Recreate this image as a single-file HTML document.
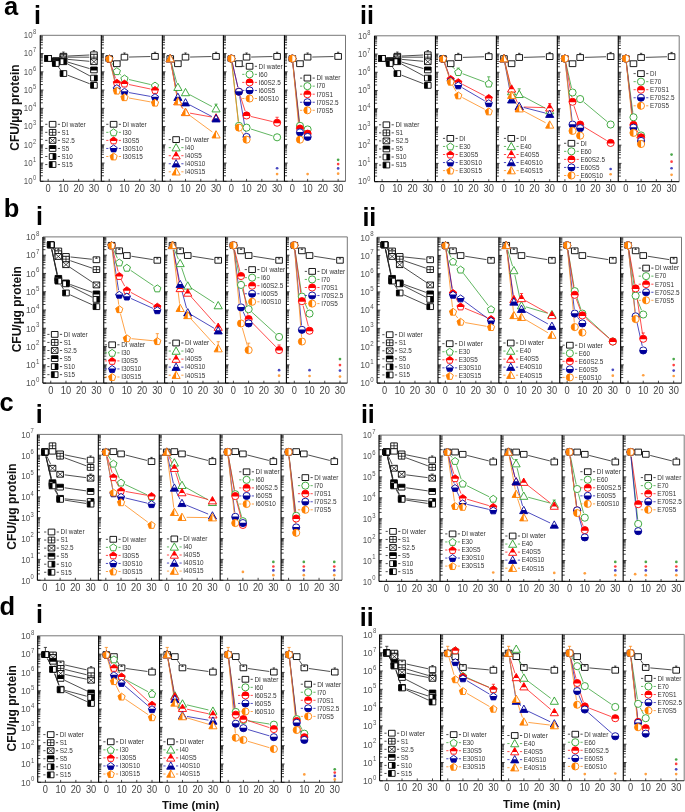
<!DOCTYPE html>
<html><head><meta charset="utf-8"><style>
html,body{margin:0;padding:0;background:#fff;}
svg{display:block;will-change:transform;filter:blur(0.35px);}
text{font-family:"Liberation Sans",sans-serif;}
.xt{font-size:10.1px;fill:#444;text-anchor:middle;}
.yt{fill:#555;text-anchor:end;}
.ytitle{font-size:12px;font-weight:bold;fill:#111;text-anchor:middle;}
.lt{font-size:25.5px;font-weight:bold;fill:#000;}
.rn{font-size:25px;font-weight:bold;fill:#000;}
.lg{font-size:6.9px;fill:#333;}
.tt{font-size:11.4px;font-weight:bold;fill:#111;text-anchor:middle;}
</style></head><body>
<svg width="685" height="812" viewBox="0 0 685 812">
<defs>
<clipPath id="htop"><rect x="-5.1" y="-5.1" width="10.2" height="5.6"/></clipPath>
<clipPath id="hbottom"><rect x="-5.1" y="-0.4" width="10.2" height="5.5"/></clipPath>
<clipPath id="hleft"><rect x="-5.1" y="-5.1" width="5.1" height="10.2"/></clipPath>
<clipPath id="hright"><rect x="0" y="-5.1" width="5.1" height="10.2"/></clipPath>
<g id="mcircbottomb"><path d="M-3.57 0a3.57 3.57 0 1 0 7.14 0a3.57 3.57 0 1 0 -7.14 0z" fill="#fff" stroke="#000099" stroke-width="0.9"/><path d="M-3.57 0a3.57 3.57 0 1 0 7.14 0a3.57 3.57 0 1 0 -7.14 0z" fill="#000099" clip-path="url(#hbottom)"/></g>
<g id="mcirclefto"><path d="M-3.57 0a3.57 3.57 0 1 0 7.14 0a3.57 3.57 0 1 0 -7.14 0z" fill="#fff" stroke="#ff8000" stroke-width="0.9"/><path d="M-3.57 0a3.57 3.57 0 1 0 7.14 0a3.57 3.57 0 1 0 -7.14 0z" fill="#ff8000" clip-path="url(#hleft)"/></g>
<g id="mcircopeng"><path d="M-3.57 0a3.57 3.57 0 1 0 7.14 0a3.57 3.57 0 1 0 -7.14 0z" fill="#fff" stroke="#2ca02c" stroke-width="0.9"/></g>
<g id="mcirctopr"><path d="M-3.57 0a3.57 3.57 0 1 0 7.14 0a3.57 3.57 0 1 0 -7.14 0z" fill="#fff" stroke="#ff0000" stroke-width="0.9"/><path d="M-3.57 0a3.57 3.57 0 1 0 7.14 0a3.57 3.57 0 1 0 -7.14 0z" fill="#ff0000" clip-path="url(#htop)"/></g>
<g id="mpentbottomb"><path d="M0 -3.46L3.62 -0.83L2.24 3.43L-2.24 3.43L-3.62 -0.83z" fill="#fff" stroke="#000099" stroke-width="0.9"/><path d="M0 -3.46L3.62 -0.83L2.24 3.43L-2.24 3.43L-3.62 -0.83z" fill="#000099" clip-path="url(#hbottom)"/></g>
<g id="mpentlefto"><path d="M0 -3.46L3.62 -0.83L2.24 3.43L-2.24 3.43L-3.62 -0.83z" fill="#fff" stroke="#ff8000" stroke-width="0.9"/><path d="M0 -3.46L3.62 -0.83L2.24 3.43L-2.24 3.43L-3.62 -0.83z" fill="#ff8000" clip-path="url(#hleft)"/></g>
<g id="mpentopeng"><path d="M0 -3.46L3.62 -0.83L2.24 3.43L-2.24 3.43L-3.62 -0.83z" fill="#fff" stroke="#2ca02c" stroke-width="0.9"/></g>
<g id="mpenttopr"><path d="M0 -3.46L3.62 -0.83L2.24 3.43L-2.24 3.43L-3.62 -0.83z" fill="#fff" stroke="#ff0000" stroke-width="0.9"/><path d="M0 -3.46L3.62 -0.83L2.24 3.43L-2.24 3.43L-3.62 -0.83z" fill="#ff0000" clip-path="url(#htop)"/></g>
<g id="msqleftk"><path d="M-3.3 -2.9h6.6v5.8h-6.6z" fill="#fff" stroke="#000" stroke-width="0.9"/><path d="M-3.3 -2.9h6.6v5.8h-6.6z" fill="#000" clip-path="url(#hleft)"/></g>
<g id="msqopenk"><path d="M-3.3 -2.9h6.6v5.8h-6.6z" fill="#fff" stroke="#000" stroke-width="0.9"/></g>
<g id="msqplusk"><path d="M-3.3 -2.9h6.6v5.8h-6.6z" fill="#fff" stroke="#000" stroke-width="0.9"/><path d="M-3.3 0h6.6M0 -2.9v5.8" stroke="#000" stroke-width="0.7"/></g>
<g id="msqrightk"><path d="M-3.3 -2.9h6.6v5.8h-6.6z" fill="#fff" stroke="#000" stroke-width="0.9"/><path d="M-3.3 -2.9h6.6v5.8h-6.6z" fill="#000" clip-path="url(#hright)"/></g>
<g id="msqtopk"><path d="M-3.3 -2.9h6.6v5.8h-6.6z" fill="#fff" stroke="#000" stroke-width="0.9"/><path d="M-3.3 -2.9h6.6v5.8h-6.6z" fill="#000" clip-path="url(#htop)"/></g>
<g id="msqxk"><path d="M-3.3 -2.9h6.6v5.8h-6.6z" fill="#fff" stroke="#000" stroke-width="0.9"/><path d="M-3.3 -2.9L3.3 2.9M3.3 -2.9L-3.3 2.9" stroke="#000" stroke-width="0.7"/></g>
<g id="mtribottomb"><path d="M0 -4.08L4.08 3.23L-4.08 3.23z" fill="#fff" stroke="#000099" stroke-width="0.9"/><path d="M0 -4.08L4.08 3.23L-4.08 3.23z" fill="#000099" clip-path="url(#hbottom)"/></g>
<g id="mtrilefto"><path d="M0 -4.08L4.08 3.23L-4.08 3.23z" fill="#fff" stroke="#ff8000" stroke-width="0.9"/><path d="M0 -4.08L4.08 3.23L-4.08 3.23z" fill="#ff8000" clip-path="url(#hleft)"/></g>
<g id="mtriopeng"><path d="M0 -4.08L4.08 3.23L-4.08 3.23z" fill="#fff" stroke="#2ca02c" stroke-width="0.9"/></g>
<g id="mtritopr"><path d="M0 -4.08L4.08 3.23L-4.08 3.23z" fill="#fff" stroke="#ff0000" stroke-width="0.9"/><path d="M0 -4.08L4.08 3.23L-4.08 3.23z" fill="#ff0000" clip-path="url(#htop)"/></g>
</defs>
<path d="M40.25 35.3H345.5V181.3" fill="none" stroke="#777" stroke-width="1"/>
<path d="M40.25 181.3H345.5" stroke="#222" stroke-width="1.1"/>
<path d="M40.25 35.3V181.3" stroke="#000" stroke-width="1.1"/>
<path d="M40.25 181.3h3.2M40.25 175.81h2.6M40.25 172.59h2.6M40.25 170.31h2.6M40.25 168.54h2.6M40.25 167.1h2.6M40.25 165.88h2.6M40.25 164.82h2.6M40.25 163.89h2.6M40.25 163.05h3.2M40.25 157.56h2.6M40.25 154.34h2.6M40.25 152.06h2.6M40.25 150.29h2.6M40.25 148.85h2.6M40.25 147.63h2.6M40.25 146.57h2.6M40.25 145.64h2.6M40.25 144.8h3.2M40.25 139.31h2.6M40.25 136.09h2.6M40.25 133.81h2.6M40.25 132.04h2.6M40.25 130.6h2.6M40.25 129.38h2.6M40.25 128.32h2.6M40.25 127.39h2.6M40.25 126.55h3.2M40.25 121.06h2.6M40.25 117.84h2.6M40.25 115.56h2.6M40.25 113.79h2.6M40.25 112.35h2.6M40.25 111.13h2.6M40.25 110.07h2.6M40.25 109.14h2.6M40.25 108.3h3.2M40.25 102.81h2.6M40.25 99.59h2.6M40.25 97.31h2.6M40.25 95.54h2.6M40.25 94.1h2.6M40.25 92.88h2.6M40.25 91.82h2.6M40.25 90.89h2.6M40.25 90.05h3.2M40.25 84.56h2.6M40.25 81.34h2.6M40.25 79.06h2.6M40.25 77.29h2.6M40.25 75.85h2.6M40.25 74.63h2.6M40.25 73.57h2.6M40.25 72.64h2.6M40.25 71.8h3.2M40.25 66.31h2.6M40.25 63.09h2.6M40.25 60.81h2.6M40.25 59.04h2.6M40.25 57.6h2.6M40.25 56.38h2.6M40.25 55.32h2.6M40.25 54.39h2.6M40.25 53.55h3.2M40.25 48.06h2.6M40.25 44.84h2.6M40.25 42.56h2.6M40.25 40.79h2.6M40.25 39.35h2.6M40.25 38.13h2.6M40.25 37.07h2.6M40.25 36.14h2.6" stroke="#000" stroke-width="0.75"/>
<path d="M48.15 181.3v-2.4M63.41 181.3v-2.4M78.67 181.3v-2.4M93.94 181.3v-2.4" stroke="#000" stroke-width="0.7"/>
<text transform="translate(48.15 191.8) scale(0.92 1)" class="xt">0</text>
<text transform="translate(63.41 191.8) scale(0.92 1)" class="xt">10</text>
<text transform="translate(78.67 191.8) scale(0.92 1)" class="xt">20</text>
<text transform="translate(93.94 191.8) scale(0.92 1)" class="xt">30</text>
<path d="M101.3 35.3V181.3" stroke="#000" stroke-width="1.1"/>
<path d="M101.3 181.3h3.2M101.3 175.81h2.6M101.3 172.59h2.6M101.3 170.31h2.6M101.3 168.54h2.6M101.3 167.1h2.6M101.3 165.88h2.6M101.3 164.82h2.6M101.3 163.89h2.6M101.3 163.05h3.2M101.3 157.56h2.6M101.3 154.34h2.6M101.3 152.06h2.6M101.3 150.29h2.6M101.3 148.85h2.6M101.3 147.63h2.6M101.3 146.57h2.6M101.3 145.64h2.6M101.3 144.8h3.2M101.3 139.31h2.6M101.3 136.09h2.6M101.3 133.81h2.6M101.3 132.04h2.6M101.3 130.6h2.6M101.3 129.38h2.6M101.3 128.32h2.6M101.3 127.39h2.6M101.3 126.55h3.2M101.3 121.06h2.6M101.3 117.84h2.6M101.3 115.56h2.6M101.3 113.79h2.6M101.3 112.35h2.6M101.3 111.13h2.6M101.3 110.07h2.6M101.3 109.14h2.6M101.3 108.3h3.2M101.3 102.81h2.6M101.3 99.59h2.6M101.3 97.31h2.6M101.3 95.54h2.6M101.3 94.1h2.6M101.3 92.88h2.6M101.3 91.82h2.6M101.3 90.89h2.6M101.3 90.05h3.2M101.3 84.56h2.6M101.3 81.34h2.6M101.3 79.06h2.6M101.3 77.29h2.6M101.3 75.85h2.6M101.3 74.63h2.6M101.3 73.57h2.6M101.3 72.64h2.6M101.3 71.8h3.2M101.3 66.31h2.6M101.3 63.09h2.6M101.3 60.81h2.6M101.3 59.04h2.6M101.3 57.6h2.6M101.3 56.38h2.6M101.3 55.32h2.6M101.3 54.39h2.6M101.3 53.55h3.2M101.3 48.06h2.6M101.3 44.84h2.6M101.3 42.56h2.6M101.3 40.79h2.6M101.3 39.35h2.6M101.3 38.13h2.6M101.3 37.07h2.6M101.3 36.14h2.6" stroke="#000" stroke-width="0.75"/>
<path d="M109.2 181.3v-2.4M124.46 181.3v-2.4M139.72 181.3v-2.4M154.99 181.3v-2.4" stroke="#000" stroke-width="0.7"/>
<text transform="translate(109.2 191.8) scale(0.92 1)" class="xt">0</text>
<text transform="translate(124.46 191.8) scale(0.92 1)" class="xt">10</text>
<text transform="translate(139.72 191.8) scale(0.92 1)" class="xt">20</text>
<text transform="translate(154.99 191.8) scale(0.92 1)" class="xt">30</text>
<path d="M162.35 35.3V181.3" stroke="#000" stroke-width="1.1"/>
<path d="M162.35 181.3h3.2M162.35 175.81h2.6M162.35 172.59h2.6M162.35 170.31h2.6M162.35 168.54h2.6M162.35 167.1h2.6M162.35 165.88h2.6M162.35 164.82h2.6M162.35 163.89h2.6M162.35 163.05h3.2M162.35 157.56h2.6M162.35 154.34h2.6M162.35 152.06h2.6M162.35 150.29h2.6M162.35 148.85h2.6M162.35 147.63h2.6M162.35 146.57h2.6M162.35 145.64h2.6M162.35 144.8h3.2M162.35 139.31h2.6M162.35 136.09h2.6M162.35 133.81h2.6M162.35 132.04h2.6M162.35 130.6h2.6M162.35 129.38h2.6M162.35 128.32h2.6M162.35 127.39h2.6M162.35 126.55h3.2M162.35 121.06h2.6M162.35 117.84h2.6M162.35 115.56h2.6M162.35 113.79h2.6M162.35 112.35h2.6M162.35 111.13h2.6M162.35 110.07h2.6M162.35 109.14h2.6M162.35 108.3h3.2M162.35 102.81h2.6M162.35 99.59h2.6M162.35 97.31h2.6M162.35 95.54h2.6M162.35 94.1h2.6M162.35 92.88h2.6M162.35 91.82h2.6M162.35 90.89h2.6M162.35 90.05h3.2M162.35 84.56h2.6M162.35 81.34h2.6M162.35 79.06h2.6M162.35 77.29h2.6M162.35 75.85h2.6M162.35 74.63h2.6M162.35 73.57h2.6M162.35 72.64h2.6M162.35 71.8h3.2M162.35 66.31h2.6M162.35 63.09h2.6M162.35 60.81h2.6M162.35 59.04h2.6M162.35 57.6h2.6M162.35 56.38h2.6M162.35 55.32h2.6M162.35 54.39h2.6M162.35 53.55h3.2M162.35 48.06h2.6M162.35 44.84h2.6M162.35 42.56h2.6M162.35 40.79h2.6M162.35 39.35h2.6M162.35 38.13h2.6M162.35 37.07h2.6M162.35 36.14h2.6" stroke="#000" stroke-width="0.75"/>
<path d="M170.25 181.3v-2.4M185.51 181.3v-2.4M200.78 181.3v-2.4M216.04 181.3v-2.4" stroke="#000" stroke-width="0.7"/>
<text transform="translate(170.25 191.8) scale(0.92 1)" class="xt">0</text>
<text transform="translate(185.51 191.8) scale(0.92 1)" class="xt">10</text>
<text transform="translate(200.78 191.8) scale(0.92 1)" class="xt">20</text>
<text transform="translate(216.04 191.8) scale(0.92 1)" class="xt">30</text>
<path d="M223.4 35.3V181.3" stroke="#000" stroke-width="1.1"/>
<path d="M223.4 181.3h3.2M223.4 175.81h2.6M223.4 172.59h2.6M223.4 170.31h2.6M223.4 168.54h2.6M223.4 167.1h2.6M223.4 165.88h2.6M223.4 164.82h2.6M223.4 163.89h2.6M223.4 163.05h3.2M223.4 157.56h2.6M223.4 154.34h2.6M223.4 152.06h2.6M223.4 150.29h2.6M223.4 148.85h2.6M223.4 147.63h2.6M223.4 146.57h2.6M223.4 145.64h2.6M223.4 144.8h3.2M223.4 139.31h2.6M223.4 136.09h2.6M223.4 133.81h2.6M223.4 132.04h2.6M223.4 130.6h2.6M223.4 129.38h2.6M223.4 128.32h2.6M223.4 127.39h2.6M223.4 126.55h3.2M223.4 121.06h2.6M223.4 117.84h2.6M223.4 115.56h2.6M223.4 113.79h2.6M223.4 112.35h2.6M223.4 111.13h2.6M223.4 110.07h2.6M223.4 109.14h2.6M223.4 108.3h3.2M223.4 102.81h2.6M223.4 99.59h2.6M223.4 97.31h2.6M223.4 95.54h2.6M223.4 94.1h2.6M223.4 92.88h2.6M223.4 91.82h2.6M223.4 90.89h2.6M223.4 90.05h3.2M223.4 84.56h2.6M223.4 81.34h2.6M223.4 79.06h2.6M223.4 77.29h2.6M223.4 75.85h2.6M223.4 74.63h2.6M223.4 73.57h2.6M223.4 72.64h2.6M223.4 71.8h3.2M223.4 66.31h2.6M223.4 63.09h2.6M223.4 60.81h2.6M223.4 59.04h2.6M223.4 57.6h2.6M223.4 56.38h2.6M223.4 55.32h2.6M223.4 54.39h2.6M223.4 53.55h3.2M223.4 48.06h2.6M223.4 44.84h2.6M223.4 42.56h2.6M223.4 40.79h2.6M223.4 39.35h2.6M223.4 38.13h2.6M223.4 37.07h2.6M223.4 36.14h2.6" stroke="#000" stroke-width="0.75"/>
<path d="M231.3 181.3v-2.4M246.56 181.3v-2.4M261.82 181.3v-2.4M277.09 181.3v-2.4" stroke="#000" stroke-width="0.7"/>
<text transform="translate(231.3 191.8) scale(0.92 1)" class="xt">0</text>
<text transform="translate(246.56 191.8) scale(0.92 1)" class="xt">10</text>
<text transform="translate(261.82 191.8) scale(0.92 1)" class="xt">20</text>
<text transform="translate(277.09 191.8) scale(0.92 1)" class="xt">30</text>
<path d="M284.45 35.3V181.3" stroke="#000" stroke-width="1.1"/>
<path d="M284.45 181.3h3.2M284.45 175.81h2.6M284.45 172.59h2.6M284.45 170.31h2.6M284.45 168.54h2.6M284.45 167.1h2.6M284.45 165.88h2.6M284.45 164.82h2.6M284.45 163.89h2.6M284.45 163.05h3.2M284.45 157.56h2.6M284.45 154.34h2.6M284.45 152.06h2.6M284.45 150.29h2.6M284.45 148.85h2.6M284.45 147.63h2.6M284.45 146.57h2.6M284.45 145.64h2.6M284.45 144.8h3.2M284.45 139.31h2.6M284.45 136.09h2.6M284.45 133.81h2.6M284.45 132.04h2.6M284.45 130.6h2.6M284.45 129.38h2.6M284.45 128.32h2.6M284.45 127.39h2.6M284.45 126.55h3.2M284.45 121.06h2.6M284.45 117.84h2.6M284.45 115.56h2.6M284.45 113.79h2.6M284.45 112.35h2.6M284.45 111.13h2.6M284.45 110.07h2.6M284.45 109.14h2.6M284.45 108.3h3.2M284.45 102.81h2.6M284.45 99.59h2.6M284.45 97.31h2.6M284.45 95.54h2.6M284.45 94.1h2.6M284.45 92.88h2.6M284.45 91.82h2.6M284.45 90.89h2.6M284.45 90.05h3.2M284.45 84.56h2.6M284.45 81.34h2.6M284.45 79.06h2.6M284.45 77.29h2.6M284.45 75.85h2.6M284.45 74.63h2.6M284.45 73.57h2.6M284.45 72.64h2.6M284.45 71.8h3.2M284.45 66.31h2.6M284.45 63.09h2.6M284.45 60.81h2.6M284.45 59.04h2.6M284.45 57.6h2.6M284.45 56.38h2.6M284.45 55.32h2.6M284.45 54.39h2.6M284.45 53.55h3.2M284.45 48.06h2.6M284.45 44.84h2.6M284.45 42.56h2.6M284.45 40.79h2.6M284.45 39.35h2.6M284.45 38.13h2.6M284.45 37.07h2.6M284.45 36.14h2.6" stroke="#000" stroke-width="0.75"/>
<path d="M292.35 181.3v-2.4M307.61 181.3v-2.4M322.87 181.3v-2.4M338.14 181.3v-2.4" stroke="#000" stroke-width="0.7"/>
<text transform="translate(292.35 191.8) scale(0.92 1)" class="xt">0</text>
<text transform="translate(307.61 191.8) scale(0.92 1)" class="xt">10</text>
<text transform="translate(322.87 191.8) scale(0.92 1)" class="xt">20</text>
<text transform="translate(338.14 191.8) scale(0.92 1)" class="xt">30</text>
<text transform="translate(36.25 184) scale(0.84 1)" class="yt" font-size="9.4">10<tspan dx="0.5" dy="-3.8" font-size="6.8">0</tspan></text>
<text transform="translate(36.25 165.75) scale(0.84 1)" class="yt" font-size="9.4">10<tspan dx="0.5" dy="-3.8" font-size="6.8">1</tspan></text>
<text transform="translate(36.25 147.5) scale(0.84 1)" class="yt" font-size="9.4">10<tspan dx="0.5" dy="-3.8" font-size="6.8">2</tspan></text>
<text transform="translate(36.25 129.25) scale(0.84 1)" class="yt" font-size="9.4">10<tspan dx="0.5" dy="-3.8" font-size="6.8">3</tspan></text>
<text transform="translate(36.25 111) scale(0.84 1)" class="yt" font-size="9.4">10<tspan dx="0.5" dy="-3.8" font-size="6.8">4</tspan></text>
<text transform="translate(36.25 92.75) scale(0.84 1)" class="yt" font-size="9.4">10<tspan dx="0.5" dy="-3.8" font-size="6.8">5</tspan></text>
<text transform="translate(36.25 74.5) scale(0.84 1)" class="yt" font-size="9.4">10<tspan dx="0.5" dy="-3.8" font-size="6.8">6</tspan></text>
<text transform="translate(36.25 56.25) scale(0.84 1)" class="yt" font-size="9.4">10<tspan dx="0.5" dy="-3.8" font-size="6.8">7</tspan></text>
<text transform="translate(36.25 38) scale(0.84 1)" class="yt" font-size="9.4">10<tspan dx="0.5" dy="-3.8" font-size="6.8">8</tspan></text>
<path d="M374.5 35.8H679.2V181.6" fill="none" stroke="#777" stroke-width="1"/>
<path d="M374.5 181.6H679.2" stroke="#222" stroke-width="1.1"/>
<path d="M374.5 35.8V181.6" stroke="#000" stroke-width="1.1"/>
<path d="M374.5 181.6h3.2M374.5 176.11h2.6M374.5 172.9h2.6M374.5 170.63h2.6M374.5 168.86h2.6M374.5 167.42h2.6M374.5 166.2h2.6M374.5 165.14h2.6M374.5 164.21h2.6M374.5 163.38h3.2M374.5 157.89h2.6M374.5 154.68h2.6M374.5 152.4h2.6M374.5 150.64h2.6M374.5 149.19h2.6M374.5 147.97h2.6M374.5 146.92h2.6M374.5 145.98h2.6M374.5 145.15h3.2M374.5 139.66h2.6M374.5 136.45h2.6M374.5 134.18h2.6M374.5 132.41h2.6M374.5 130.97h2.6M374.5 129.75h2.6M374.5 128.69h2.6M374.5 127.76h2.6M374.5 126.92h3.2M374.5 121.44h2.6M374.5 118.23h2.6M374.5 115.95h2.6M374.5 114.19h2.6M374.5 112.74h2.6M374.5 111.52h2.6M374.5 110.47h2.6M374.5 109.53h2.6M374.5 108.7h3.2M374.5 103.21h2.6M374.5 100h2.6M374.5 97.73h2.6M374.5 95.96h2.6M374.5 94.52h2.6M374.5 93.3h2.6M374.5 92.24h2.6M374.5 91.31h2.6M374.5 90.47h3.2M374.5 84.99h2.6M374.5 81.78h2.6M374.5 79.5h2.6M374.5 77.74h2.6M374.5 76.29h2.6M374.5 75.07h2.6M374.5 74.02h2.6M374.5 73.08h2.6M374.5 72.25h3.2M374.5 66.76h2.6M374.5 63.55h2.6M374.5 61.28h2.6M374.5 59.51h2.6M374.5 58.07h2.6M374.5 56.85h2.6M374.5 55.79h2.6M374.5 54.86h2.6M374.5 54.02h3.2M374.5 48.54h2.6M374.5 45.33h2.6M374.5 43.05h2.6M374.5 41.29h2.6M374.5 39.84h2.6M374.5 38.62h2.6M374.5 37.57h2.6M374.5 36.63h2.6" stroke="#000" stroke-width="0.75"/>
<path d="M382.1 181.6v-2.4M397.34 181.6v-2.4M412.57 181.6v-2.4M427.81 181.6v-2.4" stroke="#000" stroke-width="0.7"/>
<text transform="translate(382.1 192.1) scale(0.92 1)" class="xt">0</text>
<text transform="translate(397.34 192.1) scale(0.92 1)" class="xt">10</text>
<text transform="translate(412.57 192.1) scale(0.92 1)" class="xt">20</text>
<text transform="translate(427.81 192.1) scale(0.92 1)" class="xt">30</text>
<path d="M435.44 35.8V181.6" stroke="#000" stroke-width="1.1"/>
<path d="M435.44 181.6h3.2M435.44 176.11h2.6M435.44 172.9h2.6M435.44 170.63h2.6M435.44 168.86h2.6M435.44 167.42h2.6M435.44 166.2h2.6M435.44 165.14h2.6M435.44 164.21h2.6M435.44 163.38h3.2M435.44 157.89h2.6M435.44 154.68h2.6M435.44 152.4h2.6M435.44 150.64h2.6M435.44 149.19h2.6M435.44 147.97h2.6M435.44 146.92h2.6M435.44 145.98h2.6M435.44 145.15h3.2M435.44 139.66h2.6M435.44 136.45h2.6M435.44 134.18h2.6M435.44 132.41h2.6M435.44 130.97h2.6M435.44 129.75h2.6M435.44 128.69h2.6M435.44 127.76h2.6M435.44 126.92h3.2M435.44 121.44h2.6M435.44 118.23h2.6M435.44 115.95h2.6M435.44 114.19h2.6M435.44 112.74h2.6M435.44 111.52h2.6M435.44 110.47h2.6M435.44 109.53h2.6M435.44 108.7h3.2M435.44 103.21h2.6M435.44 100h2.6M435.44 97.73h2.6M435.44 95.96h2.6M435.44 94.52h2.6M435.44 93.3h2.6M435.44 92.24h2.6M435.44 91.31h2.6M435.44 90.47h3.2M435.44 84.99h2.6M435.44 81.78h2.6M435.44 79.5h2.6M435.44 77.74h2.6M435.44 76.29h2.6M435.44 75.07h2.6M435.44 74.02h2.6M435.44 73.08h2.6M435.44 72.25h3.2M435.44 66.76h2.6M435.44 63.55h2.6M435.44 61.28h2.6M435.44 59.51h2.6M435.44 58.07h2.6M435.44 56.85h2.6M435.44 55.79h2.6M435.44 54.86h2.6M435.44 54.02h3.2M435.44 48.54h2.6M435.44 45.33h2.6M435.44 43.05h2.6M435.44 41.29h2.6M435.44 39.84h2.6M435.44 38.62h2.6M435.44 37.57h2.6M435.44 36.63h2.6" stroke="#000" stroke-width="0.75"/>
<path d="M443.04 181.6v-2.4M458.28 181.6v-2.4M473.51 181.6v-2.4M488.75 181.6v-2.4" stroke="#000" stroke-width="0.7"/>
<text transform="translate(443.04 192.1) scale(0.92 1)" class="xt">0</text>
<text transform="translate(458.28 192.1) scale(0.92 1)" class="xt">10</text>
<text transform="translate(473.51 192.1) scale(0.92 1)" class="xt">20</text>
<text transform="translate(488.75 192.1) scale(0.92 1)" class="xt">30</text>
<path d="M496.38 35.8V181.6" stroke="#000" stroke-width="1.1"/>
<path d="M496.38 181.6h3.2M496.38 176.11h2.6M496.38 172.9h2.6M496.38 170.63h2.6M496.38 168.86h2.6M496.38 167.42h2.6M496.38 166.2h2.6M496.38 165.14h2.6M496.38 164.21h2.6M496.38 163.38h3.2M496.38 157.89h2.6M496.38 154.68h2.6M496.38 152.4h2.6M496.38 150.64h2.6M496.38 149.19h2.6M496.38 147.97h2.6M496.38 146.92h2.6M496.38 145.98h2.6M496.38 145.15h3.2M496.38 139.66h2.6M496.38 136.45h2.6M496.38 134.18h2.6M496.38 132.41h2.6M496.38 130.97h2.6M496.38 129.75h2.6M496.38 128.69h2.6M496.38 127.76h2.6M496.38 126.92h3.2M496.38 121.44h2.6M496.38 118.23h2.6M496.38 115.95h2.6M496.38 114.19h2.6M496.38 112.74h2.6M496.38 111.52h2.6M496.38 110.47h2.6M496.38 109.53h2.6M496.38 108.7h3.2M496.38 103.21h2.6M496.38 100h2.6M496.38 97.73h2.6M496.38 95.96h2.6M496.38 94.52h2.6M496.38 93.3h2.6M496.38 92.24h2.6M496.38 91.31h2.6M496.38 90.47h3.2M496.38 84.99h2.6M496.38 81.78h2.6M496.38 79.5h2.6M496.38 77.74h2.6M496.38 76.29h2.6M496.38 75.07h2.6M496.38 74.02h2.6M496.38 73.08h2.6M496.38 72.25h3.2M496.38 66.76h2.6M496.38 63.55h2.6M496.38 61.28h2.6M496.38 59.51h2.6M496.38 58.07h2.6M496.38 56.85h2.6M496.38 55.79h2.6M496.38 54.86h2.6M496.38 54.02h3.2M496.38 48.54h2.6M496.38 45.33h2.6M496.38 43.05h2.6M496.38 41.29h2.6M496.38 39.84h2.6M496.38 38.62h2.6M496.38 37.57h2.6M496.38 36.63h2.6" stroke="#000" stroke-width="0.75"/>
<path d="M503.98 181.6v-2.4M519.22 181.6v-2.4M534.45 181.6v-2.4M549.69 181.6v-2.4" stroke="#000" stroke-width="0.7"/>
<text transform="translate(503.98 192.1) scale(0.92 1)" class="xt">0</text>
<text transform="translate(519.22 192.1) scale(0.92 1)" class="xt">10</text>
<text transform="translate(534.45 192.1) scale(0.92 1)" class="xt">20</text>
<text transform="translate(549.69 192.1) scale(0.92 1)" class="xt">30</text>
<path d="M557.32 35.8V181.6" stroke="#000" stroke-width="1.1"/>
<path d="M557.32 181.6h3.2M557.32 176.11h2.6M557.32 172.9h2.6M557.32 170.63h2.6M557.32 168.86h2.6M557.32 167.42h2.6M557.32 166.2h2.6M557.32 165.14h2.6M557.32 164.21h2.6M557.32 163.38h3.2M557.32 157.89h2.6M557.32 154.68h2.6M557.32 152.4h2.6M557.32 150.64h2.6M557.32 149.19h2.6M557.32 147.97h2.6M557.32 146.92h2.6M557.32 145.98h2.6M557.32 145.15h3.2M557.32 139.66h2.6M557.32 136.45h2.6M557.32 134.18h2.6M557.32 132.41h2.6M557.32 130.97h2.6M557.32 129.75h2.6M557.32 128.69h2.6M557.32 127.76h2.6M557.32 126.92h3.2M557.32 121.44h2.6M557.32 118.23h2.6M557.32 115.95h2.6M557.32 114.19h2.6M557.32 112.74h2.6M557.32 111.52h2.6M557.32 110.47h2.6M557.32 109.53h2.6M557.32 108.7h3.2M557.32 103.21h2.6M557.32 100h2.6M557.32 97.73h2.6M557.32 95.96h2.6M557.32 94.52h2.6M557.32 93.3h2.6M557.32 92.24h2.6M557.32 91.31h2.6M557.32 90.47h3.2M557.32 84.99h2.6M557.32 81.78h2.6M557.32 79.5h2.6M557.32 77.74h2.6M557.32 76.29h2.6M557.32 75.07h2.6M557.32 74.02h2.6M557.32 73.08h2.6M557.32 72.25h3.2M557.32 66.76h2.6M557.32 63.55h2.6M557.32 61.28h2.6M557.32 59.51h2.6M557.32 58.07h2.6M557.32 56.85h2.6M557.32 55.79h2.6M557.32 54.86h2.6M557.32 54.02h3.2M557.32 48.54h2.6M557.32 45.33h2.6M557.32 43.05h2.6M557.32 41.29h2.6M557.32 39.84h2.6M557.32 38.62h2.6M557.32 37.57h2.6M557.32 36.63h2.6" stroke="#000" stroke-width="0.75"/>
<path d="M564.92 181.6v-2.4M580.16 181.6v-2.4M595.39 181.6v-2.4M610.63 181.6v-2.4" stroke="#000" stroke-width="0.7"/>
<text transform="translate(564.92 192.1) scale(0.92 1)" class="xt">0</text>
<text transform="translate(580.16 192.1) scale(0.92 1)" class="xt">10</text>
<text transform="translate(595.39 192.1) scale(0.92 1)" class="xt">20</text>
<text transform="translate(610.63 192.1) scale(0.92 1)" class="xt">30</text>
<path d="M618.26 35.8V181.6" stroke="#000" stroke-width="1.1"/>
<path d="M618.26 181.6h3.2M618.26 176.11h2.6M618.26 172.9h2.6M618.26 170.63h2.6M618.26 168.86h2.6M618.26 167.42h2.6M618.26 166.2h2.6M618.26 165.14h2.6M618.26 164.21h2.6M618.26 163.38h3.2M618.26 157.89h2.6M618.26 154.68h2.6M618.26 152.4h2.6M618.26 150.64h2.6M618.26 149.19h2.6M618.26 147.97h2.6M618.26 146.92h2.6M618.26 145.98h2.6M618.26 145.15h3.2M618.26 139.66h2.6M618.26 136.45h2.6M618.26 134.18h2.6M618.26 132.41h2.6M618.26 130.97h2.6M618.26 129.75h2.6M618.26 128.69h2.6M618.26 127.76h2.6M618.26 126.92h3.2M618.26 121.44h2.6M618.26 118.23h2.6M618.26 115.95h2.6M618.26 114.19h2.6M618.26 112.74h2.6M618.26 111.52h2.6M618.26 110.47h2.6M618.26 109.53h2.6M618.26 108.7h3.2M618.26 103.21h2.6M618.26 100h2.6M618.26 97.73h2.6M618.26 95.96h2.6M618.26 94.52h2.6M618.26 93.3h2.6M618.26 92.24h2.6M618.26 91.31h2.6M618.26 90.47h3.2M618.26 84.99h2.6M618.26 81.78h2.6M618.26 79.5h2.6M618.26 77.74h2.6M618.26 76.29h2.6M618.26 75.07h2.6M618.26 74.02h2.6M618.26 73.08h2.6M618.26 72.25h3.2M618.26 66.76h2.6M618.26 63.55h2.6M618.26 61.28h2.6M618.26 59.51h2.6M618.26 58.07h2.6M618.26 56.85h2.6M618.26 55.79h2.6M618.26 54.86h2.6M618.26 54.02h3.2M618.26 48.54h2.6M618.26 45.33h2.6M618.26 43.05h2.6M618.26 41.29h2.6M618.26 39.84h2.6M618.26 38.62h2.6M618.26 37.57h2.6M618.26 36.63h2.6" stroke="#000" stroke-width="0.75"/>
<path d="M625.86 181.6v-2.4M641.1 181.6v-2.4M656.33 181.6v-2.4M671.57 181.6v-2.4" stroke="#000" stroke-width="0.7"/>
<text transform="translate(625.86 192.1) scale(0.92 1)" class="xt">0</text>
<text transform="translate(641.1 192.1) scale(0.92 1)" class="xt">10</text>
<text transform="translate(656.33 192.1) scale(0.92 1)" class="xt">20</text>
<text transform="translate(671.57 192.1) scale(0.92 1)" class="xt">30</text>
<text transform="translate(370.5 184.3) scale(0.84 1)" class="yt" font-size="9.4">10<tspan dx="0.5" dy="-3.8" font-size="6.8">0</tspan></text>
<text transform="translate(370.5 166.07) scale(0.84 1)" class="yt" font-size="9.4">10<tspan dx="0.5" dy="-3.8" font-size="6.8">1</tspan></text>
<text transform="translate(370.5 147.85) scale(0.84 1)" class="yt" font-size="9.4">10<tspan dx="0.5" dy="-3.8" font-size="6.8">2</tspan></text>
<text transform="translate(370.5 129.62) scale(0.84 1)" class="yt" font-size="9.4">10<tspan dx="0.5" dy="-3.8" font-size="6.8">3</tspan></text>
<text transform="translate(370.5 111.4) scale(0.84 1)" class="yt" font-size="9.4">10<tspan dx="0.5" dy="-3.8" font-size="6.8">4</tspan></text>
<text transform="translate(370.5 93.17) scale(0.84 1)" class="yt" font-size="9.4">10<tspan dx="0.5" dy="-3.8" font-size="6.8">5</tspan></text>
<text transform="translate(370.5 74.95) scale(0.84 1)" class="yt" font-size="9.4">10<tspan dx="0.5" dy="-3.8" font-size="6.8">6</tspan></text>
<text transform="translate(370.5 56.72) scale(0.84 1)" class="yt" font-size="9.4">10<tspan dx="0.5" dy="-3.8" font-size="6.8">7</tspan></text>
<text transform="translate(370.5 38.5) scale(0.84 1)" class="yt" font-size="9.4">10<tspan dx="0.5" dy="-3.8" font-size="6.8">8</tspan></text>
<text transform="translate(18.55 107.5) rotate(-90)" class="ytitle">CFU/µg protein</text>
<text x="4.1" y="15.0" class="lt">a</text>
<text x="33.9" y="23.6" class="rn">i</text>
<text x="360.0" y="24.4" class="rn">ii</text>
<path d="M68.01 56.03L89.34 55.01" fill="none" stroke="#222" stroke-width="0.8"/>
<path d="M68.01 57.16L89.34 57.16" fill="none" stroke="#222" stroke-width="0.8"/>
<path d="M67.99 59.39L89.36 61.3" fill="none" stroke="#222" stroke-width="0.8"/>
<path d="M67.82 62.11L89.53 68.59" fill="none" stroke="#222" stroke-width="0.8"/>
<path d="M67.47 63.88L89.88 75.92" fill="none" stroke="#222" stroke-width="0.8"/>
<path d="M58.57 67.19L60.62 69.89M67.7 75.21L89.65 83.72" fill="none" stroke="#222" stroke-width="0.8"/>
<use href="#msqopenk" x="48.15" y="58.43"/>
<use href="#msqopenk" x="55.78" y="60.8"/>
<use href="#msqopenk" x="63.41" y="56.24"/>
<use href="#msqopenk" x="93.94" y="54.79"/>
<use href="#msqplusk" x="48.15" y="58.43"/>
<use href="#msqplusk" x="55.78" y="60.8"/>
<use href="#msqplusk" x="63.41" y="57.16"/>
<use href="#msqplusk" x="93.94" y="57.16"/>
<use href="#msqxk" x="48.15" y="58.43"/>
<use href="#msqxk" x="55.78" y="61.71"/>
<use href="#msqxk" x="63.41" y="58.98"/>
<use href="#msqxk" x="93.94" y="61.71"/>
<use href="#msqtopk" x="48.15" y="58.43"/>
<use href="#msqtopk" x="55.78" y="61.71"/>
<use href="#msqtopk" x="63.41" y="60.8"/>
<use href="#msqtopk" x="93.94" y="69.9"/>
<use href="#msqrightk" x="48.15" y="58.43"/>
<use href="#msqrightk" x="55.78" y="62.62"/>
<use href="#msqrightk" x="63.41" y="61.71"/>
<use href="#msqrightk" x="93.94" y="78.1"/>
<use href="#msqleftk" x="48.15" y="58.43"/>
<use href="#msqleftk" x="55.78" y="63.53"/>
<use href="#msqleftk" x="63.41" y="73.55"/>
<use href="#msqleftk" x="93.94" y="85.38"/>
<path d="M45.2 124.3h2.2M57.8 124.3h2.2" stroke="#222" stroke-width="0.8"/>
<use href="#msqopenk" x="52.6" y="124.3"/>
<text x="61.6" y="126.6" class="lg" textLength="24.09" lengthAdjust="spacingAndGlyphs">DI water</text>
<path d="M45.2 132.35h2.2M57.8 132.35h2.2" stroke="#222" stroke-width="0.8"/>
<use href="#msqplusk" x="52.6" y="132.35"/>
<text x="61.6" y="134.65" class="lg" textLength="7.6" lengthAdjust="spacingAndGlyphs">S1</text>
<path d="M45.2 140.4h2.2M57.8 140.4h2.2" stroke="#222" stroke-width="0.8"/>
<use href="#msqxk" x="52.6" y="140.4"/>
<text x="61.6" y="142.7" class="lg" textLength="13.1" lengthAdjust="spacingAndGlyphs">S2.5</text>
<path d="M45.2 148.45h2.2M57.8 148.45h2.2" stroke="#222" stroke-width="0.8"/>
<use href="#msqtopk" x="52.6" y="148.45"/>
<text x="61.6" y="150.75" class="lg" textLength="7.6" lengthAdjust="spacingAndGlyphs">S5</text>
<path d="M45.2 156.5h2.2M57.8 156.5h2.2" stroke="#222" stroke-width="0.8"/>
<use href="#msqrightk" x="52.6" y="156.5"/>
<text x="61.6" y="158.8" class="lg" textLength="11.19" lengthAdjust="spacingAndGlyphs">S10</text>
<path d="M45.2 164.55h2.2M57.8 164.55h2.2" stroke="#222" stroke-width="0.8"/>
<use href="#msqleftk" x="52.6" y="164.55"/>
<text x="61.6" y="166.85" class="lg" textLength="11.19" lengthAdjust="spacingAndGlyphs">S15</text>
<path d="M120.32 60.71L120.97 60.15M129.06 57.05L150.39 56.54" fill="none" stroke="#222" stroke-width="0.8"/>
<path d="M111.59 62.54L114.44 67.25M120.16 74.35L121.14 75.29M128.94 79.51L150.51 84.52" fill="none" stroke="#3aa33a" stroke-width="0.8"/>
<path d="M110.59 63L115.44 78.27M128.97 84.5L150.48 89" fill="none" stroke="#ff2020" stroke-width="0.8"/>
<path d="M110.35 63.07L115.68 83.66M128.99 92.57L150.46 96.41" fill="none" stroke="#2020b0" stroke-width="0.8"/>
<path d="M110.27 63.09L115.77 86.19M120.32 93.66L120.97 94.22M128.99 98.03L150.46 101.88" fill="none" stroke="#ff8c1a" stroke-width="0.8"/>
<use href="#msqopenk" x="109.2" y="58.61"/>
<use href="#msqopenk" x="116.83" y="63.71"/>
<use href="#msqopenk" x="124.46" y="57.16"/>
<use href="#msqopenk" x="154.99" y="56.43"/>
<use href="#mpentopeng" x="109.2" y="58.61"/>
<use href="#mpentopeng" x="116.83" y="71.18"/>
<use href="#mpentopeng" x="124.46" y="78.46"/>
<use href="#mpentopeng" x="154.99" y="85.57"/>
<use href="#mpenttopr" x="109.2" y="58.61"/>
<use href="#mpenttopr" x="116.83" y="82.65"/>
<use href="#mpenttopr" x="124.46" y="83.56"/>
<use href="#mpenttopr" x="154.99" y="89.94"/>
<use href="#mpentbottomb" x="109.2" y="58.61"/>
<use href="#mpentbottomb" x="116.83" y="88.12"/>
<use href="#mpentbottomb" x="124.46" y="91.76"/>
<use href="#mpentbottomb" x="154.99" y="97.22"/>
<use href="#mpentlefto" x="109.2" y="58.61"/>
<use href="#mpentlefto" x="116.83" y="90.67"/>
<use href="#mpentlefto" x="124.46" y="97.22"/>
<use href="#mpentlefto" x="154.99" y="102.69"/>
<path d="M106.2 124.3h2.2M118.8 124.3h2.2" stroke="#222" stroke-width="0.8"/>
<use href="#msqopenk" x="113.6" y="124.3"/>
<text x="122.6" y="126.6" class="lg" textLength="24.09" lengthAdjust="spacingAndGlyphs">DI water</text>
<path d="M106.2 132.35h2.2M118.8 132.35h2.2" stroke="#3aa33a" stroke-width="0.8"/>
<use href="#mpentopeng" x="113.6" y="132.35"/>
<text x="122.6" y="134.65" class="lg" textLength="8.84" lengthAdjust="spacingAndGlyphs">I30</text>
<path d="M106.2 140.4h2.2M118.8 140.4h2.2" stroke="#ff2020" stroke-width="0.8"/>
<use href="#mpenttopr" x="113.6" y="140.4"/>
<text x="122.6" y="142.7" class="lg" textLength="16.69" lengthAdjust="spacingAndGlyphs">I30S5</text>
<path d="M106.2 148.45h2.2M118.8 148.45h2.2" stroke="#2020b0" stroke-width="0.8"/>
<use href="#mpentbottomb" x="113.6" y="148.45"/>
<text x="122.6" y="150.75" class="lg" textLength="20.27" lengthAdjust="spacingAndGlyphs">I30S10</text>
<path d="M106.2 156.5h2.2M118.8 156.5h2.2" stroke="#ff8c1a" stroke-width="0.8"/>
<use href="#mpentlefto" x="113.6" y="156.5"/>
<text x="122.6" y="158.8" class="lg" textLength="20.27" lengthAdjust="spacingAndGlyphs">I30S15</text>
<path d="M181.37 60.71L182.02 60.15M190.11 57.05L211.44 56.54" fill="none" stroke="#222" stroke-width="0.8"/>
<path d="M171.44 63.06L176.7 82.76M189.58 94.64L211.97 106.54" fill="none" stroke="#3aa33a" stroke-width="0.8"/>
<path d="M171.06 63.14L177.07 96.88M180.52 105.18L182.88 108.57M190.04 113.15L211.51 116.99" fill="none" stroke="#ff2020" stroke-width="0.8"/>
<path d="M171.14 63.12L176.99 92.71M189.59 104.82L211.96 116.57" fill="none" stroke="#2020b0" stroke-width="0.8"/>
<path d="M171.05 63.14L177.08 97.06M180.54 105.34L182.85 108.59M189.22 115.06L212.33 132.02" fill="none" stroke="#ff8c1a" stroke-width="0.8"/>
<path d="M216.04 108.7V104.14M214.44 104.14h3.2" stroke="#3aa33a" stroke-width="0.8"/>
<use href="#msqopenk" x="170.25" y="58.61"/>
<use href="#msqopenk" x="177.88" y="63.71"/>
<use href="#msqopenk" x="185.51" y="57.16"/>
<use href="#msqopenk" x="216.04" y="56.43"/>
<use href="#mtriopeng" x="170.25" y="58.61"/>
<use href="#mtriopeng" x="177.88" y="87.21"/>
<use href="#mtriopeng" x="185.51" y="92.49"/>
<use href="#mtriopeng" x="216.04" y="108.7"/>
<use href="#mtritopr" x="170.25" y="58.61"/>
<use href="#mtritopr" x="177.88" y="101.41"/>
<use href="#mtritopr" x="185.51" y="112.34"/>
<use href="#mtritopr" x="216.04" y="117.8"/>
<use href="#mtribottomb" x="170.25" y="58.61"/>
<use href="#mtribottomb" x="177.88" y="97.22"/>
<use href="#mtribottomb" x="185.51" y="102.69"/>
<use href="#mtribottomb" x="216.04" y="118.71"/>
<use href="#mtrilefto" x="170.25" y="58.61"/>
<use href="#mtrilefto" x="177.88" y="101.59"/>
<use href="#mtrilefto" x="185.51" y="112.34"/>
<use href="#mtrilefto" x="216.04" y="134.74"/>
<path d="M168.7 139.6h2.2M181.3 139.6h2.2" stroke="#222" stroke-width="0.8"/>
<use href="#msqopenk" x="176.1" y="139.6"/>
<text x="185.1" y="141.9" class="lg" textLength="24.09" lengthAdjust="spacingAndGlyphs">DI water</text>
<path d="M168.7 147.65h2.2M181.3 147.65h2.2" stroke="#3aa33a" stroke-width="0.8"/>
<use href="#mtriopeng" x="176.1" y="147.65"/>
<text x="185.1" y="149.95" class="lg" textLength="8.84" lengthAdjust="spacingAndGlyphs">I40</text>
<path d="M168.7 155.7h2.2M181.3 155.7h2.2" stroke="#ff2020" stroke-width="0.8"/>
<use href="#mtritopr" x="176.1" y="155.7"/>
<text x="185.1" y="158" class="lg" textLength="16.69" lengthAdjust="spacingAndGlyphs">I40S5</text>
<path d="M168.7 163.75h2.2M181.3 163.75h2.2" stroke="#2020b0" stroke-width="0.8"/>
<use href="#mtribottomb" x="176.1" y="163.75"/>
<text x="185.1" y="166.05" class="lg" textLength="20.27" lengthAdjust="spacingAndGlyphs">I40S10</text>
<path d="M168.7 171.8h2.2M181.3 171.8h2.2" stroke="#ff8c1a" stroke-width="0.8"/>
<use href="#mtrilefto" x="176.1" y="171.8"/>
<text x="185.1" y="174.1" class="lg" textLength="20.27" lengthAdjust="spacingAndGlyphs">I40S15</text>
<path d="M242.42 60.71L243.07 60.15M251.16 57.05L272.49 56.54" fill="none" stroke="#222" stroke-width="0.8"/>
<path d="M231.82 63.18L238.41 121.25M250.95 129.02L272.7 135.9" fill="none" stroke="#3aa33a" stroke-width="0.8"/>
<path d="M232.33 63.09L237.9 87.28M240.34 96.14L245.15 111.06M251.04 116.5L272.61 121.65" fill="none" stroke="#ff2020" stroke-width="0.8"/>
<path d="M232.33 63.09L237.9 87.28M239.7 96.29L245.8 132.39" fill="none" stroke="#2020b0" stroke-width="0.8"/>
<path d="M231.81 63.18L238.43 123.07M241.4 131.52L244.1 135.77" fill="none" stroke="#ff8c1a" stroke-width="0.8"/>
<path d="M277.09 122.72V117.26M275.49 117.26h3.2" stroke="#ff2020" stroke-width="0.8"/>
<use href="#msqopenk" x="231.3" y="58.61"/>
<use href="#msqopenk" x="238.93" y="63.71"/>
<use href="#msqopenk" x="246.56" y="57.16"/>
<use href="#msqopenk" x="277.09" y="56.43"/>
<use href="#mcircopeng" x="231.3" y="58.61"/>
<use href="#mcircopeng" x="238.93" y="125.82"/>
<use href="#mcircopeng" x="246.56" y="127.64"/>
<use href="#mcircopeng" x="277.09" y="137.29"/>
<use href="#mcirctopr" x="231.3" y="58.61"/>
<use href="#mcirctopr" x="238.93" y="91.76"/>
<use href="#mcirctopr" x="246.56" y="115.44"/>
<use href="#mcirctopr" x="277.09" y="122.72"/>
<use href="#mcircbottomb" x="231.3" y="58.61"/>
<use href="#mcircbottomb" x="238.93" y="91.76"/>
<use href="#mcircbottomb" x="246.56" y="136.93"/>
<use href="#mcirclefto" x="231.3" y="58.61"/>
<use href="#mcirclefto" x="238.93" y="127.64"/>
<use href="#mcirclefto" x="246.56" y="139.66"/>
<circle cx="277.09" cy="168.25" r="1.35" fill="#4848c0"/>
<circle cx="277.09" cy="174.08" r="1.35" fill="#ffa040"/>
<path d="M242.2 66.3h2.2M254.8 66.3h2.2" stroke="#222" stroke-width="0.8"/>
<use href="#msqopenk" x="249.6" y="66.3"/>
<text x="258.6" y="68.6" class="lg" textLength="24.09" lengthAdjust="spacingAndGlyphs">DI water</text>
<path d="M242.2 74.35h2.2M254.8 74.35h2.2" stroke="#3aa33a" stroke-width="0.8"/>
<use href="#mcircopeng" x="249.6" y="74.35"/>
<text x="258.6" y="76.65" class="lg" textLength="8.84" lengthAdjust="spacingAndGlyphs">I60</text>
<path d="M242.2 82.4h2.2M254.8 82.4h2.2" stroke="#ff2020" stroke-width="0.8"/>
<use href="#mcirctopr" x="249.6" y="82.4"/>
<text x="258.6" y="84.7" class="lg" textLength="22.19" lengthAdjust="spacingAndGlyphs">I60S2.5</text>
<path d="M242.2 90.45h2.2M254.8 90.45h2.2" stroke="#2020b0" stroke-width="0.8"/>
<use href="#mcircbottomb" x="249.6" y="90.45"/>
<text x="258.6" y="92.75" class="lg" textLength="16.69" lengthAdjust="spacingAndGlyphs">I60S5</text>
<path d="M242.2 98.5h2.2M254.8 98.5h2.2" stroke="#ff8c1a" stroke-width="0.8"/>
<use href="#mcirclefto" x="249.6" y="98.5"/>
<text x="258.6" y="100.8" class="lg" textLength="20.27" lengthAdjust="spacingAndGlyphs">I60S10</text>
<path d="M303.47 60.71L304.12 60.15M312.21 57.05L333.54 56.54" fill="none" stroke="#222" stroke-width="0.8"/>
<path d="M292.87 63.18L299.46 121.25" fill="none" stroke="#3aa33a" stroke-width="0.8"/>
<path d="M292.85 63.18L299.48 123.98" fill="none" stroke="#ff2020" stroke-width="0.8"/>
<path d="M292.82 63.19L299.51 127.8" fill="none" stroke="#2020b0" stroke-width="0.8"/>
<path d="M292.78 63.19L299.55 135.08" fill="none" stroke="#ff8c1a" stroke-width="0.8"/>
<use href="#msqopenk" x="292.35" y="58.61"/>
<use href="#msqopenk" x="299.98" y="63.71"/>
<use href="#msqopenk" x="307.61" y="57.16"/>
<use href="#msqopenk" x="338.14" y="56.43"/>
<use href="#mcircopeng" x="292.35" y="58.61"/>
<use href="#mcircopeng" x="299.98" y="125.82"/>
<use href="#mcircopeng" x="307.61" y="129.46"/>
<use href="#mcirctopr" x="292.35" y="58.61"/>
<use href="#mcirctopr" x="299.98" y="128.55"/>
<use href="#mcirctopr" x="307.61" y="133.65"/>
<use href="#mcircbottomb" x="292.35" y="58.61"/>
<use href="#mcircbottomb" x="299.98" y="132.37"/>
<use href="#mcircbottomb" x="307.61" y="136.93"/>
<use href="#mcirclefto" x="292.35" y="58.61"/>
<use href="#mcirclefto" x="299.98" y="139.66"/>
<circle cx="307.61" cy="174.08" r="1.35" fill="#ffa040"/>
<circle cx="338.14" cy="159.87" r="1.35" fill="#4aa84a"/>
<circle cx="338.14" cy="164.06" r="1.35" fill="#ff4040"/>
<circle cx="338.14" cy="168.43" r="1.35" fill="#4848c0"/>
<circle cx="338.14" cy="173.72" r="1.35" fill="#ffa040"/>
<path d="M300 78.1h2.2M312.6 78.1h2.2" stroke="#222" stroke-width="0.8"/>
<use href="#msqopenk" x="307.4" y="78.1"/>
<text x="316.4" y="80.4" class="lg" textLength="24.09" lengthAdjust="spacingAndGlyphs">DI water</text>
<path d="M300 86.15h2.2M312.6 86.15h2.2" stroke="#3aa33a" stroke-width="0.8"/>
<use href="#mcircopeng" x="307.4" y="86.15"/>
<text x="316.4" y="88.45" class="lg" textLength="8.84" lengthAdjust="spacingAndGlyphs">I70</text>
<path d="M300 94.2h2.2M312.6 94.2h2.2" stroke="#ff2020" stroke-width="0.8"/>
<use href="#mcirctopr" x="307.4" y="94.2"/>
<text x="316.4" y="96.5" class="lg" textLength="16.69" lengthAdjust="spacingAndGlyphs">I70S1</text>
<path d="M300 102.25h2.2M312.6 102.25h2.2" stroke="#2020b0" stroke-width="0.8"/>
<use href="#mcircbottomb" x="307.4" y="102.25"/>
<text x="316.4" y="104.55" class="lg" textLength="22.19" lengthAdjust="spacingAndGlyphs">I70S2.5</text>
<path d="M300 110.3h2.2M312.6 110.3h2.2" stroke="#ff8c1a" stroke-width="0.8"/>
<use href="#mcirclefto" x="307.4" y="110.3"/>
<text x="316.4" y="112.6" class="lg" textLength="16.69" lengthAdjust="spacingAndGlyphs">I70S5</text>
<path d="M401.93 56.02L423.21 55.01" fill="none" stroke="#222" stroke-width="0.8"/>
<path d="M401.94 57.16L423.2 57.16" fill="none" stroke="#222" stroke-width="0.8"/>
<path d="M401.92 59.39L423.22 61.3" fill="none" stroke="#222" stroke-width="0.8"/>
<path d="M401.74 62.11L423.4 68.59" fill="none" stroke="#222" stroke-width="0.8"/>
<path d="M401.39 63.89L423.75 75.92" fill="none" stroke="#222" stroke-width="0.8"/>
<path d="M392.5 67.19L394.55 69.88M401.62 75.21L423.52 83.72" fill="none" stroke="#222" stroke-width="0.8"/>
<use href="#msqopenk" x="382.1" y="58.43"/>
<use href="#msqopenk" x="389.72" y="60.8"/>
<use href="#msqopenk" x="397.34" y="56.24"/>
<use href="#msqopenk" x="427.81" y="54.79"/>
<use href="#msqplusk" x="382.1" y="58.43"/>
<use href="#msqplusk" x="389.72" y="60.8"/>
<use href="#msqplusk" x="397.34" y="57.16"/>
<use href="#msqplusk" x="427.81" y="57.16"/>
<use href="#msqxk" x="382.1" y="58.43"/>
<use href="#msqxk" x="389.72" y="61.71"/>
<use href="#msqxk" x="397.34" y="58.98"/>
<use href="#msqxk" x="427.81" y="61.71"/>
<use href="#msqtopk" x="382.1" y="58.43"/>
<use href="#msqtopk" x="389.72" y="61.71"/>
<use href="#msqtopk" x="397.34" y="60.8"/>
<use href="#msqtopk" x="427.81" y="69.9"/>
<use href="#msqrightk" x="382.1" y="58.43"/>
<use href="#msqrightk" x="389.72" y="62.62"/>
<use href="#msqrightk" x="397.34" y="61.71"/>
<use href="#msqrightk" x="427.81" y="78.1"/>
<use href="#msqleftk" x="382.1" y="58.43"/>
<use href="#msqleftk" x="389.72" y="63.53"/>
<use href="#msqleftk" x="397.34" y="73.55"/>
<use href="#msqleftk" x="427.81" y="85.38"/>
<path d="M379 124.8h2.2M391.6 124.8h2.2" stroke="#222" stroke-width="0.8"/>
<use href="#msqopenk" x="386.4" y="124.8"/>
<text x="395.4" y="127.1" class="lg" textLength="24.09" lengthAdjust="spacingAndGlyphs">DI water</text>
<path d="M379 132.85h2.2M391.6 132.85h2.2" stroke="#222" stroke-width="0.8"/>
<use href="#msqplusk" x="386.4" y="132.85"/>
<text x="395.4" y="135.15" class="lg" textLength="7.6" lengthAdjust="spacingAndGlyphs">S1</text>
<path d="M379 140.9h2.2M391.6 140.9h2.2" stroke="#222" stroke-width="0.8"/>
<use href="#msqxk" x="386.4" y="140.9"/>
<text x="395.4" y="143.2" class="lg" textLength="13.1" lengthAdjust="spacingAndGlyphs">S2.5</text>
<path d="M379 148.95h2.2M391.6 148.95h2.2" stroke="#222" stroke-width="0.8"/>
<use href="#msqtopk" x="386.4" y="148.95"/>
<text x="395.4" y="151.25" class="lg" textLength="7.6" lengthAdjust="spacingAndGlyphs">S5</text>
<path d="M379 157h2.2M391.6 157h2.2" stroke="#222" stroke-width="0.8"/>
<use href="#msqrightk" x="386.4" y="157"/>
<text x="395.4" y="159.3" class="lg" textLength="11.19" lengthAdjust="spacingAndGlyphs">S10</text>
<path d="M379 165.05h2.2M391.6 165.05h2.2" stroke="#222" stroke-width="0.8"/>
<use href="#msqleftk" x="386.4" y="165.05"/>
<text x="395.4" y="167.35" class="lg" textLength="11.19" lengthAdjust="spacingAndGlyphs">S15</text>
<path d="M462.87 57.38L484.15 56.75" fill="none" stroke="#222" stroke-width="0.8"/>
<path d="M446.49 61.66L454.83 69.04M462.58 73.71L484.44 81.94" fill="none" stroke="#3aa33a" stroke-width="0.8"/>
<path d="M444.65 62.92L449.05 74.7M462.36 84.23L484.66 95.83" fill="none" stroke="#ff2020" stroke-width="0.8"/>
<path d="M444.53 62.96L449.17 76.48M462.24 87.71L484.78 100.91" fill="none" stroke="#2020b0" stroke-width="0.8"/>
<path d="M444.48 62.98L449.22 77.37M452.9 85.76L456.03 91.38M462.35 97.54L484.67 109.29" fill="none" stroke="#ff8c1a" stroke-width="0.8"/>
<path d="M458.28 72.09V68.08M456.68 68.08h3.2" stroke="#3aa33a" stroke-width="0.8"/>
<path d="M488.75 83.56V76.82M487.14 76.82h3.2" stroke="#3aa33a" stroke-width="0.8"/>
<use href="#msqopenk" x="443.04" y="58.61"/>
<use href="#msqopenk" x="450.66" y="63.71"/>
<use href="#msqopenk" x="458.28" y="57.52"/>
<use href="#msqopenk" x="488.75" y="56.61"/>
<use href="#mpentopeng" x="443.04" y="58.61"/>
<use href="#mpentopeng" x="458.28" y="72.09"/>
<use href="#mpentopeng" x="488.75" y="83.56"/>
<use href="#mpenttopr" x="443.04" y="58.61"/>
<use href="#mpenttopr" x="450.66" y="79.01"/>
<use href="#mpenttopr" x="458.28" y="82.11"/>
<use href="#mpenttopr" x="488.75" y="97.95"/>
<use href="#mpentbottomb" x="443.04" y="58.61"/>
<use href="#mpentbottomb" x="450.66" y="80.83"/>
<use href="#mpentbottomb" x="458.28" y="85.38"/>
<use href="#mpentbottomb" x="488.75" y="103.23"/>
<use href="#mpentlefto" x="443.04" y="58.61"/>
<use href="#mpentlefto" x="450.66" y="81.74"/>
<use href="#mpentlefto" x="458.28" y="95.4"/>
<use href="#mpentlefto" x="488.75" y="111.43"/>
<path d="M442.94 138.4h2.2M455.54 138.4h2.2" stroke="#222" stroke-width="0.8"/>
<use href="#msqopenk" x="450.34" y="138.4"/>
<text x="459.34" y="140.7" class="lg" textLength="6.26" lengthAdjust="spacingAndGlyphs">DI</text>
<path d="M442.94 146.45h2.2M455.54 146.45h2.2" stroke="#3aa33a" stroke-width="0.8"/>
<use href="#mpentopeng" x="450.34" y="146.45"/>
<text x="459.34" y="148.75" class="lg" textLength="11.19" lengthAdjust="spacingAndGlyphs">E30</text>
<path d="M442.94 154.5h2.2M455.54 154.5h2.2" stroke="#ff2020" stroke-width="0.8"/>
<use href="#mpenttopr" x="450.34" y="154.5"/>
<text x="459.34" y="156.8" class="lg" textLength="19.03" lengthAdjust="spacingAndGlyphs">E30S5</text>
<path d="M442.94 162.55h2.2M455.54 162.55h2.2" stroke="#2020b0" stroke-width="0.8"/>
<use href="#mpentbottomb" x="450.34" y="162.55"/>
<text x="459.34" y="164.85" class="lg" textLength="22.61" lengthAdjust="spacingAndGlyphs">E30S10</text>
<path d="M442.94 170.6h2.2M455.54 170.6h2.2" stroke="#ff8c1a" stroke-width="0.8"/>
<use href="#mpentlefto" x="450.34" y="170.6"/>
<text x="459.34" y="172.9" class="lg" textLength="22.61" lengthAdjust="spacingAndGlyphs">E30S15</text>
<path d="M523.81 57.38L545.09 56.75" fill="none" stroke="#222" stroke-width="0.8"/>
<path d="M505.02 63.09L510.56 87.09M523.28 96.47L545.62 108.36" fill="none" stroke="#3aa33a" stroke-width="0.8"/>
<path d="M505.1 63.07L510.47 84.38M513.39 93.08L517.42 102.64M523.81 107.01L545.09 107.65" fill="none" stroke="#ff2020" stroke-width="0.8"/>
<path d="M504.82 63.14L510.76 95.25M515.08 102.77L515.73 103.33M523.67 107.47L545.23 113.02" fill="none" stroke="#2020b0" stroke-width="0.8"/>
<path d="M504.92 63.12L510.66 90.72M513.86 99.22L516.95 104.69M523.28 110.86L545.62 122.75" fill="none" stroke="#ff8c1a" stroke-width="0.8"/>
<path d="M519.22 94.31V88.84M517.62 88.84h3.2" stroke="#3aa33a" stroke-width="0.8"/>
<path d="M549.69 107.79V103.6M548.09 103.6h3.2" stroke="#ff2020" stroke-width="0.8"/>
<use href="#msqopenk" x="503.98" y="58.61"/>
<use href="#msqopenk" x="511.6" y="63.71"/>
<use href="#msqopenk" x="519.22" y="57.52"/>
<use href="#msqopenk" x="549.69" y="56.61"/>
<use href="#mtriopeng" x="503.98" y="58.61"/>
<use href="#mtriopeng" x="511.6" y="91.58"/>
<use href="#mtriopeng" x="519.22" y="94.31"/>
<use href="#mtriopeng" x="549.69" y="110.52"/>
<use href="#mtritopr" x="503.98" y="58.61"/>
<use href="#mtritopr" x="511.6" y="88.84"/>
<use href="#mtritopr" x="519.22" y="106.88"/>
<use href="#mtritopr" x="549.69" y="107.79"/>
<use href="#mtribottomb" x="503.98" y="58.61"/>
<use href="#mtribottomb" x="511.6" y="99.77"/>
<use href="#mtribottomb" x="519.22" y="106.33"/>
<use href="#mtribottomb" x="549.69" y="114.16"/>
<use href="#mtrilefto" x="503.98" y="58.61"/>
<use href="#mtrilefto" x="511.6" y="95.22"/>
<use href="#mtrilefto" x="519.22" y="108.7"/>
<use href="#mtrilefto" x="549.69" y="124.91"/>
<path d="M503.88 138.4h2.2M516.48 138.4h2.2" stroke="#222" stroke-width="0.8"/>
<use href="#msqopenk" x="511.28" y="138.4"/>
<text x="520.28" y="140.7" class="lg" textLength="6.26" lengthAdjust="spacingAndGlyphs">DI</text>
<path d="M503.88 146.45h2.2M516.48 146.45h2.2" stroke="#3aa33a" stroke-width="0.8"/>
<use href="#mtriopeng" x="511.28" y="146.45"/>
<text x="520.28" y="148.75" class="lg" textLength="11.19" lengthAdjust="spacingAndGlyphs">E40</text>
<path d="M503.88 154.5h2.2M516.48 154.5h2.2" stroke="#ff2020" stroke-width="0.8"/>
<use href="#mtritopr" x="511.28" y="154.5"/>
<text x="520.28" y="156.8" class="lg" textLength="19.03" lengthAdjust="spacingAndGlyphs">E40S5</text>
<path d="M503.88 162.55h2.2M516.48 162.55h2.2" stroke="#2020b0" stroke-width="0.8"/>
<use href="#mtribottomb" x="511.28" y="162.55"/>
<text x="520.28" y="164.85" class="lg" textLength="22.61" lengthAdjust="spacingAndGlyphs">E40S10</text>
<path d="M503.88 170.6h2.2M516.48 170.6h2.2" stroke="#ff8c1a" stroke-width="0.8"/>
<use href="#mtrilefto" x="511.28" y="170.6"/>
<text x="520.28" y="172.9" class="lg" textLength="22.61" lengthAdjust="spacingAndGlyphs">E40S15</text>
<path d="M584.75 57.38L606.03 56.75" fill="none" stroke="#222" stroke-width="0.8"/>
<path d="M565.93 63.1L571.53 88M576.02 95.49L576.67 96.04M583.68 102L607.1 121.59" fill="none" stroke="#3aa33a" stroke-width="0.8"/>
<path d="M565.72 63.14L571.74 97.25M574 106.14L578.7 120.18M584.09 126.92L606.69 140.56" fill="none" stroke="#ff2020" stroke-width="0.8"/>
<path d="M565.45 63.18L572.01 119.97" fill="none" stroke="#2020b0" stroke-width="0.8"/>
<path d="M565.4 63.19L572.06 126.34" fill="none" stroke="#ff8c1a" stroke-width="0.8"/>
<use href="#msqopenk" x="564.92" y="58.61"/>
<use href="#msqopenk" x="572.54" y="63.71"/>
<use href="#msqopenk" x="580.16" y="57.52"/>
<use href="#msqopenk" x="610.63" y="56.61"/>
<use href="#mcircopeng" x="564.92" y="58.61"/>
<use href="#mcircopeng" x="572.54" y="92.49"/>
<use href="#mcircopeng" x="580.16" y="99.04"/>
<use href="#mcircopeng" x="610.63" y="124.54"/>
<use href="#mcirctopr" x="564.92" y="58.61"/>
<use href="#mcirctopr" x="572.54" y="101.78"/>
<use href="#mcirctopr" x="580.16" y="124.54"/>
<use href="#mcirctopr" x="610.63" y="142.94"/>
<use href="#mcircbottomb" x="564.92" y="58.61"/>
<use href="#mcircbottomb" x="572.54" y="124.54"/>
<use href="#mcircbottomb" x="580.16" y="128.18"/>
<use href="#mcirclefto" x="564.92" y="58.61"/>
<use href="#mcirclefto" x="572.54" y="130.92"/>
<use href="#mcirclefto" x="580.16" y="135.65"/>
<circle cx="610.63" cy="168.98" r="1.35" fill="#4848c0"/>
<circle cx="610.63" cy="174.26" r="1.35" fill="#ffa040"/>
<path d="M564.02 143.3h2.2M576.62 143.3h2.2" stroke="#222" stroke-width="0.8"/>
<use href="#msqopenk" x="571.42" y="143.3"/>
<text x="580.42" y="145.6" class="lg" textLength="6.26" lengthAdjust="spacingAndGlyphs">DI</text>
<path d="M564.02 151.35h2.2M576.62 151.35h2.2" stroke="#3aa33a" stroke-width="0.8"/>
<use href="#mcircopeng" x="571.42" y="151.35"/>
<text x="580.42" y="153.65" class="lg" textLength="11.19" lengthAdjust="spacingAndGlyphs">E60</text>
<path d="M564.02 159.4h2.2M576.62 159.4h2.2" stroke="#ff2020" stroke-width="0.8"/>
<use href="#mcirctopr" x="571.42" y="159.4"/>
<text x="580.42" y="161.7" class="lg" textLength="24.53" lengthAdjust="spacingAndGlyphs">E60S2.5</text>
<path d="M564.02 167.45h2.2M576.62 167.45h2.2" stroke="#2020b0" stroke-width="0.8"/>
<use href="#mcircbottomb" x="571.42" y="167.45"/>
<text x="580.42" y="169.75" class="lg" textLength="19.03" lengthAdjust="spacingAndGlyphs">E60S5</text>
<path d="M564.02 175.5h2.2M576.62 175.5h2.2" stroke="#ff8c1a" stroke-width="0.8"/>
<use href="#mcirclefto" x="571.42" y="175.5"/>
<text x="580.42" y="177.8" class="lg" textLength="22.61" lengthAdjust="spacingAndGlyphs">E60S10</text>
<path d="M645.69 57.38L666.97 56.75" fill="none" stroke="#222" stroke-width="0.8"/>
<path d="M626.45 63.17L632.88 112.69M635.25 121.5L639.32 131.22" fill="none" stroke="#3aa33a" stroke-width="0.8"/>
<path d="M626.39 63.18L632.95 120.34M635.89 128.82L638.69 133.37" fill="none" stroke="#ff2020" stroke-width="0.8"/>
<path d="M626.36 63.18L632.97 123.07M635.76 131.63L638.81 136.94" fill="none" stroke="#2020b0" stroke-width="0.8"/>
<path d="M626.33 63.19L633.01 128.34M636.08 136.71L638.49 140.23" fill="none" stroke="#ff8c1a" stroke-width="0.8"/>
<use href="#msqopenk" x="625.86" y="58.61"/>
<use href="#msqopenk" x="633.48" y="63.71"/>
<use href="#msqopenk" x="641.1" y="57.52"/>
<use href="#msqopenk" x="671.57" y="56.61"/>
<use href="#mcircopeng" x="625.86" y="58.61"/>
<use href="#mcircopeng" x="633.48" y="117.26"/>
<use href="#mcircopeng" x="641.1" y="135.47"/>
<use href="#mcirctopr" x="625.86" y="58.61"/>
<use href="#mcirctopr" x="633.48" y="124.91"/>
<use href="#mcirctopr" x="641.1" y="137.29"/>
<use href="#mcircbottomb" x="625.86" y="58.61"/>
<use href="#mcircbottomb" x="633.48" y="127.64"/>
<use href="#mcircbottomb" x="641.1" y="140.93"/>
<use href="#mcirclefto" x="625.86" y="58.61"/>
<use href="#mcirclefto" x="633.48" y="132.92"/>
<use href="#mcirclefto" x="641.1" y="144.03"/>
<circle cx="671.57" cy="154.59" r="1.35" fill="#4aa84a"/>
<circle cx="671.57" cy="161.69" r="1.35" fill="#ff4040"/>
<circle cx="671.57" cy="168.25" r="1.35" fill="#4848c0"/>
<circle cx="671.57" cy="174.81" r="1.35" fill="#ffa040"/>
<path d="M633.56 73.6h2.2M646.16 73.6h2.2" stroke="#222" stroke-width="0.8"/>
<use href="#msqopenk" x="640.96" y="73.6"/>
<text x="649.96" y="75.9" class="lg" textLength="6.26" lengthAdjust="spacingAndGlyphs">DI</text>
<path d="M633.56 81.65h2.2M646.16 81.65h2.2" stroke="#3aa33a" stroke-width="0.8"/>
<use href="#mcircopeng" x="640.96" y="81.65"/>
<text x="649.96" y="83.95" class="lg" textLength="11.19" lengthAdjust="spacingAndGlyphs">E70</text>
<path d="M633.56 89.7h2.2M646.16 89.7h2.2" stroke="#ff2020" stroke-width="0.8"/>
<use href="#mcirctopr" x="640.96" y="89.7"/>
<text x="649.96" y="92" class="lg" textLength="19.03" lengthAdjust="spacingAndGlyphs">E70S1</text>
<path d="M633.56 97.75h2.2M646.16 97.75h2.2" stroke="#2020b0" stroke-width="0.8"/>
<use href="#mcircbottomb" x="640.96" y="97.75"/>
<text x="649.96" y="100.05" class="lg" textLength="24.53" lengthAdjust="spacingAndGlyphs">E70S2.5</text>
<path d="M633.56 105.8h2.2M646.16 105.8h2.2" stroke="#ff8c1a" stroke-width="0.8"/>
<use href="#mcirclefto" x="640.96" y="105.8"/>
<text x="649.96" y="108.1" class="lg" textLength="19.03" lengthAdjust="spacingAndGlyphs">E70S5</text>
<path d="M42.85 236.9H347.3V383.1" fill="none" stroke="#777" stroke-width="1"/>
<path d="M42.85 383.1H347.3" stroke="#222" stroke-width="1.1"/>
<path d="M42.85 236.9V383.1" stroke="#000" stroke-width="1.1"/>
<path d="M42.85 383.1h3.2M42.85 377.6h2.6M42.85 374.38h2.6M42.85 372.1h2.6M42.85 370.33h2.6M42.85 368.88h2.6M42.85 367.66h2.6M42.85 366.6h2.6M42.85 365.66h2.6M42.85 364.83h3.2M42.85 359.32h2.6M42.85 356.11h2.6M42.85 353.82h2.6M42.85 352.05h2.6M42.85 350.6h2.6M42.85 349.38h2.6M42.85 348.32h2.6M42.85 347.39h2.6M42.85 346.55h3.2M42.85 341.05h2.6M42.85 337.83h2.6M42.85 335.55h2.6M42.85 333.78h2.6M42.85 332.33h2.6M42.85 331.11h2.6M42.85 330.05h2.6M42.85 329.11h2.6M42.85 328.28h3.2M42.85 322.77h2.6M42.85 319.56h2.6M42.85 317.27h2.6M42.85 315.5h2.6M42.85 314.05h2.6M42.85 312.83h2.6M42.85 311.77h2.6M42.85 310.84h2.6M42.85 310h3.2M42.85 304.5h2.6M42.85 301.28h2.6M42.85 299h2.6M42.85 297.23h2.6M42.85 295.78h2.6M42.85 294.56h2.6M42.85 293.5h2.6M42.85 292.56h2.6M42.85 291.73h3.2M42.85 286.22h2.6M42.85 283.01h2.6M42.85 280.72h2.6M42.85 278.95h2.6M42.85 277.5h2.6M42.85 276.28h2.6M42.85 275.22h2.6M42.85 274.29h2.6M42.85 273.45h3.2M42.85 267.95h2.6M42.85 264.73h2.6M42.85 262.45h2.6M42.85 260.68h2.6M42.85 259.23h2.6M42.85 258.01h2.6M42.85 256.95h2.6M42.85 256.01h2.6M42.85 255.18h3.2M42.85 249.67h2.6M42.85 246.46h2.6M42.85 244.17h2.6M42.85 242.4h2.6M42.85 240.95h2.6M42.85 239.73h2.6M42.85 238.67h2.6M42.85 237.74h2.6" stroke="#000" stroke-width="0.75"/>
<path d="M50.75 383.1v-2.4M65.97 383.1v-2.4M81.19 383.1v-2.4M96.42 383.1v-2.4" stroke="#000" stroke-width="0.7"/>
<text transform="translate(50.75 393.6) scale(0.92 1)" class="xt">0</text>
<text transform="translate(65.97 393.6) scale(0.92 1)" class="xt">10</text>
<text transform="translate(81.19 393.6) scale(0.92 1)" class="xt">20</text>
<text transform="translate(96.42 393.6) scale(0.92 1)" class="xt">30</text>
<path d="M103.74 236.9V383.1" stroke="#000" stroke-width="1.1"/>
<path d="M103.74 383.1h3.2M103.74 377.6h2.6M103.74 374.38h2.6M103.74 372.1h2.6M103.74 370.33h2.6M103.74 368.88h2.6M103.74 367.66h2.6M103.74 366.6h2.6M103.74 365.66h2.6M103.74 364.83h3.2M103.74 359.32h2.6M103.74 356.11h2.6M103.74 353.82h2.6M103.74 352.05h2.6M103.74 350.6h2.6M103.74 349.38h2.6M103.74 348.32h2.6M103.74 347.39h2.6M103.74 346.55h3.2M103.74 341.05h2.6M103.74 337.83h2.6M103.74 335.55h2.6M103.74 333.78h2.6M103.74 332.33h2.6M103.74 331.11h2.6M103.74 330.05h2.6M103.74 329.11h2.6M103.74 328.28h3.2M103.74 322.77h2.6M103.74 319.56h2.6M103.74 317.27h2.6M103.74 315.5h2.6M103.74 314.05h2.6M103.74 312.83h2.6M103.74 311.77h2.6M103.74 310.84h2.6M103.74 310h3.2M103.74 304.5h2.6M103.74 301.28h2.6M103.74 299h2.6M103.74 297.23h2.6M103.74 295.78h2.6M103.74 294.56h2.6M103.74 293.5h2.6M103.74 292.56h2.6M103.74 291.73h3.2M103.74 286.22h2.6M103.74 283.01h2.6M103.74 280.72h2.6M103.74 278.95h2.6M103.74 277.5h2.6M103.74 276.28h2.6M103.74 275.22h2.6M103.74 274.29h2.6M103.74 273.45h3.2M103.74 267.95h2.6M103.74 264.73h2.6M103.74 262.45h2.6M103.74 260.68h2.6M103.74 259.23h2.6M103.74 258.01h2.6M103.74 256.95h2.6M103.74 256.01h2.6M103.74 255.18h3.2M103.74 249.67h2.6M103.74 246.46h2.6M103.74 244.17h2.6M103.74 242.4h2.6M103.74 240.95h2.6M103.74 239.73h2.6M103.74 238.67h2.6M103.74 237.74h2.6" stroke="#000" stroke-width="0.75"/>
<path d="M111.64 383.1v-2.4M126.86 383.1v-2.4M142.09 383.1v-2.4M157.31 383.1v-2.4" stroke="#000" stroke-width="0.7"/>
<text transform="translate(111.64 393.6) scale(0.92 1)" class="xt">0</text>
<text transform="translate(126.86 393.6) scale(0.92 1)" class="xt">10</text>
<text transform="translate(142.09 393.6) scale(0.92 1)" class="xt">20</text>
<text transform="translate(157.31 393.6) scale(0.92 1)" class="xt">30</text>
<path d="M164.63 236.9V383.1" stroke="#000" stroke-width="1.1"/>
<path d="M164.63 383.1h3.2M164.63 377.6h2.6M164.63 374.38h2.6M164.63 372.1h2.6M164.63 370.33h2.6M164.63 368.88h2.6M164.63 367.66h2.6M164.63 366.6h2.6M164.63 365.66h2.6M164.63 364.83h3.2M164.63 359.32h2.6M164.63 356.11h2.6M164.63 353.82h2.6M164.63 352.05h2.6M164.63 350.6h2.6M164.63 349.38h2.6M164.63 348.32h2.6M164.63 347.39h2.6M164.63 346.55h3.2M164.63 341.05h2.6M164.63 337.83h2.6M164.63 335.55h2.6M164.63 333.78h2.6M164.63 332.33h2.6M164.63 331.11h2.6M164.63 330.05h2.6M164.63 329.11h2.6M164.63 328.28h3.2M164.63 322.77h2.6M164.63 319.56h2.6M164.63 317.27h2.6M164.63 315.5h2.6M164.63 314.05h2.6M164.63 312.83h2.6M164.63 311.77h2.6M164.63 310.84h2.6M164.63 310h3.2M164.63 304.5h2.6M164.63 301.28h2.6M164.63 299h2.6M164.63 297.23h2.6M164.63 295.78h2.6M164.63 294.56h2.6M164.63 293.5h2.6M164.63 292.56h2.6M164.63 291.73h3.2M164.63 286.22h2.6M164.63 283.01h2.6M164.63 280.72h2.6M164.63 278.95h2.6M164.63 277.5h2.6M164.63 276.28h2.6M164.63 275.22h2.6M164.63 274.29h2.6M164.63 273.45h3.2M164.63 267.95h2.6M164.63 264.73h2.6M164.63 262.45h2.6M164.63 260.68h2.6M164.63 259.23h2.6M164.63 258.01h2.6M164.63 256.95h2.6M164.63 256.01h2.6M164.63 255.18h3.2M164.63 249.67h2.6M164.63 246.46h2.6M164.63 244.17h2.6M164.63 242.4h2.6M164.63 240.95h2.6M164.63 239.73h2.6M164.63 238.67h2.6M164.63 237.74h2.6" stroke="#000" stroke-width="0.75"/>
<path d="M172.53 383.1v-2.4M187.75 383.1v-2.4M202.97 383.1v-2.4M218.2 383.1v-2.4" stroke="#000" stroke-width="0.7"/>
<text transform="translate(172.53 393.6) scale(0.92 1)" class="xt">0</text>
<text transform="translate(187.75 393.6) scale(0.92 1)" class="xt">10</text>
<text transform="translate(202.97 393.6) scale(0.92 1)" class="xt">20</text>
<text transform="translate(218.2 393.6) scale(0.92 1)" class="xt">30</text>
<path d="M225.52 236.9V383.1" stroke="#000" stroke-width="1.1"/>
<path d="M225.52 383.1h3.2M225.52 377.6h2.6M225.52 374.38h2.6M225.52 372.1h2.6M225.52 370.33h2.6M225.52 368.88h2.6M225.52 367.66h2.6M225.52 366.6h2.6M225.52 365.66h2.6M225.52 364.83h3.2M225.52 359.32h2.6M225.52 356.11h2.6M225.52 353.82h2.6M225.52 352.05h2.6M225.52 350.6h2.6M225.52 349.38h2.6M225.52 348.32h2.6M225.52 347.39h2.6M225.52 346.55h3.2M225.52 341.05h2.6M225.52 337.83h2.6M225.52 335.55h2.6M225.52 333.78h2.6M225.52 332.33h2.6M225.52 331.11h2.6M225.52 330.05h2.6M225.52 329.11h2.6M225.52 328.28h3.2M225.52 322.77h2.6M225.52 319.56h2.6M225.52 317.27h2.6M225.52 315.5h2.6M225.52 314.05h2.6M225.52 312.83h2.6M225.52 311.77h2.6M225.52 310.84h2.6M225.52 310h3.2M225.52 304.5h2.6M225.52 301.28h2.6M225.52 299h2.6M225.52 297.23h2.6M225.52 295.78h2.6M225.52 294.56h2.6M225.52 293.5h2.6M225.52 292.56h2.6M225.52 291.73h3.2M225.52 286.22h2.6M225.52 283.01h2.6M225.52 280.72h2.6M225.52 278.95h2.6M225.52 277.5h2.6M225.52 276.28h2.6M225.52 275.22h2.6M225.52 274.29h2.6M225.52 273.45h3.2M225.52 267.95h2.6M225.52 264.73h2.6M225.52 262.45h2.6M225.52 260.68h2.6M225.52 259.23h2.6M225.52 258.01h2.6M225.52 256.95h2.6M225.52 256.01h2.6M225.52 255.18h3.2M225.52 249.67h2.6M225.52 246.46h2.6M225.52 244.17h2.6M225.52 242.4h2.6M225.52 240.95h2.6M225.52 239.73h2.6M225.52 238.67h2.6M225.52 237.74h2.6" stroke="#000" stroke-width="0.75"/>
<path d="M233.42 383.1v-2.4M248.64 383.1v-2.4M263.87 383.1v-2.4M279.09 383.1v-2.4" stroke="#000" stroke-width="0.7"/>
<text transform="translate(233.42 393.6) scale(0.92 1)" class="xt">0</text>
<text transform="translate(248.64 393.6) scale(0.92 1)" class="xt">10</text>
<text transform="translate(263.87 393.6) scale(0.92 1)" class="xt">20</text>
<text transform="translate(279.09 393.6) scale(0.92 1)" class="xt">30</text>
<path d="M286.41 236.9V383.1" stroke="#000" stroke-width="1.1"/>
<path d="M286.41 383.1h3.2M286.41 377.6h2.6M286.41 374.38h2.6M286.41 372.1h2.6M286.41 370.33h2.6M286.41 368.88h2.6M286.41 367.66h2.6M286.41 366.6h2.6M286.41 365.66h2.6M286.41 364.83h3.2M286.41 359.32h2.6M286.41 356.11h2.6M286.41 353.82h2.6M286.41 352.05h2.6M286.41 350.6h2.6M286.41 349.38h2.6M286.41 348.32h2.6M286.41 347.39h2.6M286.41 346.55h3.2M286.41 341.05h2.6M286.41 337.83h2.6M286.41 335.55h2.6M286.41 333.78h2.6M286.41 332.33h2.6M286.41 331.11h2.6M286.41 330.05h2.6M286.41 329.11h2.6M286.41 328.28h3.2M286.41 322.77h2.6M286.41 319.56h2.6M286.41 317.27h2.6M286.41 315.5h2.6M286.41 314.05h2.6M286.41 312.83h2.6M286.41 311.77h2.6M286.41 310.84h2.6M286.41 310h3.2M286.41 304.5h2.6M286.41 301.28h2.6M286.41 299h2.6M286.41 297.23h2.6M286.41 295.78h2.6M286.41 294.56h2.6M286.41 293.5h2.6M286.41 292.56h2.6M286.41 291.73h3.2M286.41 286.22h2.6M286.41 283.01h2.6M286.41 280.72h2.6M286.41 278.95h2.6M286.41 277.5h2.6M286.41 276.28h2.6M286.41 275.22h2.6M286.41 274.29h2.6M286.41 273.45h3.2M286.41 267.95h2.6M286.41 264.73h2.6M286.41 262.45h2.6M286.41 260.68h2.6M286.41 259.23h2.6M286.41 258.01h2.6M286.41 256.95h2.6M286.41 256.01h2.6M286.41 255.18h3.2M286.41 249.67h2.6M286.41 246.46h2.6M286.41 244.17h2.6M286.41 242.4h2.6M286.41 240.95h2.6M286.41 239.73h2.6M286.41 238.67h2.6M286.41 237.74h2.6" stroke="#000" stroke-width="0.75"/>
<path d="M294.31 383.1v-2.4M309.53 383.1v-2.4M324.75 383.1v-2.4M339.98 383.1v-2.4" stroke="#000" stroke-width="0.7"/>
<text transform="translate(294.31 393.6) scale(0.92 1)" class="xt">0</text>
<text transform="translate(309.53 393.6) scale(0.92 1)" class="xt">10</text>
<text transform="translate(324.75 393.6) scale(0.92 1)" class="xt">20</text>
<text transform="translate(339.98 393.6) scale(0.92 1)" class="xt">30</text>
<text transform="translate(39.45 386.4) scale(0.9 1)" class="yt" font-size="9.6">10<tspan dx="0.5" dy="-4.4" font-size="6.8">0</tspan></text>
<text transform="translate(39.45 368.13) scale(0.9 1)" class="yt" font-size="9.6">10<tspan dx="0.5" dy="-4.4" font-size="6.8">1</tspan></text>
<text transform="translate(39.45 349.85) scale(0.9 1)" class="yt" font-size="9.6">10<tspan dx="0.5" dy="-4.4" font-size="6.8">2</tspan></text>
<text transform="translate(39.45 331.58) scale(0.9 1)" class="yt" font-size="9.6">10<tspan dx="0.5" dy="-4.4" font-size="6.8">3</tspan></text>
<text transform="translate(39.45 313.3) scale(0.9 1)" class="yt" font-size="9.6">10<tspan dx="0.5" dy="-4.4" font-size="6.8">4</tspan></text>
<text transform="translate(39.45 295.03) scale(0.9 1)" class="yt" font-size="9.6">10<tspan dx="0.5" dy="-4.4" font-size="6.8">5</tspan></text>
<text transform="translate(39.45 276.75) scale(0.9 1)" class="yt" font-size="9.6">10<tspan dx="0.5" dy="-4.4" font-size="6.8">6</tspan></text>
<text transform="translate(39.45 258.48) scale(0.9 1)" class="yt" font-size="9.6">10<tspan dx="0.5" dy="-4.4" font-size="6.8">7</tspan></text>
<text transform="translate(39.45 240.2) scale(0.9 1)" class="yt" font-size="9.6">10<tspan dx="0.5" dy="-4.4" font-size="6.8">8</tspan></text>
<path d="M377.1 237.2H681.5V383.1" fill="none" stroke="#777" stroke-width="1"/>
<path d="M377.1 383.1H681.5" stroke="#222" stroke-width="1.1"/>
<path d="M377.1 237.2V383.1" stroke="#000" stroke-width="1.1"/>
<path d="M377.1 383.1h3.2M377.1 377.61h2.6M377.1 374.4h2.6M377.1 372.12h2.6M377.1 370.35h2.6M377.1 368.91h2.6M377.1 367.69h2.6M377.1 366.63h2.6M377.1 365.7h2.6M377.1 364.86h3.2M377.1 359.37h2.6M377.1 356.16h2.6M377.1 353.88h2.6M377.1 352.12h2.6M377.1 350.67h2.6M377.1 349.45h2.6M377.1 348.39h2.6M377.1 347.46h2.6M377.1 346.62h3.2M377.1 341.13h2.6M377.1 337.92h2.6M377.1 335.64h2.6M377.1 333.88h2.6M377.1 332.43h2.6M377.1 331.21h2.6M377.1 330.15h2.6M377.1 329.22h2.6M377.1 328.39h3.2M377.1 322.9h2.6M377.1 319.69h2.6M377.1 317.41h2.6M377.1 315.64h2.6M377.1 314.2h2.6M377.1 312.98h2.6M377.1 311.92h2.6M377.1 310.98h2.6M377.1 310.15h3.2M377.1 304.66h2.6M377.1 301.45h2.6M377.1 299.17h2.6M377.1 297.4h2.6M377.1 295.96h2.6M377.1 294.74h2.6M377.1 293.68h2.6M377.1 292.75h2.6M377.1 291.91h3.2M377.1 286.42h2.6M377.1 283.21h2.6M377.1 280.93h2.6M377.1 279.17h2.6M377.1 277.72h2.6M377.1 276.5h2.6M377.1 275.44h2.6M377.1 274.51h2.6M377.1 273.68h3.2M377.1 268.18h2.6M377.1 264.97h2.6M377.1 262.69h2.6M377.1 260.93h2.6M377.1 259.48h2.6M377.1 258.26h2.6M377.1 257.2h2.6M377.1 256.27h2.6M377.1 255.44h3.2M377.1 249.95h2.6M377.1 246.74h2.6M377.1 244.46h2.6M377.1 242.69h2.6M377.1 241.25h2.6M377.1 240.03h2.6M377.1 238.97h2.6M377.1 238.03h2.6" stroke="#000" stroke-width="0.75"/>
<path d="M384.5 383.1v-2.4M399.72 383.1v-2.4M414.94 383.1v-2.4M430.16 383.1v-2.4" stroke="#000" stroke-width="0.7"/>
<text transform="translate(384.5 393.6) scale(0.92 1)" class="xt">0</text>
<text transform="translate(399.72 393.6) scale(0.92 1)" class="xt">10</text>
<text transform="translate(414.94 393.6) scale(0.92 1)" class="xt">20</text>
<text transform="translate(430.16 393.6) scale(0.92 1)" class="xt">30</text>
<path d="M437.98 237.2V383.1" stroke="#000" stroke-width="1.1"/>
<path d="M437.98 383.1h3.2M437.98 377.61h2.6M437.98 374.4h2.6M437.98 372.12h2.6M437.98 370.35h2.6M437.98 368.91h2.6M437.98 367.69h2.6M437.98 366.63h2.6M437.98 365.7h2.6M437.98 364.86h3.2M437.98 359.37h2.6M437.98 356.16h2.6M437.98 353.88h2.6M437.98 352.12h2.6M437.98 350.67h2.6M437.98 349.45h2.6M437.98 348.39h2.6M437.98 347.46h2.6M437.98 346.62h3.2M437.98 341.13h2.6M437.98 337.92h2.6M437.98 335.64h2.6M437.98 333.88h2.6M437.98 332.43h2.6M437.98 331.21h2.6M437.98 330.15h2.6M437.98 329.22h2.6M437.98 328.39h3.2M437.98 322.9h2.6M437.98 319.69h2.6M437.98 317.41h2.6M437.98 315.64h2.6M437.98 314.2h2.6M437.98 312.98h2.6M437.98 311.92h2.6M437.98 310.98h2.6M437.98 310.15h3.2M437.98 304.66h2.6M437.98 301.45h2.6M437.98 299.17h2.6M437.98 297.4h2.6M437.98 295.96h2.6M437.98 294.74h2.6M437.98 293.68h2.6M437.98 292.75h2.6M437.98 291.91h3.2M437.98 286.42h2.6M437.98 283.21h2.6M437.98 280.93h2.6M437.98 279.17h2.6M437.98 277.72h2.6M437.98 276.5h2.6M437.98 275.44h2.6M437.98 274.51h2.6M437.98 273.68h3.2M437.98 268.18h2.6M437.98 264.97h2.6M437.98 262.69h2.6M437.98 260.93h2.6M437.98 259.48h2.6M437.98 258.26h2.6M437.98 257.2h2.6M437.98 256.27h2.6M437.98 255.44h3.2M437.98 249.95h2.6M437.98 246.74h2.6M437.98 244.46h2.6M437.98 242.69h2.6M437.98 241.25h2.6M437.98 240.03h2.6M437.98 238.97h2.6M437.98 238.03h2.6" stroke="#000" stroke-width="0.75"/>
<path d="M445.38 383.1v-2.4M460.6 383.1v-2.4M475.82 383.1v-2.4M491.04 383.1v-2.4" stroke="#000" stroke-width="0.7"/>
<text transform="translate(445.38 393.6) scale(0.92 1)" class="xt">0</text>
<text transform="translate(460.6 393.6) scale(0.92 1)" class="xt">10</text>
<text transform="translate(475.82 393.6) scale(0.92 1)" class="xt">20</text>
<text transform="translate(491.04 393.6) scale(0.92 1)" class="xt">30</text>
<path d="M498.86 237.2V383.1" stroke="#000" stroke-width="1.1"/>
<path d="M498.86 383.1h3.2M498.86 377.61h2.6M498.86 374.4h2.6M498.86 372.12h2.6M498.86 370.35h2.6M498.86 368.91h2.6M498.86 367.69h2.6M498.86 366.63h2.6M498.86 365.7h2.6M498.86 364.86h3.2M498.86 359.37h2.6M498.86 356.16h2.6M498.86 353.88h2.6M498.86 352.12h2.6M498.86 350.67h2.6M498.86 349.45h2.6M498.86 348.39h2.6M498.86 347.46h2.6M498.86 346.62h3.2M498.86 341.13h2.6M498.86 337.92h2.6M498.86 335.64h2.6M498.86 333.88h2.6M498.86 332.43h2.6M498.86 331.21h2.6M498.86 330.15h2.6M498.86 329.22h2.6M498.86 328.39h3.2M498.86 322.9h2.6M498.86 319.69h2.6M498.86 317.41h2.6M498.86 315.64h2.6M498.86 314.2h2.6M498.86 312.98h2.6M498.86 311.92h2.6M498.86 310.98h2.6M498.86 310.15h3.2M498.86 304.66h2.6M498.86 301.45h2.6M498.86 299.17h2.6M498.86 297.4h2.6M498.86 295.96h2.6M498.86 294.74h2.6M498.86 293.68h2.6M498.86 292.75h2.6M498.86 291.91h3.2M498.86 286.42h2.6M498.86 283.21h2.6M498.86 280.93h2.6M498.86 279.17h2.6M498.86 277.72h2.6M498.86 276.5h2.6M498.86 275.44h2.6M498.86 274.51h2.6M498.86 273.68h3.2M498.86 268.18h2.6M498.86 264.97h2.6M498.86 262.69h2.6M498.86 260.93h2.6M498.86 259.48h2.6M498.86 258.26h2.6M498.86 257.2h2.6M498.86 256.27h2.6M498.86 255.44h3.2M498.86 249.95h2.6M498.86 246.74h2.6M498.86 244.46h2.6M498.86 242.69h2.6M498.86 241.25h2.6M498.86 240.03h2.6M498.86 238.97h2.6M498.86 238.03h2.6" stroke="#000" stroke-width="0.75"/>
<path d="M506.26 383.1v-2.4M521.48 383.1v-2.4M536.7 383.1v-2.4M551.92 383.1v-2.4" stroke="#000" stroke-width="0.7"/>
<text transform="translate(506.26 393.6) scale(0.92 1)" class="xt">0</text>
<text transform="translate(521.48 393.6) scale(0.92 1)" class="xt">10</text>
<text transform="translate(536.7 393.6) scale(0.92 1)" class="xt">20</text>
<text transform="translate(551.92 393.6) scale(0.92 1)" class="xt">30</text>
<path d="M559.74 237.2V383.1" stroke="#000" stroke-width="1.1"/>
<path d="M559.74 383.1h3.2M559.74 377.61h2.6M559.74 374.4h2.6M559.74 372.12h2.6M559.74 370.35h2.6M559.74 368.91h2.6M559.74 367.69h2.6M559.74 366.63h2.6M559.74 365.7h2.6M559.74 364.86h3.2M559.74 359.37h2.6M559.74 356.16h2.6M559.74 353.88h2.6M559.74 352.12h2.6M559.74 350.67h2.6M559.74 349.45h2.6M559.74 348.39h2.6M559.74 347.46h2.6M559.74 346.62h3.2M559.74 341.13h2.6M559.74 337.92h2.6M559.74 335.64h2.6M559.74 333.88h2.6M559.74 332.43h2.6M559.74 331.21h2.6M559.74 330.15h2.6M559.74 329.22h2.6M559.74 328.39h3.2M559.74 322.9h2.6M559.74 319.69h2.6M559.74 317.41h2.6M559.74 315.64h2.6M559.74 314.2h2.6M559.74 312.98h2.6M559.74 311.92h2.6M559.74 310.98h2.6M559.74 310.15h3.2M559.74 304.66h2.6M559.74 301.45h2.6M559.74 299.17h2.6M559.74 297.4h2.6M559.74 295.96h2.6M559.74 294.74h2.6M559.74 293.68h2.6M559.74 292.75h2.6M559.74 291.91h3.2M559.74 286.42h2.6M559.74 283.21h2.6M559.74 280.93h2.6M559.74 279.17h2.6M559.74 277.72h2.6M559.74 276.5h2.6M559.74 275.44h2.6M559.74 274.51h2.6M559.74 273.68h3.2M559.74 268.18h2.6M559.74 264.97h2.6M559.74 262.69h2.6M559.74 260.93h2.6M559.74 259.48h2.6M559.74 258.26h2.6M559.74 257.2h2.6M559.74 256.27h2.6M559.74 255.44h3.2M559.74 249.95h2.6M559.74 246.74h2.6M559.74 244.46h2.6M559.74 242.69h2.6M559.74 241.25h2.6M559.74 240.03h2.6M559.74 238.97h2.6M559.74 238.03h2.6" stroke="#000" stroke-width="0.75"/>
<path d="M567.14 383.1v-2.4M582.36 383.1v-2.4M597.58 383.1v-2.4M612.8 383.1v-2.4" stroke="#000" stroke-width="0.7"/>
<text transform="translate(567.14 393.6) scale(0.92 1)" class="xt">0</text>
<text transform="translate(582.36 393.6) scale(0.92 1)" class="xt">10</text>
<text transform="translate(597.58 393.6) scale(0.92 1)" class="xt">20</text>
<text transform="translate(612.8 393.6) scale(0.92 1)" class="xt">30</text>
<path d="M620.62 237.2V383.1" stroke="#000" stroke-width="1.1"/>
<path d="M620.62 383.1h3.2M620.62 377.61h2.6M620.62 374.4h2.6M620.62 372.12h2.6M620.62 370.35h2.6M620.62 368.91h2.6M620.62 367.69h2.6M620.62 366.63h2.6M620.62 365.7h2.6M620.62 364.86h3.2M620.62 359.37h2.6M620.62 356.16h2.6M620.62 353.88h2.6M620.62 352.12h2.6M620.62 350.67h2.6M620.62 349.45h2.6M620.62 348.39h2.6M620.62 347.46h2.6M620.62 346.62h3.2M620.62 341.13h2.6M620.62 337.92h2.6M620.62 335.64h2.6M620.62 333.88h2.6M620.62 332.43h2.6M620.62 331.21h2.6M620.62 330.15h2.6M620.62 329.22h2.6M620.62 328.39h3.2M620.62 322.9h2.6M620.62 319.69h2.6M620.62 317.41h2.6M620.62 315.64h2.6M620.62 314.2h2.6M620.62 312.98h2.6M620.62 311.92h2.6M620.62 310.98h2.6M620.62 310.15h3.2M620.62 304.66h2.6M620.62 301.45h2.6M620.62 299.17h2.6M620.62 297.4h2.6M620.62 295.96h2.6M620.62 294.74h2.6M620.62 293.68h2.6M620.62 292.75h2.6M620.62 291.91h3.2M620.62 286.42h2.6M620.62 283.21h2.6M620.62 280.93h2.6M620.62 279.17h2.6M620.62 277.72h2.6M620.62 276.5h2.6M620.62 275.44h2.6M620.62 274.51h2.6M620.62 273.68h3.2M620.62 268.18h2.6M620.62 264.97h2.6M620.62 262.69h2.6M620.62 260.93h2.6M620.62 259.48h2.6M620.62 258.26h2.6M620.62 257.2h2.6M620.62 256.27h2.6M620.62 255.44h3.2M620.62 249.95h2.6M620.62 246.74h2.6M620.62 244.46h2.6M620.62 242.69h2.6M620.62 241.25h2.6M620.62 240.03h2.6M620.62 238.97h2.6M620.62 238.03h2.6" stroke="#000" stroke-width="0.75"/>
<path d="M628.02 383.1v-2.4M643.24 383.1v-2.4M658.46 383.1v-2.4M673.68 383.1v-2.4" stroke="#000" stroke-width="0.7"/>
<text transform="translate(628.02 393.6) scale(0.92 1)" class="xt">0</text>
<text transform="translate(643.24 393.6) scale(0.92 1)" class="xt">10</text>
<text transform="translate(658.46 393.6) scale(0.92 1)" class="xt">20</text>
<text transform="translate(673.68 393.6) scale(0.92 1)" class="xt">30</text>
<text transform="translate(373.7 386.4) scale(0.9 1)" class="yt" font-size="9.6">10<tspan dx="0.5" dy="-4.4" font-size="6.8">0</tspan></text>
<text transform="translate(373.7 368.16) scale(0.9 1)" class="yt" font-size="9.6">10<tspan dx="0.5" dy="-4.4" font-size="6.8">1</tspan></text>
<text transform="translate(373.7 349.93) scale(0.9 1)" class="yt" font-size="9.6">10<tspan dx="0.5" dy="-4.4" font-size="6.8">2</tspan></text>
<text transform="translate(373.7 331.69) scale(0.9 1)" class="yt" font-size="9.6">10<tspan dx="0.5" dy="-4.4" font-size="6.8">3</tspan></text>
<text transform="translate(373.7 313.45) scale(0.9 1)" class="yt" font-size="9.6">10<tspan dx="0.5" dy="-4.4" font-size="6.8">4</tspan></text>
<text transform="translate(373.7 295.21) scale(0.9 1)" class="yt" font-size="9.6">10<tspan dx="0.5" dy="-4.4" font-size="6.8">5</tspan></text>
<text transform="translate(373.7 276.98) scale(0.9 1)" class="yt" font-size="9.6">10<tspan dx="0.5" dy="-4.4" font-size="6.8">6</tspan></text>
<text transform="translate(373.7 258.74) scale(0.9 1)" class="yt" font-size="9.6">10<tspan dx="0.5" dy="-4.4" font-size="6.8">7</tspan></text>
<text transform="translate(373.7 240.5) scale(0.9 1)" class="yt" font-size="9.6">10<tspan dx="0.5" dy="-4.4" font-size="6.8">8</tspan></text>
<text transform="translate(21.15 309.2) rotate(-90)" class="ytitle">CFU/µg protein</text>
<text x="3.8" y="216.8" class="lt">b</text>
<text x="36.0" y="225.4" class="rn">i</text>
<text x="362.4" y="225.5" class="rn">ii</text>
<path d="M70.55 256.96L91.84 259.25" fill="none" stroke="#222" stroke-width="0.8"/>
<path d="M53.73 248.29L55.38 250.22M70.33 260.69L92.06 268.12" fill="none" stroke="#222" stroke-width="0.8"/>
<path d="M53.26 248.64L55.85 252.61M61.49 259.84L62.85 261.3M69.8 267.22L92.59 282.38" fill="none" stroke="#222" stroke-width="0.8"/>
<path d="M51.77 249.27L57.34 273.88M70.3 284.48L92.09 292.32" fill="none" stroke="#222" stroke-width="0.8"/>
<path d="M51.72 249.28L57.39 275.69M70.07 285.93L92.32 297.26" fill="none" stroke="#222" stroke-width="0.8"/>
<path d="M51.69 249.28L57.42 276.6M60.85 284.97L63.49 289.09M70.17 294.85L92.22 304.76" fill="none" stroke="#222" stroke-width="0.8"/>
<use href="#msqopenk" x="50.75" y="244.78"/>
<use href="#msqopenk" x="58.36" y="250.99"/>
<use href="#msqopenk" x="65.97" y="256.46"/>
<use href="#msqopenk" x="96.42" y="259.75"/>
<use href="#msqplusk" x="50.75" y="244.78"/>
<use href="#msqplusk" x="58.36" y="253.73"/>
<use href="#msqplusk" x="65.97" y="259.2"/>
<use href="#msqplusk" x="96.42" y="269.6"/>
<use href="#msqxk" x="50.75" y="244.78"/>
<use href="#msqxk" x="58.36" y="256.46"/>
<use href="#msqxk" x="65.97" y="264.68"/>
<use href="#msqxk" x="96.42" y="284.93"/>
<use href="#msqtopk" x="50.75" y="244.78"/>
<use href="#msqtopk" x="58.36" y="278.36"/>
<use href="#msqtopk" x="65.97" y="282.93"/>
<use href="#msqtopk" x="96.42" y="293.88"/>
<use href="#msqrightk" x="50.75" y="244.78"/>
<use href="#msqrightk" x="58.36" y="280.19"/>
<use href="#msqrightk" x="65.97" y="283.84"/>
<use href="#msqrightk" x="96.42" y="299.35"/>
<use href="#msqleftk" x="50.75" y="244.78"/>
<use href="#msqleftk" x="58.36" y="281.1"/>
<use href="#msqleftk" x="65.97" y="292.96"/>
<use href="#msqleftk" x="96.42" y="306.65"/>
<path d="M47.3 334.4h2.2M59.9 334.4h2.2" stroke="#222" stroke-width="0.8"/>
<use href="#msqopenk" x="54.7" y="334.4"/>
<text x="63.7" y="336.7" class="lg" textLength="24.09" lengthAdjust="spacingAndGlyphs">DI water</text>
<path d="M47.3 342.45h2.2M59.9 342.45h2.2" stroke="#222" stroke-width="0.8"/>
<use href="#msqplusk" x="54.7" y="342.45"/>
<text x="63.7" y="344.75" class="lg" textLength="7.6" lengthAdjust="spacingAndGlyphs">S1</text>
<path d="M47.3 350.5h2.2M59.9 350.5h2.2" stroke="#222" stroke-width="0.8"/>
<use href="#msqxk" x="54.7" y="350.5"/>
<text x="63.7" y="352.8" class="lg" textLength="13.1" lengthAdjust="spacingAndGlyphs">S2.5</text>
<path d="M47.3 358.55h2.2M59.9 358.55h2.2" stroke="#222" stroke-width="0.8"/>
<use href="#msqtopk" x="54.7" y="358.55"/>
<text x="63.7" y="360.85" class="lg" textLength="7.6" lengthAdjust="spacingAndGlyphs">S5</text>
<path d="M47.3 366.6h2.2M59.9 366.6h2.2" stroke="#222" stroke-width="0.8"/>
<use href="#msqrightk" x="54.7" y="366.6"/>
<text x="63.7" y="368.9" class="lg" textLength="11.19" lengthAdjust="spacingAndGlyphs">S10</text>
<path d="M47.3 374.65h2.2M59.9 374.65h2.2" stroke="#222" stroke-width="0.8"/>
<use href="#msqleftk" x="54.7" y="374.65"/>
<text x="63.7" y="376.95" class="lg" textLength="11.19" lengthAdjust="spacingAndGlyphs">S15</text>
<path d="M131.41 256.26L152.76 259.59" fill="none" stroke="#222" stroke-width="0.8"/>
<path d="M113.51 249.53L117.39 258.28M130.67 270.36L153.5 285.82" fill="none" stroke="#3aa33a" stroke-width="0.8"/>
<path d="M112.75 249.79L118.14 271.53M121.42 280.05L124.69 286.17M130.91 292.41L153.26 304.47" fill="none" stroke="#ff2020" stroke-width="0.8"/>
<path d="M112.34 249.88L118.55 290.24M131.06 298.5L153.11 308.41" fill="none" stroke="#2020b0" stroke-width="0.8"/>
<path d="M112.18 249.9L118.71 304.64M120.42 313.65L125.7 333.77M131.44 338.66L152.73 340.7" fill="none" stroke="#ff8c1a" stroke-width="0.8"/>
<path d="M157.31 341.14V333.66M155.71 333.66h3.2" stroke="#ff8c1a" stroke-width="0.8"/>
<use href="#msqopenk" x="111.64" y="245.33"/>
<use href="#msqopenk" x="119.25" y="250.81"/>
<use href="#msqopenk" x="126.86" y="255.55"/>
<use href="#msqopenk" x="157.31" y="260.3"/>
<use href="#mpentopeng" x="111.64" y="245.33"/>
<use href="#mpentopeng" x="119.25" y="262.49"/>
<use href="#mpentopeng" x="126.86" y="267.78"/>
<use href="#mpentopeng" x="157.31" y="288.4"/>
<use href="#mpenttopr" x="111.64" y="245.33"/>
<use href="#mpenttopr" x="119.25" y="275.99"/>
<use href="#mpenttopr" x="126.86" y="290.23"/>
<use href="#mpenttopr" x="157.31" y="306.65"/>
<use href="#mpentbottomb" x="111.64" y="245.33"/>
<use href="#mpentbottomb" x="119.25" y="294.79"/>
<use href="#mpentbottomb" x="126.86" y="296.61"/>
<use href="#mpentbottomb" x="157.31" y="310.3"/>
<use href="#mpentlefto" x="111.64" y="245.33"/>
<use href="#mpentlefto" x="119.25" y="309.21"/>
<use href="#mpentlefto" x="126.86" y="338.22"/>
<use href="#mpentlefto" x="157.31" y="341.14"/>
<path d="M104.74 344.8h2.2M117.34 344.8h2.2" stroke="#222" stroke-width="0.8"/>
<use href="#msqopenk" x="112.14" y="344.8"/>
<text x="121.14" y="347.1" class="lg" textLength="24.09" lengthAdjust="spacingAndGlyphs">DI water</text>
<path d="M104.74 352.85h2.2M117.34 352.85h2.2" stroke="#3aa33a" stroke-width="0.8"/>
<use href="#mpentopeng" x="112.14" y="352.85"/>
<text x="121.14" y="355.15" class="lg" textLength="8.84" lengthAdjust="spacingAndGlyphs">I30</text>
<path d="M104.74 360.9h2.2M117.34 360.9h2.2" stroke="#ff2020" stroke-width="0.8"/>
<use href="#mpenttopr" x="112.14" y="360.9"/>
<text x="121.14" y="363.2" class="lg" textLength="16.69" lengthAdjust="spacingAndGlyphs">I30S5</text>
<path d="M104.74 368.95h2.2M117.34 368.95h2.2" stroke="#2020b0" stroke-width="0.8"/>
<use href="#mpentbottomb" x="112.14" y="368.95"/>
<text x="121.14" y="371.25" class="lg" textLength="20.27" lengthAdjust="spacingAndGlyphs">I30S10</text>
<path d="M104.74 377h2.2M117.34 377h2.2" stroke="#ff8c1a" stroke-width="0.8"/>
<use href="#mpentlefto" x="112.14" y="377"/>
<text x="121.14" y="379.3" class="lg" textLength="20.27" lengthAdjust="spacingAndGlyphs">I30S15</text>
<path d="M192.3 256.26L213.65 259.59" fill="none" stroke="#222" stroke-width="0.8"/>
<path d="M174.32 249.57L178.36 259.16M181.62 267.75L186.28 281.49M191.61 288.34L214.34 303.06" fill="none" stroke="#3aa33a" stroke-width="0.8"/>
<path d="M173.33 249.86L179.34 283.87M190.81 296.4L215.14 323.66" fill="none" stroke="#ff2020" stroke-width="0.8"/>
<path d="M173.41 249.85L179.26 279.87M181.34 288.83L186.56 308.23M191.71 315.02L214.24 328.39" fill="none" stroke="#2020b0" stroke-width="0.8"/>
<path d="M173.08 249.9L179.59 303.73M183.5 311.43L184.39 312.27M190.86 318.8L215.09 345.23" fill="none" stroke="#ff8c1a" stroke-width="0.8"/>
<path d="M218.2 348.62V341.69M216.6 341.69h3.2" stroke="#ff8c1a" stroke-width="0.8"/>
<use href="#msqopenk" x="172.53" y="245.33"/>
<use href="#msqopenk" x="180.14" y="250.81"/>
<use href="#msqopenk" x="187.75" y="255.55"/>
<use href="#msqopenk" x="218.2" y="260.3"/>
<use href="#mtriopeng" x="172.53" y="245.33"/>
<use href="#mtriopeng" x="180.14" y="263.4"/>
<use href="#mtriopeng" x="187.75" y="285.85"/>
<use href="#mtriopeng" x="218.2" y="305.56"/>
<use href="#mtritopr" x="172.53" y="245.33"/>
<use href="#mtritopr" x="180.14" y="288.4"/>
<use href="#mtritopr" x="187.75" y="292.96"/>
<use href="#mtritopr" x="218.2" y="327.09"/>
<use href="#mtribottomb" x="172.53" y="245.33"/>
<use href="#mtribottomb" x="180.14" y="284.38"/>
<use href="#mtribottomb" x="187.75" y="312.67"/>
<use href="#mtribottomb" x="218.2" y="330.74"/>
<use href="#mtrilefto" x="172.53" y="245.33"/>
<use href="#mtrilefto" x="180.14" y="308.29"/>
<use href="#mtrilefto" x="187.75" y="315.41"/>
<use href="#mtrilefto" x="218.2" y="348.62"/>
<path d="M168.68 343h2.2M181.28 343h2.2" stroke="#222" stroke-width="0.8"/>
<use href="#msqopenk" x="176.08" y="343"/>
<text x="185.08" y="345.3" class="lg" textLength="24.09" lengthAdjust="spacingAndGlyphs">DI water</text>
<path d="M168.68 351.05h2.2M181.28 351.05h2.2" stroke="#3aa33a" stroke-width="0.8"/>
<use href="#mtriopeng" x="176.08" y="351.05"/>
<text x="185.08" y="353.35" class="lg" textLength="8.84" lengthAdjust="spacingAndGlyphs">I40</text>
<path d="M168.68 359.1h2.2M181.28 359.1h2.2" stroke="#ff2020" stroke-width="0.8"/>
<use href="#mtritopr" x="176.08" y="359.1"/>
<text x="185.08" y="361.4" class="lg" textLength="16.69" lengthAdjust="spacingAndGlyphs">I40S5</text>
<path d="M168.68 367.15h2.2M181.28 367.15h2.2" stroke="#2020b0" stroke-width="0.8"/>
<use href="#mtribottomb" x="176.08" y="367.15"/>
<text x="185.08" y="369.45" class="lg" textLength="20.27" lengthAdjust="spacingAndGlyphs">I40S10</text>
<path d="M168.68 375.2h2.2M181.28 375.2h2.2" stroke="#ff8c1a" stroke-width="0.8"/>
<use href="#mtrilefto" x="176.08" y="375.2"/>
<text x="185.08" y="377.5" class="lg" textLength="20.27" lengthAdjust="spacingAndGlyphs">I40S15</text>
<path d="M253.19 256.26L274.54 259.59" fill="none" stroke="#222" stroke-width="0.8"/>
<path d="M234.29 249.85L240.16 280.42M242.41 289.32L247.27 304.82M252.04 312.3L275.69 333.85" fill="none" stroke="#3aa33a" stroke-width="0.8"/>
<path d="M234.53 249.79L239.92 271.53M241.83 280.52L247.84 314.53M251.86 322.34L275.87 346.8" fill="none" stroke="#ff2020" stroke-width="0.8"/>
<path d="M233.98 249.9L240.47 302.81M243 311.54L246.67 319.28" fill="none" stroke="#2020b0" stroke-width="0.8"/>
<path d="M233.87 249.91L240.59 318.86M242.29 327.86L247.38 345.66" fill="none" stroke="#ff8c1a" stroke-width="0.8"/>
<path d="M248.64 350.09V343.15M247.04 343.15h3.2" stroke="#ff8c1a" stroke-width="0.8"/>
<path d="M279.09 350.09V344.98M277.49 344.98h3.2" stroke="#ff2020" stroke-width="0.8"/>
<use href="#msqopenk" x="233.42" y="245.33"/>
<use href="#msqopenk" x="241.03" y="250.81"/>
<use href="#msqopenk" x="248.64" y="255.55"/>
<use href="#msqopenk" x="279.09" y="260.3"/>
<use href="#mcircopeng" x="233.42" y="245.33"/>
<use href="#mcircopeng" x="241.03" y="284.93"/>
<use href="#mcircopeng" x="248.64" y="309.21"/>
<use href="#mcircopeng" x="279.09" y="336.94"/>
<use href="#mcirctopr" x="233.42" y="245.33"/>
<use href="#mcirctopr" x="241.03" y="275.99"/>
<use href="#mcirctopr" x="248.64" y="319.06"/>
<use href="#mcirctopr" x="279.09" y="350.09"/>
<use href="#mcircbottomb" x="233.42" y="245.33"/>
<use href="#mcircbottomb" x="241.03" y="307.38"/>
<use href="#mcircbottomb" x="248.64" y="323.44"/>
<use href="#mcirclefto" x="233.42" y="245.33"/>
<use href="#mcirclefto" x="241.03" y="323.44"/>
<use href="#mcirclefto" x="248.64" y="350.09"/>
<circle cx="279.09" cy="370.16" r="1.35" fill="#4848c0"/>
<circle cx="279.09" cy="375.63" r="1.35" fill="#ffa040"/>
<path d="M244.72 269.6h2.2M257.32 269.6h2.2" stroke="#222" stroke-width="0.8"/>
<use href="#msqopenk" x="252.12" y="269.6"/>
<text x="261.12" y="271.9" class="lg" textLength="24.09" lengthAdjust="spacingAndGlyphs">DI water</text>
<path d="M244.72 277.65h2.2M257.32 277.65h2.2" stroke="#3aa33a" stroke-width="0.8"/>
<use href="#mcircopeng" x="252.12" y="277.65"/>
<text x="261.12" y="279.95" class="lg" textLength="8.84" lengthAdjust="spacingAndGlyphs">I60</text>
<path d="M244.72 285.7h2.2M257.32 285.7h2.2" stroke="#ff2020" stroke-width="0.8"/>
<use href="#mcirctopr" x="252.12" y="285.7"/>
<text x="261.12" y="288" class="lg" textLength="22.19" lengthAdjust="spacingAndGlyphs">I60S2.5</text>
<path d="M244.72 293.75h2.2M257.32 293.75h2.2" stroke="#2020b0" stroke-width="0.8"/>
<use href="#mcircbottomb" x="252.12" y="293.75"/>
<text x="261.12" y="296.05" class="lg" textLength="16.69" lengthAdjust="spacingAndGlyphs">I60S5</text>
<path d="M244.72 301.8h2.2M257.32 301.8h2.2" stroke="#ff8c1a" stroke-width="0.8"/>
<use href="#mcirclefto" x="252.12" y="301.8"/>
<text x="261.12" y="304.1" class="lg" textLength="20.27" lengthAdjust="spacingAndGlyphs">I60S10</text>
<path d="M314.08 256.26L335.43 259.59" fill="none" stroke="#222" stroke-width="0.8"/>
<path d="M294.99 249.88L301.25 292.06M303.8 300.81L307.65 309.39" fill="none" stroke="#3aa33a" stroke-width="0.8"/>
<path d="M294.93 249.89L301.3 296.62M303.07 305.63L308.39 326.29" fill="none" stroke="#ff2020" stroke-width="0.8"/>
<path d="M294.72 249.91L301.51 325.25" fill="none" stroke="#2020b0" stroke-width="0.8"/>
<path d="M294.67 249.92L301.56 336.92" fill="none" stroke="#ff8c1a" stroke-width="0.8"/>
<use href="#msqopenk" x="294.31" y="245.33"/>
<use href="#msqopenk" x="301.92" y="250.81"/>
<use href="#msqopenk" x="309.53" y="255.55"/>
<use href="#msqopenk" x="339.98" y="260.3"/>
<use href="#mcircopeng" x="294.31" y="245.33"/>
<use href="#mcircopeng" x="301.92" y="296.61"/>
<use href="#mcircopeng" x="309.53" y="313.59"/>
<use href="#mcirctopr" x="294.31" y="245.33"/>
<use href="#mcirctopr" x="301.92" y="301.18"/>
<use href="#mcirctopr" x="309.53" y="330.74"/>
<use href="#mcircbottomb" x="294.31" y="245.33"/>
<use href="#mcircbottomb" x="301.92" y="329.83"/>
<use href="#mcirclefto" x="294.31" y="245.33"/>
<use href="#mcirclefto" x="301.92" y="341.51"/>
<circle cx="309.53" cy="370.16" r="1.35" fill="#4848c0"/>
<circle cx="309.53" cy="376" r="1.35" fill="#ffa040"/>
<circle cx="339.98" cy="359.03" r="1.35" fill="#4aa84a"/>
<circle cx="339.98" cy="365.05" r="1.35" fill="#ff4040"/>
<circle cx="339.98" cy="370.53" r="1.35" fill="#4848c0"/>
<circle cx="339.98" cy="376.55" r="1.35" fill="#ffa040"/>
<path d="M304.76 271.4h2.2M317.36 271.4h2.2" stroke="#222" stroke-width="0.8"/>
<use href="#msqopenk" x="312.16" y="271.4"/>
<text x="321.16" y="273.7" class="lg" textLength="24.09" lengthAdjust="spacingAndGlyphs">DI water</text>
<path d="M304.76 279.45h2.2M317.36 279.45h2.2" stroke="#3aa33a" stroke-width="0.8"/>
<use href="#mcircopeng" x="312.16" y="279.45"/>
<text x="321.16" y="281.75" class="lg" textLength="8.84" lengthAdjust="spacingAndGlyphs">I70</text>
<path d="M304.76 287.5h2.2M317.36 287.5h2.2" stroke="#ff2020" stroke-width="0.8"/>
<use href="#mcirctopr" x="312.16" y="287.5"/>
<text x="321.16" y="289.8" class="lg" textLength="16.69" lengthAdjust="spacingAndGlyphs">I70S1</text>
<path d="M304.76 295.55h2.2M317.36 295.55h2.2" stroke="#2020b0" stroke-width="0.8"/>
<use href="#mcircbottomb" x="312.16" y="295.55"/>
<text x="321.16" y="297.85" class="lg" textLength="22.19" lengthAdjust="spacingAndGlyphs">I70S2.5</text>
<path d="M304.76 303.6h2.2M317.36 303.6h2.2" stroke="#ff8c1a" stroke-width="0.8"/>
<use href="#mcirclefto" x="312.16" y="303.6"/>
<text x="321.16" y="305.9" class="lg" textLength="16.69" lengthAdjust="spacingAndGlyphs">I70S5</text>
<path d="M404.29 256.96L425.59 259.25" fill="none" stroke="#222" stroke-width="0.8"/>
<path d="M387.48 248.29L389.13 250.22M404.07 260.69L425.81 268.11" fill="none" stroke="#222" stroke-width="0.8"/>
<path d="M387.01 248.64L389.6 252.61M395.24 259.84L396.59 261.3M403.55 267.22L426.33 282.38" fill="none" stroke="#222" stroke-width="0.8"/>
<path d="M385.52 249.27L391.09 273.88M404.05 284.48L425.83 292.32" fill="none" stroke="#222" stroke-width="0.8"/>
<path d="M385.47 249.28L391.14 275.69M403.82 285.93L426.06 297.26" fill="none" stroke="#222" stroke-width="0.8"/>
<path d="M385.44 249.28L391.17 276.6M394.59 284.97L397.24 289.09M403.92 294.85L425.96 304.76" fill="none" stroke="#222" stroke-width="0.8"/>
<use href="#msqopenk" x="384.5" y="244.78"/>
<use href="#msqopenk" x="392.11" y="250.99"/>
<use href="#msqopenk" x="399.72" y="256.46"/>
<use href="#msqopenk" x="430.16" y="259.75"/>
<use href="#msqplusk" x="384.5" y="244.78"/>
<use href="#msqplusk" x="392.11" y="253.73"/>
<use href="#msqplusk" x="399.72" y="259.2"/>
<use href="#msqplusk" x="430.16" y="269.6"/>
<use href="#msqxk" x="384.5" y="244.78"/>
<use href="#msqxk" x="392.11" y="256.46"/>
<use href="#msqxk" x="399.72" y="264.68"/>
<use href="#msqxk" x="430.16" y="284.93"/>
<use href="#msqtopk" x="384.5" y="244.78"/>
<use href="#msqtopk" x="392.11" y="278.36"/>
<use href="#msqtopk" x="399.72" y="282.93"/>
<use href="#msqtopk" x="430.16" y="293.88"/>
<use href="#msqrightk" x="384.5" y="244.78"/>
<use href="#msqrightk" x="392.11" y="280.19"/>
<use href="#msqrightk" x="399.72" y="283.84"/>
<use href="#msqrightk" x="430.16" y="299.35"/>
<use href="#msqleftk" x="384.5" y="244.78"/>
<use href="#msqleftk" x="392.11" y="281.1"/>
<use href="#msqleftk" x="399.72" y="292.96"/>
<use href="#msqleftk" x="430.16" y="306.65"/>
<path d="M382.3 334.7h2.2M394.9 334.7h2.2" stroke="#222" stroke-width="0.8"/>
<use href="#msqopenk" x="389.7" y="334.7"/>
<text x="398.7" y="337" class="lg" textLength="24.09" lengthAdjust="spacingAndGlyphs">DI water</text>
<path d="M382.3 342.75h2.2M394.9 342.75h2.2" stroke="#222" stroke-width="0.8"/>
<use href="#msqplusk" x="389.7" y="342.75"/>
<text x="398.7" y="345.05" class="lg" textLength="7.6" lengthAdjust="spacingAndGlyphs">S1</text>
<path d="M382.3 350.8h2.2M394.9 350.8h2.2" stroke="#222" stroke-width="0.8"/>
<use href="#msqxk" x="389.7" y="350.8"/>
<text x="398.7" y="353.1" class="lg" textLength="13.1" lengthAdjust="spacingAndGlyphs">S2.5</text>
<path d="M382.3 358.85h2.2M394.9 358.85h2.2" stroke="#222" stroke-width="0.8"/>
<use href="#msqtopk" x="389.7" y="358.85"/>
<text x="398.7" y="361.15" class="lg" textLength="7.6" lengthAdjust="spacingAndGlyphs">S5</text>
<path d="M382.3 366.9h2.2M394.9 366.9h2.2" stroke="#222" stroke-width="0.8"/>
<use href="#msqrightk" x="389.7" y="366.9"/>
<text x="398.7" y="369.2" class="lg" textLength="11.19" lengthAdjust="spacingAndGlyphs">S10</text>
<path d="M382.3 374.95h2.2M394.9 374.95h2.2" stroke="#222" stroke-width="0.8"/>
<use href="#msqleftk" x="389.7" y="374.95"/>
<text x="398.7" y="377.25" class="lg" textLength="11.19" lengthAdjust="spacingAndGlyphs">S15</text>
<path d="M465.15 256.26L486.49 259.59" fill="none" stroke="#222" stroke-width="0.8"/>
<path d="M447.33 249.5L451.04 257.41M456.15 264.91L457.44 266.26M463.4 273.25L488.24 305.56" fill="none" stroke="#3aa33a" stroke-width="0.8"/>
<path d="M446.11 249.87L452.26 288.42M455.25 296.97L458.34 302.46M464.85 308.23L486.79 317.3" fill="none" stroke="#ff2020" stroke-width="0.8"/>
<path d="M446.08 249.88L452.29 290.24M464.3 301.17L487.34 318.15" fill="none" stroke="#2020b0" stroke-width="0.8"/>
<path d="M445.9 249.9L452.47 307.19M455.77 315.43L457.82 318.13M465.13 322.59L486.51 326.3" fill="none" stroke="#ff8c1a" stroke-width="0.8"/>
<use href="#msqopenk" x="445.38" y="245.33"/>
<use href="#msqopenk" x="452.99" y="250.81"/>
<use href="#msqopenk" x="460.6" y="255.55"/>
<use href="#msqopenk" x="491.04" y="260.3"/>
<use href="#mpentopeng" x="445.38" y="245.33"/>
<use href="#mpentopeng" x="452.99" y="261.57"/>
<use href="#mpentopeng" x="460.6" y="269.6"/>
<use href="#mpentopeng" x="491.04" y="309.21"/>
<use href="#mpenttopr" x="445.38" y="245.33"/>
<use href="#mpenttopr" x="452.99" y="292.96"/>
<use href="#mpenttopr" x="460.6" y="306.47"/>
<use href="#mpenttopr" x="491.04" y="319.06"/>
<use href="#mpentbottomb" x="445.38" y="245.33"/>
<use href="#mpentbottomb" x="452.99" y="294.79"/>
<use href="#mpentbottomb" x="460.6" y="298.44"/>
<use href="#mpentbottomb" x="491.04" y="320.88"/>
<use href="#mpentlefto" x="445.38" y="245.33"/>
<use href="#mpentlefto" x="452.99" y="311.76"/>
<use href="#mpentlefto" x="460.6" y="321.8"/>
<use href="#mpentlefto" x="491.04" y="327.09"/>
<path d="M442.32 343.7h2.2M454.92 343.7h2.2" stroke="#222" stroke-width="0.8"/>
<use href="#msqopenk" x="449.72" y="343.7"/>
<text x="458.72" y="346" class="lg" textLength="24.09" lengthAdjust="spacingAndGlyphs">DI water</text>
<path d="M442.32 351.75h2.2M454.92 351.75h2.2" stroke="#3aa33a" stroke-width="0.8"/>
<use href="#mpentopeng" x="449.72" y="351.75"/>
<text x="458.72" y="354.05" class="lg" textLength="11.19" lengthAdjust="spacingAndGlyphs">E30</text>
<path d="M442.32 359.8h2.2M454.92 359.8h2.2" stroke="#ff2020" stroke-width="0.8"/>
<use href="#mpenttopr" x="449.72" y="359.8"/>
<text x="458.72" y="362.1" class="lg" textLength="19.03" lengthAdjust="spacingAndGlyphs">E30S5</text>
<path d="M442.32 367.85h2.2M454.92 367.85h2.2" stroke="#2020b0" stroke-width="0.8"/>
<use href="#mpentbottomb" x="449.72" y="367.85"/>
<text x="458.72" y="370.15" class="lg" textLength="22.61" lengthAdjust="spacingAndGlyphs">E30S10</text>
<path d="M442.32 375.9h2.2M454.92 375.9h2.2" stroke="#ff8c1a" stroke-width="0.8"/>
<use href="#mpentlefto" x="449.72" y="375.9"/>
<text x="458.72" y="378.2" class="lg" textLength="22.61" lengthAdjust="spacingAndGlyphs">E30S15</text>
<path d="M526.03 256.26L547.37 259.59" fill="none" stroke="#222" stroke-width="0.8"/>
<path d="M507.59 249.73L512.54 266.11M514.85 275.01L520.5 301.06M525.89 306.85L547.51 313.2" fill="none" stroke="#3aa33a" stroke-width="0.8"/>
<path d="M506.9 249.89L513.23 294.79M525.5 300.68L547.9 313.17" fill="none" stroke="#ff2020" stroke-width="0.8"/>
<path d="M506.87 249.89L513.26 297.35M517.19 305.09L518.16 306.02M525.5 311.45L547.9 323.94" fill="none" stroke="#2020b0" stroke-width="0.8"/>
<path d="M506.76 249.9L513.37 310.84M525.45 319.57L547.95 332.79" fill="none" stroke="#ff8c1a" stroke-width="0.8"/>
<path d="M521.48 298.44V293.51M519.88 293.51h3.2" stroke="#ff2020" stroke-width="0.8"/>
<use href="#msqopenk" x="506.26" y="245.33"/>
<use href="#msqopenk" x="513.87" y="250.81"/>
<use href="#msqopenk" x="521.48" y="255.55"/>
<use href="#msqopenk" x="551.92" y="260.3"/>
<use href="#mtriopeng" x="506.26" y="245.33"/>
<use href="#mtriopeng" x="513.87" y="270.51"/>
<use href="#mtriopeng" x="521.48" y="305.56"/>
<use href="#mtriopeng" x="551.92" y="314.5"/>
<use href="#mtritopr" x="506.26" y="245.33"/>
<use href="#mtritopr" x="513.87" y="299.35"/>
<use href="#mtritopr" x="521.48" y="298.44"/>
<use href="#mtritopr" x="551.92" y="315.41"/>
<use href="#mtribottomb" x="506.26" y="245.33"/>
<use href="#mtribottomb" x="513.87" y="301.91"/>
<use href="#mtribottomb" x="521.48" y="309.21"/>
<use href="#mtribottomb" x="551.92" y="326.18"/>
<use href="#mtrilefto" x="506.26" y="245.33"/>
<use href="#mtrilefto" x="513.87" y="315.41"/>
<use href="#mtrilefto" x="521.48" y="317.24"/>
<use href="#mtrilefto" x="551.92" y="335.12"/>
<path d="M503.34 343h2.2M515.94 343h2.2" stroke="#222" stroke-width="0.8"/>
<use href="#msqopenk" x="510.74" y="343"/>
<text x="519.74" y="345.3" class="lg" textLength="24.09" lengthAdjust="spacingAndGlyphs">DI water</text>
<path d="M503.34 351.05h2.2M515.94 351.05h2.2" stroke="#3aa33a" stroke-width="0.8"/>
<use href="#mtriopeng" x="510.74" y="351.05"/>
<text x="519.74" y="353.35" class="lg" textLength="11.19" lengthAdjust="spacingAndGlyphs">E40</text>
<path d="M503.34 359.1h2.2M515.94 359.1h2.2" stroke="#ff2020" stroke-width="0.8"/>
<use href="#mtritopr" x="510.74" y="359.1"/>
<text x="519.74" y="361.4" class="lg" textLength="19.03" lengthAdjust="spacingAndGlyphs">E40S5</text>
<path d="M503.34 367.15h2.2M515.94 367.15h2.2" stroke="#2020b0" stroke-width="0.8"/>
<use href="#mtribottomb" x="510.74" y="367.15"/>
<text x="519.74" y="369.45" class="lg" textLength="22.61" lengthAdjust="spacingAndGlyphs">E40S10</text>
<path d="M503.34 375.2h2.2M515.94 375.2h2.2" stroke="#ff8c1a" stroke-width="0.8"/>
<use href="#mtrilefto" x="510.74" y="375.2"/>
<text x="519.74" y="377.5" class="lg" textLength="22.61" lengthAdjust="spacingAndGlyphs">E40S15</text>
<path d="M586.91 256.26L608.25 259.59" fill="none" stroke="#222" stroke-width="0.8"/>
<path d="M567.89 249.87L574 286.6M576.23 295.49L580.88 309.23M585.75 316.69L609.41 338.4" fill="none" stroke="#3aa33a" stroke-width="0.8"/>
<path d="M567.84 249.88L574.05 290.24M576.34 299.1L580.77 311.09M585.85 318.4L609.31 338.51" fill="none" stroke="#ff2020" stroke-width="0.8"/>
<path d="M567.65 249.9L574.24 309.01M577.56 317.23L579.55 319.8" fill="none" stroke="#2020b0" stroke-width="0.8"/>
<path d="M567.57 249.91L574.32 322.51" fill="none" stroke="#ff8c1a" stroke-width="0.8"/>
<use href="#msqopenk" x="567.14" y="245.33"/>
<use href="#msqopenk" x="574.75" y="250.81"/>
<use href="#msqopenk" x="582.36" y="255.55"/>
<use href="#msqopenk" x="612.8" y="260.3"/>
<use href="#mcircopeng" x="567.14" y="245.33"/>
<use href="#mcircopeng" x="574.75" y="291.14"/>
<use href="#mcircopeng" x="582.36" y="313.59"/>
<use href="#mcircopeng" x="612.8" y="341.51"/>
<use href="#mcirctopr" x="567.14" y="245.33"/>
<use href="#mcirctopr" x="574.75" y="294.79"/>
<use href="#mcirctopr" x="582.36" y="315.41"/>
<use href="#mcirctopr" x="612.8" y="341.51"/>
<use href="#mcircbottomb" x="567.14" y="245.33"/>
<use href="#mcircbottomb" x="574.75" y="313.59"/>
<use href="#mcircbottomb" x="582.36" y="323.44"/>
<use href="#mcirclefto" x="567.14" y="245.33"/>
<use href="#mcirclefto" x="574.75" y="327.09"/>
<use href="#mcirclefto" x="582.36" y="332.56"/>
<circle cx="612.8" cy="369.8" r="1.35" fill="#4848c0"/>
<circle cx="612.8" cy="375.63" r="1.35" fill="#ffa040"/>
<path d="M562.46 345.2h2.2M575.06 345.2h2.2" stroke="#222" stroke-width="0.8"/>
<use href="#msqopenk" x="569.86" y="345.2"/>
<text x="578.86" y="347.5" class="lg" textLength="24.09" lengthAdjust="spacingAndGlyphs">DI water</text>
<path d="M562.46 353.25h2.2M575.06 353.25h2.2" stroke="#3aa33a" stroke-width="0.8"/>
<use href="#mcircopeng" x="569.86" y="353.25"/>
<text x="578.86" y="355.55" class="lg" textLength="11.19" lengthAdjust="spacingAndGlyphs">E60</text>
<path d="M562.46 361.3h2.2M575.06 361.3h2.2" stroke="#ff2020" stroke-width="0.8"/>
<use href="#mcirctopr" x="569.86" y="361.3"/>
<text x="578.86" y="363.6" class="lg" textLength="24.53" lengthAdjust="spacingAndGlyphs">E60S2.5</text>
<path d="M562.46 369.35h2.2M575.06 369.35h2.2" stroke="#2020b0" stroke-width="0.8"/>
<use href="#mcircbottomb" x="569.86" y="369.35"/>
<text x="578.86" y="371.65" class="lg" textLength="19.03" lengthAdjust="spacingAndGlyphs">E60S5</text>
<path d="M562.46 377.4h2.2M575.06 377.4h2.2" stroke="#ff8c1a" stroke-width="0.8"/>
<use href="#mcirclefto" x="569.86" y="377.4"/>
<text x="578.86" y="379.7" class="lg" textLength="22.61" lengthAdjust="spacingAndGlyphs">E60S10</text>
<path d="M647.79 256.26L669.13 259.59" fill="none" stroke="#222" stroke-width="0.8"/>
<path d="M628.71 249.88L634.94 291.15M637.36 299.96L641.51 310.23" fill="none" stroke="#3aa33a" stroke-width="0.8"/>
<path d="M628.82 249.86L634.83 283.87M636.32 292.95L642.55 334.22" fill="none" stroke="#ff2020" stroke-width="0.8"/>
<path d="M628.51 249.9L635.14 311.75M636.63 320.81L642.24 345.96" fill="none" stroke="#2020b0" stroke-width="0.8"/>
<path d="M628.49 249.91L635.16 314.48" fill="none" stroke="#ff8c1a" stroke-width="0.8"/>
<path d="M643.24 338.77V332.93M641.64 332.93h3.2" stroke="#ff2020" stroke-width="0.8"/>
<use href="#msqopenk" x="628.02" y="245.33"/>
<use href="#msqopenk" x="635.63" y="250.81"/>
<use href="#msqopenk" x="643.24" y="255.55"/>
<use href="#msqopenk" x="673.68" y="260.3"/>
<use href="#mcircopeng" x="628.02" y="245.33"/>
<use href="#mcircopeng" x="635.63" y="295.7"/>
<use href="#mcircopeng" x="643.24" y="314.5"/>
<use href="#mcirctopr" x="628.02" y="245.33"/>
<use href="#mcirctopr" x="635.63" y="288.4"/>
<use href="#mcirctopr" x="643.24" y="338.77"/>
<use href="#mcircbottomb" x="628.02" y="245.33"/>
<use href="#mcircbottomb" x="635.63" y="316.32"/>
<use href="#mcircbottomb" x="643.24" y="350.45"/>
<use href="#mcirclefto" x="628.02" y="245.33"/>
<use href="#mcirclefto" x="635.63" y="319.06"/>
<circle cx="643.24" cy="375.27" r="1.35" fill="#ffa040"/>
<circle cx="673.68" cy="359.03" r="1.35" fill="#4aa84a"/>
<circle cx="673.68" cy="365.05" r="1.35" fill="#ff4040"/>
<circle cx="673.68" cy="370.53" r="1.35" fill="#4848c0"/>
<circle cx="673.68" cy="376" r="1.35" fill="#ffa040"/>
<path d="M638.68 268.1h2.2M651.28 268.1h2.2" stroke="#222" stroke-width="0.8"/>
<use href="#msqopenk" x="646.08" y="268.1"/>
<text x="655.08" y="270.4" class="lg" textLength="24.09" lengthAdjust="spacingAndGlyphs">DI water</text>
<path d="M638.68 276.15h2.2M651.28 276.15h2.2" stroke="#3aa33a" stroke-width="0.8"/>
<use href="#mcircopeng" x="646.08" y="276.15"/>
<text x="655.08" y="278.45" class="lg" textLength="11.19" lengthAdjust="spacingAndGlyphs">E70</text>
<path d="M638.68 284.2h2.2M651.28 284.2h2.2" stroke="#ff2020" stroke-width="0.8"/>
<use href="#mcirctopr" x="646.08" y="284.2"/>
<text x="655.08" y="286.5" class="lg" textLength="19.03" lengthAdjust="spacingAndGlyphs">E70S1</text>
<path d="M638.68 292.25h2.2M651.28 292.25h2.2" stroke="#2020b0" stroke-width="0.8"/>
<use href="#mcircbottomb" x="646.08" y="292.25"/>
<text x="655.08" y="294.55" class="lg" textLength="24.53" lengthAdjust="spacingAndGlyphs">E70S2.5</text>
<path d="M638.68 300.3h2.2M651.28 300.3h2.2" stroke="#ff8c1a" stroke-width="0.8"/>
<use href="#mcirclefto" x="646.08" y="300.3"/>
<text x="655.08" y="302.6" class="lg" textLength="19.03" lengthAdjust="spacingAndGlyphs">E70S5</text>
<path d="M37.4 434.4H342V580.2" fill="none" stroke="#777" stroke-width="1"/>
<path d="M37.4 580.2H342" stroke="#222" stroke-width="1.1"/>
<path d="M37.4 434.4V580.2" stroke="#000" stroke-width="1.1"/>
<path d="M37.4 580.2h3.2M37.4 573.93h2.6M37.4 570.26h2.6M37.4 567.66h2.6M37.4 565.64h2.6M37.4 563.99h2.6M37.4 562.6h2.6M37.4 561.39h2.6M37.4 560.32h2.6M37.4 559.37h3.2M37.4 553.1h2.6M37.4 549.43h2.6M37.4 546.83h2.6M37.4 544.81h2.6M37.4 543.16h2.6M37.4 541.77h2.6M37.4 540.56h2.6M37.4 539.5h2.6M37.4 538.54h3.2M37.4 532.27h2.6M37.4 528.61h2.6M37.4 526h2.6M37.4 523.98h2.6M37.4 522.34h2.6M37.4 520.94h2.6M37.4 519.73h2.6M37.4 518.67h2.6M37.4 517.71h3.2M37.4 511.44h2.6M37.4 507.78h2.6M37.4 505.17h2.6M37.4 503.16h2.6M37.4 501.51h2.6M37.4 500.11h2.6M37.4 498.9h2.6M37.4 497.84h2.6M37.4 496.89h3.2M37.4 490.62h2.6M37.4 486.95h2.6M37.4 484.35h2.6M37.4 482.33h2.6M37.4 480.68h2.6M37.4 479.28h2.6M37.4 478.08h2.6M37.4 477.01h2.6M37.4 476.06h3.2M37.4 469.79h2.6M37.4 466.12h2.6M37.4 463.52h2.6M37.4 461.5h2.6M37.4 459.85h2.6M37.4 458.45h2.6M37.4 457.25h2.6M37.4 456.18h2.6M37.4 455.23h3.2M37.4 448.96h2.6M37.4 445.29h2.6M37.4 442.69h2.6M37.4 440.67h2.6M37.4 439.02h2.6M37.4 437.63h2.6M37.4 436.42h2.6M37.4 435.35h2.6" stroke="#000" stroke-width="0.75"/>
<path d="M44.9 580.2v-2.4M60.13 580.2v-2.4M75.36 580.2v-2.4M90.59 580.2v-2.4" stroke="#000" stroke-width="0.7"/>
<text transform="translate(44.9 590.7) scale(0.92 1)" class="xt">0</text>
<text transform="translate(60.13 590.7) scale(0.92 1)" class="xt">10</text>
<text transform="translate(75.36 590.7) scale(0.92 1)" class="xt">20</text>
<text transform="translate(90.59 590.7) scale(0.92 1)" class="xt">30</text>
<path d="M98.32 434.4V580.2" stroke="#000" stroke-width="1.1"/>
<path d="M98.32 580.2h3.2M98.32 573.93h2.6M98.32 570.26h2.6M98.32 567.66h2.6M98.32 565.64h2.6M98.32 563.99h2.6M98.32 562.6h2.6M98.32 561.39h2.6M98.32 560.32h2.6M98.32 559.37h3.2M98.32 553.1h2.6M98.32 549.43h2.6M98.32 546.83h2.6M98.32 544.81h2.6M98.32 543.16h2.6M98.32 541.77h2.6M98.32 540.56h2.6M98.32 539.5h2.6M98.32 538.54h3.2M98.32 532.27h2.6M98.32 528.61h2.6M98.32 526h2.6M98.32 523.98h2.6M98.32 522.34h2.6M98.32 520.94h2.6M98.32 519.73h2.6M98.32 518.67h2.6M98.32 517.71h3.2M98.32 511.44h2.6M98.32 507.78h2.6M98.32 505.17h2.6M98.32 503.16h2.6M98.32 501.51h2.6M98.32 500.11h2.6M98.32 498.9h2.6M98.32 497.84h2.6M98.32 496.89h3.2M98.32 490.62h2.6M98.32 486.95h2.6M98.32 484.35h2.6M98.32 482.33h2.6M98.32 480.68h2.6M98.32 479.28h2.6M98.32 478.08h2.6M98.32 477.01h2.6M98.32 476.06h3.2M98.32 469.79h2.6M98.32 466.12h2.6M98.32 463.52h2.6M98.32 461.5h2.6M98.32 459.85h2.6M98.32 458.45h2.6M98.32 457.25h2.6M98.32 456.18h2.6M98.32 455.23h3.2M98.32 448.96h2.6M98.32 445.29h2.6M98.32 442.69h2.6M98.32 440.67h2.6M98.32 439.02h2.6M98.32 437.63h2.6M98.32 436.42h2.6M98.32 435.35h2.6" stroke="#000" stroke-width="0.75"/>
<path d="M105.82 580.2v-2.4M121.05 580.2v-2.4M136.28 580.2v-2.4M151.51 580.2v-2.4" stroke="#000" stroke-width="0.7"/>
<text transform="translate(105.82 590.7) scale(0.92 1)" class="xt">0</text>
<text transform="translate(121.05 590.7) scale(0.92 1)" class="xt">10</text>
<text transform="translate(136.28 590.7) scale(0.92 1)" class="xt">20</text>
<text transform="translate(151.51 590.7) scale(0.92 1)" class="xt">30</text>
<path d="M159.24 434.4V580.2" stroke="#000" stroke-width="1.1"/>
<path d="M159.24 580.2h3.2M159.24 573.93h2.6M159.24 570.26h2.6M159.24 567.66h2.6M159.24 565.64h2.6M159.24 563.99h2.6M159.24 562.6h2.6M159.24 561.39h2.6M159.24 560.32h2.6M159.24 559.37h3.2M159.24 553.1h2.6M159.24 549.43h2.6M159.24 546.83h2.6M159.24 544.81h2.6M159.24 543.16h2.6M159.24 541.77h2.6M159.24 540.56h2.6M159.24 539.5h2.6M159.24 538.54h3.2M159.24 532.27h2.6M159.24 528.61h2.6M159.24 526h2.6M159.24 523.98h2.6M159.24 522.34h2.6M159.24 520.94h2.6M159.24 519.73h2.6M159.24 518.67h2.6M159.24 517.71h3.2M159.24 511.44h2.6M159.24 507.78h2.6M159.24 505.17h2.6M159.24 503.16h2.6M159.24 501.51h2.6M159.24 500.11h2.6M159.24 498.9h2.6M159.24 497.84h2.6M159.24 496.89h3.2M159.24 490.62h2.6M159.24 486.95h2.6M159.24 484.35h2.6M159.24 482.33h2.6M159.24 480.68h2.6M159.24 479.28h2.6M159.24 478.08h2.6M159.24 477.01h2.6M159.24 476.06h3.2M159.24 469.79h2.6M159.24 466.12h2.6M159.24 463.52h2.6M159.24 461.5h2.6M159.24 459.85h2.6M159.24 458.45h2.6M159.24 457.25h2.6M159.24 456.18h2.6M159.24 455.23h3.2M159.24 448.96h2.6M159.24 445.29h2.6M159.24 442.69h2.6M159.24 440.67h2.6M159.24 439.02h2.6M159.24 437.63h2.6M159.24 436.42h2.6M159.24 435.35h2.6" stroke="#000" stroke-width="0.75"/>
<path d="M166.74 580.2v-2.4M181.97 580.2v-2.4M197.2 580.2v-2.4M212.43 580.2v-2.4" stroke="#000" stroke-width="0.7"/>
<text transform="translate(166.74 590.7) scale(0.92 1)" class="xt">0</text>
<text transform="translate(181.97 590.7) scale(0.92 1)" class="xt">10</text>
<text transform="translate(197.2 590.7) scale(0.92 1)" class="xt">20</text>
<text transform="translate(212.43 590.7) scale(0.92 1)" class="xt">30</text>
<path d="M220.16 434.4V580.2" stroke="#000" stroke-width="1.1"/>
<path d="M220.16 580.2h3.2M220.16 573.93h2.6M220.16 570.26h2.6M220.16 567.66h2.6M220.16 565.64h2.6M220.16 563.99h2.6M220.16 562.6h2.6M220.16 561.39h2.6M220.16 560.32h2.6M220.16 559.37h3.2M220.16 553.1h2.6M220.16 549.43h2.6M220.16 546.83h2.6M220.16 544.81h2.6M220.16 543.16h2.6M220.16 541.77h2.6M220.16 540.56h2.6M220.16 539.5h2.6M220.16 538.54h3.2M220.16 532.27h2.6M220.16 528.61h2.6M220.16 526h2.6M220.16 523.98h2.6M220.16 522.34h2.6M220.16 520.94h2.6M220.16 519.73h2.6M220.16 518.67h2.6M220.16 517.71h3.2M220.16 511.44h2.6M220.16 507.78h2.6M220.16 505.17h2.6M220.16 503.16h2.6M220.16 501.51h2.6M220.16 500.11h2.6M220.16 498.9h2.6M220.16 497.84h2.6M220.16 496.89h3.2M220.16 490.62h2.6M220.16 486.95h2.6M220.16 484.35h2.6M220.16 482.33h2.6M220.16 480.68h2.6M220.16 479.28h2.6M220.16 478.08h2.6M220.16 477.01h2.6M220.16 476.06h3.2M220.16 469.79h2.6M220.16 466.12h2.6M220.16 463.52h2.6M220.16 461.5h2.6M220.16 459.85h2.6M220.16 458.45h2.6M220.16 457.25h2.6M220.16 456.18h2.6M220.16 455.23h3.2M220.16 448.96h2.6M220.16 445.29h2.6M220.16 442.69h2.6M220.16 440.67h2.6M220.16 439.02h2.6M220.16 437.63h2.6M220.16 436.42h2.6M220.16 435.35h2.6" stroke="#000" stroke-width="0.75"/>
<path d="M227.66 580.2v-2.4M242.89 580.2v-2.4M258.12 580.2v-2.4M273.35 580.2v-2.4" stroke="#000" stroke-width="0.7"/>
<text transform="translate(227.66 590.7) scale(0.92 1)" class="xt">0</text>
<text transform="translate(242.89 590.7) scale(0.92 1)" class="xt">10</text>
<text transform="translate(258.12 590.7) scale(0.92 1)" class="xt">20</text>
<text transform="translate(273.35 590.7) scale(0.92 1)" class="xt">30</text>
<path d="M281.08 434.4V580.2" stroke="#000" stroke-width="1.1"/>
<path d="M281.08 580.2h3.2M281.08 573.93h2.6M281.08 570.26h2.6M281.08 567.66h2.6M281.08 565.64h2.6M281.08 563.99h2.6M281.08 562.6h2.6M281.08 561.39h2.6M281.08 560.32h2.6M281.08 559.37h3.2M281.08 553.1h2.6M281.08 549.43h2.6M281.08 546.83h2.6M281.08 544.81h2.6M281.08 543.16h2.6M281.08 541.77h2.6M281.08 540.56h2.6M281.08 539.5h2.6M281.08 538.54h3.2M281.08 532.27h2.6M281.08 528.61h2.6M281.08 526h2.6M281.08 523.98h2.6M281.08 522.34h2.6M281.08 520.94h2.6M281.08 519.73h2.6M281.08 518.67h2.6M281.08 517.71h3.2M281.08 511.44h2.6M281.08 507.78h2.6M281.08 505.17h2.6M281.08 503.16h2.6M281.08 501.51h2.6M281.08 500.11h2.6M281.08 498.9h2.6M281.08 497.84h2.6M281.08 496.89h3.2M281.08 490.62h2.6M281.08 486.95h2.6M281.08 484.35h2.6M281.08 482.33h2.6M281.08 480.68h2.6M281.08 479.28h2.6M281.08 478.08h2.6M281.08 477.01h2.6M281.08 476.06h3.2M281.08 469.79h2.6M281.08 466.12h2.6M281.08 463.52h2.6M281.08 461.5h2.6M281.08 459.85h2.6M281.08 458.45h2.6M281.08 457.25h2.6M281.08 456.18h2.6M281.08 455.23h3.2M281.08 448.96h2.6M281.08 445.29h2.6M281.08 442.69h2.6M281.08 440.67h2.6M281.08 439.02h2.6M281.08 437.63h2.6M281.08 436.42h2.6M281.08 435.35h2.6" stroke="#000" stroke-width="0.75"/>
<path d="M288.58 580.2v-2.4M303.81 580.2v-2.4M319.04 580.2v-2.4M334.27 580.2v-2.4" stroke="#000" stroke-width="0.7"/>
<text transform="translate(288.58 590.7) scale(0.92 1)" class="xt">0</text>
<text transform="translate(303.81 590.7) scale(0.92 1)" class="xt">10</text>
<text transform="translate(319.04 590.7) scale(0.92 1)" class="xt">20</text>
<text transform="translate(334.27 590.7) scale(0.92 1)" class="xt">30</text>
<text transform="translate(33.8 583.5) scale(0.86 1)" class="yt" font-size="9.4">10<tspan dx="0.5" dy="-4.4" font-size="6.8">0</tspan></text>
<text transform="translate(33.8 562.67) scale(0.86 1)" class="yt" font-size="9.4">10<tspan dx="0.5" dy="-4.4" font-size="6.8">1</tspan></text>
<text transform="translate(33.8 541.84) scale(0.86 1)" class="yt" font-size="9.4">10<tspan dx="0.5" dy="-4.4" font-size="6.8">2</tspan></text>
<text transform="translate(33.8 521.01) scale(0.86 1)" class="yt" font-size="9.4">10<tspan dx="0.5" dy="-4.4" font-size="6.8">3</tspan></text>
<text transform="translate(33.8 500.19) scale(0.86 1)" class="yt" font-size="9.4">10<tspan dx="0.5" dy="-4.4" font-size="6.8">4</tspan></text>
<text transform="translate(33.8 479.36) scale(0.86 1)" class="yt" font-size="9.4">10<tspan dx="0.5" dy="-4.4" font-size="6.8">5</tspan></text>
<text transform="translate(33.8 458.53) scale(0.86 1)" class="yt" font-size="9.4">10<tspan dx="0.5" dy="-4.4" font-size="6.8">6</tspan></text>
<text transform="translate(33.8 437.7) scale(0.86 1)" class="yt" font-size="9.4">10<tspan dx="0.5" dy="-4.4" font-size="6.8">7</tspan></text>
<path d="M379 435.1H684.2V581.4" fill="none" stroke="#777" stroke-width="1"/>
<path d="M379 581.4H684.2" stroke="#222" stroke-width="1.1"/>
<path d="M379 435.1V581.4" stroke="#000" stroke-width="1.1"/>
<path d="M379 581.4h3.2M379 575.11h2.6M379 571.43h2.6M379 568.82h2.6M379 566.79h2.6M379 565.14h2.6M379 563.74h2.6M379 562.53h2.6M379 561.46h2.6M379 560.5h3.2M379 554.21h2.6M379 550.53h2.6M379 547.92h2.6M379 545.89h2.6M379 544.24h2.6M379 542.84h2.6M379 541.63h2.6M379 540.56h2.6M379 539.6h3.2M379 533.31h2.6M379 529.63h2.6M379 527.02h2.6M379 524.99h2.6M379 523.34h2.6M379 521.94h2.6M379 520.73h2.6M379 519.66h2.6M379 518.7h3.2M379 512.41h2.6M379 508.73h2.6M379 506.12h2.6M379 504.09h2.6M379 502.44h2.6M379 501.04h2.6M379 499.83h2.6M379 498.76h2.6M379 497.8h3.2M379 491.51h2.6M379 487.83h2.6M379 485.22h2.6M379 483.19h2.6M379 481.54h2.6M379 480.14h2.6M379 478.93h2.6M379 477.86h2.6M379 476.9h3.2M379 470.61h2.6M379 466.93h2.6M379 464.32h2.6M379 462.29h2.6M379 460.64h2.6M379 459.24h2.6M379 458.03h2.6M379 456.96h2.6M379 456h3.2M379 449.71h2.6M379 446.03h2.6M379 443.42h2.6M379 441.39h2.6M379 439.74h2.6M379 438.34h2.6M379 437.13h2.6M379 436.06h2.6" stroke="#000" stroke-width="0.75"/>
<path d="M386.4 581.4v-2.4M401.66 581.4v-2.4M416.92 581.4v-2.4M432.18 581.4v-2.4" stroke="#000" stroke-width="0.7"/>
<text transform="translate(386.4 591.9) scale(0.92 1)" class="xt">0</text>
<text transform="translate(401.66 591.9) scale(0.92 1)" class="xt">10</text>
<text transform="translate(416.92 591.9) scale(0.92 1)" class="xt">20</text>
<text transform="translate(432.18 591.9) scale(0.92 1)" class="xt">30</text>
<path d="M440.04 435.1V581.4" stroke="#000" stroke-width="1.1"/>
<path d="M440.04 581.4h3.2M440.04 575.11h2.6M440.04 571.43h2.6M440.04 568.82h2.6M440.04 566.79h2.6M440.04 565.14h2.6M440.04 563.74h2.6M440.04 562.53h2.6M440.04 561.46h2.6M440.04 560.5h3.2M440.04 554.21h2.6M440.04 550.53h2.6M440.04 547.92h2.6M440.04 545.89h2.6M440.04 544.24h2.6M440.04 542.84h2.6M440.04 541.63h2.6M440.04 540.56h2.6M440.04 539.6h3.2M440.04 533.31h2.6M440.04 529.63h2.6M440.04 527.02h2.6M440.04 524.99h2.6M440.04 523.34h2.6M440.04 521.94h2.6M440.04 520.73h2.6M440.04 519.66h2.6M440.04 518.7h3.2M440.04 512.41h2.6M440.04 508.73h2.6M440.04 506.12h2.6M440.04 504.09h2.6M440.04 502.44h2.6M440.04 501.04h2.6M440.04 499.83h2.6M440.04 498.76h2.6M440.04 497.8h3.2M440.04 491.51h2.6M440.04 487.83h2.6M440.04 485.22h2.6M440.04 483.19h2.6M440.04 481.54h2.6M440.04 480.14h2.6M440.04 478.93h2.6M440.04 477.86h2.6M440.04 476.9h3.2M440.04 470.61h2.6M440.04 466.93h2.6M440.04 464.32h2.6M440.04 462.29h2.6M440.04 460.64h2.6M440.04 459.24h2.6M440.04 458.03h2.6M440.04 456.96h2.6M440.04 456h3.2M440.04 449.71h2.6M440.04 446.03h2.6M440.04 443.42h2.6M440.04 441.39h2.6M440.04 439.74h2.6M440.04 438.34h2.6M440.04 437.13h2.6M440.04 436.06h2.6" stroke="#000" stroke-width="0.75"/>
<path d="M447.44 581.4v-2.4M462.7 581.4v-2.4M477.96 581.4v-2.4M493.22 581.4v-2.4" stroke="#000" stroke-width="0.7"/>
<text transform="translate(447.44 591.9) scale(0.92 1)" class="xt">0</text>
<text transform="translate(462.7 591.9) scale(0.92 1)" class="xt">10</text>
<text transform="translate(477.96 591.9) scale(0.92 1)" class="xt">20</text>
<text transform="translate(493.22 591.9) scale(0.92 1)" class="xt">30</text>
<path d="M501.08 435.1V581.4" stroke="#000" stroke-width="1.1"/>
<path d="M501.08 581.4h3.2M501.08 575.11h2.6M501.08 571.43h2.6M501.08 568.82h2.6M501.08 566.79h2.6M501.08 565.14h2.6M501.08 563.74h2.6M501.08 562.53h2.6M501.08 561.46h2.6M501.08 560.5h3.2M501.08 554.21h2.6M501.08 550.53h2.6M501.08 547.92h2.6M501.08 545.89h2.6M501.08 544.24h2.6M501.08 542.84h2.6M501.08 541.63h2.6M501.08 540.56h2.6M501.08 539.6h3.2M501.08 533.31h2.6M501.08 529.63h2.6M501.08 527.02h2.6M501.08 524.99h2.6M501.08 523.34h2.6M501.08 521.94h2.6M501.08 520.73h2.6M501.08 519.66h2.6M501.08 518.7h3.2M501.08 512.41h2.6M501.08 508.73h2.6M501.08 506.12h2.6M501.08 504.09h2.6M501.08 502.44h2.6M501.08 501.04h2.6M501.08 499.83h2.6M501.08 498.76h2.6M501.08 497.8h3.2M501.08 491.51h2.6M501.08 487.83h2.6M501.08 485.22h2.6M501.08 483.19h2.6M501.08 481.54h2.6M501.08 480.14h2.6M501.08 478.93h2.6M501.08 477.86h2.6M501.08 476.9h3.2M501.08 470.61h2.6M501.08 466.93h2.6M501.08 464.32h2.6M501.08 462.29h2.6M501.08 460.64h2.6M501.08 459.24h2.6M501.08 458.03h2.6M501.08 456.96h2.6M501.08 456h3.2M501.08 449.71h2.6M501.08 446.03h2.6M501.08 443.42h2.6M501.08 441.39h2.6M501.08 439.74h2.6M501.08 438.34h2.6M501.08 437.13h2.6M501.08 436.06h2.6" stroke="#000" stroke-width="0.75"/>
<path d="M508.48 581.4v-2.4M523.74 581.4v-2.4M539 581.4v-2.4M554.26 581.4v-2.4" stroke="#000" stroke-width="0.7"/>
<text transform="translate(508.48 591.9) scale(0.92 1)" class="xt">0</text>
<text transform="translate(523.74 591.9) scale(0.92 1)" class="xt">10</text>
<text transform="translate(539 591.9) scale(0.92 1)" class="xt">20</text>
<text transform="translate(554.26 591.9) scale(0.92 1)" class="xt">30</text>
<path d="M562.12 435.1V581.4" stroke="#000" stroke-width="1.1"/>
<path d="M562.12 581.4h3.2M562.12 575.11h2.6M562.12 571.43h2.6M562.12 568.82h2.6M562.12 566.79h2.6M562.12 565.14h2.6M562.12 563.74h2.6M562.12 562.53h2.6M562.12 561.46h2.6M562.12 560.5h3.2M562.12 554.21h2.6M562.12 550.53h2.6M562.12 547.92h2.6M562.12 545.89h2.6M562.12 544.24h2.6M562.12 542.84h2.6M562.12 541.63h2.6M562.12 540.56h2.6M562.12 539.6h3.2M562.12 533.31h2.6M562.12 529.63h2.6M562.12 527.02h2.6M562.12 524.99h2.6M562.12 523.34h2.6M562.12 521.94h2.6M562.12 520.73h2.6M562.12 519.66h2.6M562.12 518.7h3.2M562.12 512.41h2.6M562.12 508.73h2.6M562.12 506.12h2.6M562.12 504.09h2.6M562.12 502.44h2.6M562.12 501.04h2.6M562.12 499.83h2.6M562.12 498.76h2.6M562.12 497.8h3.2M562.12 491.51h2.6M562.12 487.83h2.6M562.12 485.22h2.6M562.12 483.19h2.6M562.12 481.54h2.6M562.12 480.14h2.6M562.12 478.93h2.6M562.12 477.86h2.6M562.12 476.9h3.2M562.12 470.61h2.6M562.12 466.93h2.6M562.12 464.32h2.6M562.12 462.29h2.6M562.12 460.64h2.6M562.12 459.24h2.6M562.12 458.03h2.6M562.12 456.96h2.6M562.12 456h3.2M562.12 449.71h2.6M562.12 446.03h2.6M562.12 443.42h2.6M562.12 441.39h2.6M562.12 439.74h2.6M562.12 438.34h2.6M562.12 437.13h2.6M562.12 436.06h2.6" stroke="#000" stroke-width="0.75"/>
<path d="M569.52 581.4v-2.4M584.78 581.4v-2.4M600.04 581.4v-2.4M615.3 581.4v-2.4" stroke="#000" stroke-width="0.7"/>
<text transform="translate(569.52 591.9) scale(0.92 1)" class="xt">0</text>
<text transform="translate(584.78 591.9) scale(0.92 1)" class="xt">10</text>
<text transform="translate(600.04 591.9) scale(0.92 1)" class="xt">20</text>
<text transform="translate(615.3 591.9) scale(0.92 1)" class="xt">30</text>
<path d="M623.16 435.1V581.4" stroke="#000" stroke-width="1.1"/>
<path d="M623.16 581.4h3.2M623.16 575.11h2.6M623.16 571.43h2.6M623.16 568.82h2.6M623.16 566.79h2.6M623.16 565.14h2.6M623.16 563.74h2.6M623.16 562.53h2.6M623.16 561.46h2.6M623.16 560.5h3.2M623.16 554.21h2.6M623.16 550.53h2.6M623.16 547.92h2.6M623.16 545.89h2.6M623.16 544.24h2.6M623.16 542.84h2.6M623.16 541.63h2.6M623.16 540.56h2.6M623.16 539.6h3.2M623.16 533.31h2.6M623.16 529.63h2.6M623.16 527.02h2.6M623.16 524.99h2.6M623.16 523.34h2.6M623.16 521.94h2.6M623.16 520.73h2.6M623.16 519.66h2.6M623.16 518.7h3.2M623.16 512.41h2.6M623.16 508.73h2.6M623.16 506.12h2.6M623.16 504.09h2.6M623.16 502.44h2.6M623.16 501.04h2.6M623.16 499.83h2.6M623.16 498.76h2.6M623.16 497.8h3.2M623.16 491.51h2.6M623.16 487.83h2.6M623.16 485.22h2.6M623.16 483.19h2.6M623.16 481.54h2.6M623.16 480.14h2.6M623.16 478.93h2.6M623.16 477.86h2.6M623.16 476.9h3.2M623.16 470.61h2.6M623.16 466.93h2.6M623.16 464.32h2.6M623.16 462.29h2.6M623.16 460.64h2.6M623.16 459.24h2.6M623.16 458.03h2.6M623.16 456.96h2.6M623.16 456h3.2M623.16 449.71h2.6M623.16 446.03h2.6M623.16 443.42h2.6M623.16 441.39h2.6M623.16 439.74h2.6M623.16 438.34h2.6M623.16 437.13h2.6M623.16 436.06h2.6" stroke="#000" stroke-width="0.75"/>
<path d="M630.56 581.4v-2.4M645.82 581.4v-2.4M661.08 581.4v-2.4M676.34 581.4v-2.4" stroke="#000" stroke-width="0.7"/>
<text transform="translate(630.56 591.9) scale(0.92 1)" class="xt">0</text>
<text transform="translate(645.82 591.9) scale(0.92 1)" class="xt">10</text>
<text transform="translate(661.08 591.9) scale(0.92 1)" class="xt">20</text>
<text transform="translate(676.34 591.9) scale(0.92 1)" class="xt">30</text>
<text transform="translate(375.4 584.7) scale(0.86 1)" class="yt" font-size="9.4">10<tspan dx="0.5" dy="-4.4" font-size="6.8">0</tspan></text>
<text transform="translate(375.4 563.8) scale(0.86 1)" class="yt" font-size="9.4">10<tspan dx="0.5" dy="-4.4" font-size="6.8">1</tspan></text>
<text transform="translate(375.4 542.9) scale(0.86 1)" class="yt" font-size="9.4">10<tspan dx="0.5" dy="-4.4" font-size="6.8">2</tspan></text>
<text transform="translate(375.4 522) scale(0.86 1)" class="yt" font-size="9.4">10<tspan dx="0.5" dy="-4.4" font-size="6.8">3</tspan></text>
<text transform="translate(375.4 501.1) scale(0.86 1)" class="yt" font-size="9.4">10<tspan dx="0.5" dy="-4.4" font-size="6.8">4</tspan></text>
<text transform="translate(375.4 480.2) scale(0.86 1)" class="yt" font-size="9.4">10<tspan dx="0.5" dy="-4.4" font-size="6.8">5</tspan></text>
<text transform="translate(375.4 459.3) scale(0.86 1)" class="yt" font-size="9.4">10<tspan dx="0.5" dy="-4.4" font-size="6.8">6</tspan></text>
<text transform="translate(375.4 438.4) scale(0.86 1)" class="yt" font-size="9.4">10<tspan dx="0.5" dy="-4.4" font-size="6.8">7</tspan></text>
<text transform="translate(15.7 506.5) rotate(-90)" class="ytitle">CFU/µg protein</text>
<text x="-0.6" y="411.3" class="lt">c</text>
<text x="35.8" y="422.8" class="rn">i</text>
<text x="360.9" y="423.3" class="rn">ii</text>
<path d="M64.64 454.82L86.08 459.21" fill="none" stroke="#222" stroke-width="0.8"/>
<path d="M55.23 449.51L57.41 452.48M64.45 457.78L86.27 465.81" fill="none" stroke="#222" stroke-width="0.8"/>
<path d="M46.86 456.2L50.56 464.07M64.69 474.85L86.03 477.61" fill="none" stroke="#222" stroke-width="0.8"/>
<path d="M46.01 456.5L51.41 478.31M64.68 487.79L86.04 490.85" fill="none" stroke="#222" stroke-width="0.8"/>
<path d="M45.95 456.51L51.46 479.96M54.72 488.47L57.92 494.32M64.71 498.82L86.01 501" fill="none" stroke="#222" stroke-width="0.8"/>
<path d="M45.91 456.52L51.51 481.4M54.77 489.9L57.87 495.38M64.67 500.1L86.05 503.46" fill="none" stroke="#222" stroke-width="0.8"/>
<path d="M90.59 478.2V474.05M88.99 474.05h3.2" stroke="#222" stroke-width="0.8"/>
<use href="#msqopenk" x="44.9" y="452.03"/>
<use href="#msqopenk" x="52.52" y="451.2"/>
<use href="#msqopenk" x="60.13" y="453.9"/>
<use href="#msqopenk" x="90.59" y="460.13"/>
<use href="#msqplusk" x="44.9" y="452.03"/>
<use href="#msqplusk" x="52.52" y="445.8"/>
<use href="#msqplusk" x="60.13" y="456.19"/>
<use href="#msqplusk" x="90.59" y="467.4"/>
<use href="#msqxk" x="44.9" y="452.03"/>
<use href="#msqxk" x="52.52" y="468.23"/>
<use href="#msqxk" x="60.13" y="474.26"/>
<use href="#msqxk" x="90.59" y="478.2"/>
<use href="#msqtopk" x="44.9" y="452.03"/>
<use href="#msqtopk" x="52.52" y="482.77"/>
<use href="#msqtopk" x="60.13" y="487.14"/>
<use href="#msqtopk" x="90.59" y="491.5"/>
<use href="#msqrightk" x="44.9" y="452.03"/>
<use href="#msqrightk" x="52.52" y="484.44"/>
<use href="#msqrightk" x="60.13" y="498.35"/>
<use href="#msqrightk" x="90.59" y="501.47"/>
<use href="#msqleftk" x="44.9" y="452.03"/>
<use href="#msqleftk" x="52.52" y="485.89"/>
<use href="#msqleftk" x="60.13" y="499.39"/>
<use href="#msqleftk" x="90.59" y="504.17"/>
<path d="M44.1 532h2.2M56.7 532h2.2" stroke="#222" stroke-width="0.8"/>
<use href="#msqopenk" x="51.5" y="532"/>
<text x="60.5" y="534.3" class="lg" textLength="24.09" lengthAdjust="spacingAndGlyphs">DI water</text>
<path d="M44.1 540.05h2.2M56.7 540.05h2.2" stroke="#222" stroke-width="0.8"/>
<use href="#msqplusk" x="51.5" y="540.05"/>
<text x="60.5" y="542.35" class="lg" textLength="7.6" lengthAdjust="spacingAndGlyphs">S1</text>
<path d="M44.1 548.1h2.2M56.7 548.1h2.2" stroke="#222" stroke-width="0.8"/>
<use href="#msqxk" x="51.5" y="548.1"/>
<text x="60.5" y="550.4" class="lg" textLength="13.1" lengthAdjust="spacingAndGlyphs">S2.5</text>
<path d="M44.1 556.15h2.2M56.7 556.15h2.2" stroke="#222" stroke-width="0.8"/>
<use href="#msqtopk" x="51.5" y="556.15"/>
<text x="60.5" y="558.45" class="lg" textLength="7.6" lengthAdjust="spacingAndGlyphs">S5</text>
<path d="M44.1 564.2h2.2M56.7 564.2h2.2" stroke="#222" stroke-width="0.8"/>
<use href="#msqrightk" x="51.5" y="564.2"/>
<text x="60.5" y="566.5" class="lg" textLength="11.19" lengthAdjust="spacingAndGlyphs">S10</text>
<path d="M44.1 572.25h2.2M56.7 572.25h2.2" stroke="#222" stroke-width="0.8"/>
<use href="#msqleftk" x="51.5" y="572.25"/>
<text x="60.5" y="574.55" class="lg" textLength="11.19" lengthAdjust="spacingAndGlyphs">S15</text>
<path d="M125.51 455.03L147.05 460.46" fill="none" stroke="#222" stroke-width="0.8"/>
<path d="M108.34 455.88L110.92 459.82M115.15 467.93L119.33 478.3M125.21 484.53L147.35 494.94" fill="none" stroke="#3aa33a" stroke-width="0.8"/>
<path d="M107.15 456.43L112.1 472.76M115.69 481.17L118.79 486.66M125.58 491.47L146.98 495.26" fill="none" stroke="#ff2020" stroke-width="0.8"/>
<path d="M106.65 456.56L112.6 488.84M125.52 497.97L147.04 503.1" fill="none" stroke="#2020b0" stroke-width="0.8"/>
<path d="M106.67 456.55L112.59 488.02M116.26 496.16L118.22 498.67M124.74 505.04L147.82 522.2" fill="none" stroke="#ff8c1a" stroke-width="0.8"/>
<use href="#msqopenk" x="105.82" y="452.03"/>
<use href="#msqopenk" x="113.43" y="451.62"/>
<use href="#msqopenk" x="121.05" y="453.9"/>
<use href="#msqopenk" x="151.51" y="461.59"/>
<use href="#mpentopeng" x="105.82" y="452.03"/>
<use href="#mpentopeng" x="113.43" y="463.66"/>
<use href="#mpentopeng" x="121.05" y="482.57"/>
<use href="#mpentopeng" x="151.51" y="496.9"/>
<use href="#mpenttopr" x="105.82" y="452.03"/>
<use href="#mpenttopr" x="113.43" y="477.17"/>
<use href="#mpenttopr" x="121.05" y="490.67"/>
<use href="#mpenttopr" x="151.51" y="496.07"/>
<use href="#mpentbottomb" x="105.82" y="452.03"/>
<use href="#mpentbottomb" x="113.43" y="493.37"/>
<use href="#mpentbottomb" x="121.05" y="496.9"/>
<use href="#mpentbottomb" x="151.51" y="504.17"/>
<use href="#mpentlefto" x="105.82" y="452.03"/>
<use href="#mpentlefto" x="113.43" y="492.54"/>
<use href="#mpentlefto" x="121.05" y="502.3"/>
<use href="#mpentlefto" x="151.51" y="524.94"/>
<path d="M105.86 539.3h2.2M118.46 539.3h2.2" stroke="#222" stroke-width="0.8"/>
<use href="#msqopenk" x="113.26" y="539.3"/>
<text x="122.26" y="541.6" class="lg" textLength="24.09" lengthAdjust="spacingAndGlyphs">DI water</text>
<path d="M105.86 547.35h2.2M118.46 547.35h2.2" stroke="#3aa33a" stroke-width="0.8"/>
<use href="#mpentopeng" x="113.26" y="547.35"/>
<text x="122.26" y="549.65" class="lg" textLength="8.84" lengthAdjust="spacingAndGlyphs">I30</text>
<path d="M105.86 555.4h2.2M118.46 555.4h2.2" stroke="#ff2020" stroke-width="0.8"/>
<use href="#mpenttopr" x="113.26" y="555.4"/>
<text x="122.26" y="557.7" class="lg" textLength="16.69" lengthAdjust="spacingAndGlyphs">I30S5</text>
<path d="M105.86 563.45h2.2M118.46 563.45h2.2" stroke="#2020b0" stroke-width="0.8"/>
<use href="#mpentbottomb" x="113.26" y="563.45"/>
<text x="122.26" y="565.75" class="lg" textLength="20.27" lengthAdjust="spacingAndGlyphs">I30S10</text>
<path d="M105.86 571.5h2.2M118.46 571.5h2.2" stroke="#ff8c1a" stroke-width="0.8"/>
<use href="#mpentlefto" x="113.26" y="571.5"/>
<text x="122.26" y="573.8" class="lg" textLength="20.27" lengthAdjust="spacingAndGlyphs">I30S15</text>
<path d="M186.43 455.03L207.97 460.46" fill="none" stroke="#222" stroke-width="0.8"/>
<path d="M169.39 455.79L171.7 459.07M175.83 467.19L180.49 480.91M185.98 487.51L208.42 500.05" fill="none" stroke="#3aa33a" stroke-width="0.8"/>
<path d="M168.7 456.2L172.4 464.07M175.73 472.62L180.59 488.15M186.42 493.72L207.98 499.46" fill="none" stroke="#ff2020" stroke-width="0.8"/>
<path d="M167.69 456.53L173.4 483.47M176.4 492.09L179.93 499.22M186.23 505.08L208.17 514.06" fill="none" stroke="#2020b0" stroke-width="0.8"/>
<path d="M167.32 456.6L173.78 507.71M186.57 517.32L207.83 517.61" fill="none" stroke="#ff8c1a" stroke-width="0.8"/>
<use href="#msqopenk" x="166.74" y="452.03"/>
<use href="#msqopenk" x="174.36" y="451.62"/>
<use href="#msqopenk" x="181.97" y="453.9"/>
<use href="#msqopenk" x="212.43" y="461.59"/>
<use href="#mtriopeng" x="166.74" y="452.03"/>
<use href="#mtriopeng" x="174.36" y="462.83"/>
<use href="#mtriopeng" x="181.97" y="485.27"/>
<use href="#mtriopeng" x="212.43" y="502.3"/>
<use href="#mtritopr" x="166.74" y="452.03"/>
<use href="#mtritopr" x="174.36" y="468.23"/>
<use href="#mtritopr" x="181.97" y="492.54"/>
<use href="#mtritopr" x="212.43" y="500.64"/>
<use href="#mtribottomb" x="166.74" y="452.03"/>
<use href="#mtribottomb" x="174.36" y="487.97"/>
<use href="#mtribottomb" x="181.97" y="503.34"/>
<use href="#mtribottomb" x="212.43" y="515.8"/>
<use href="#mtrilefto" x="166.74" y="452.03"/>
<use href="#mtrilefto" x="174.36" y="512.27"/>
<use href="#mtrilefto" x="181.97" y="517.25"/>
<use href="#mtrilefto" x="212.43" y="517.67"/>
<path d="M166.92 538.9h2.2M179.52 538.9h2.2" stroke="#222" stroke-width="0.8"/>
<use href="#msqopenk" x="174.32" y="538.9"/>
<text x="183.32" y="541.2" class="lg" textLength="24.09" lengthAdjust="spacingAndGlyphs">DI water</text>
<path d="M166.92 546.95h2.2M179.52 546.95h2.2" stroke="#3aa33a" stroke-width="0.8"/>
<use href="#mtriopeng" x="174.32" y="546.95"/>
<text x="183.32" y="549.25" class="lg" textLength="8.84" lengthAdjust="spacingAndGlyphs">I40</text>
<path d="M166.92 555h2.2M179.52 555h2.2" stroke="#ff2020" stroke-width="0.8"/>
<use href="#mtritopr" x="174.32" y="555"/>
<text x="183.32" y="557.3" class="lg" textLength="16.69" lengthAdjust="spacingAndGlyphs">I40S5</text>
<path d="M166.92 563.05h2.2M179.52 563.05h2.2" stroke="#2020b0" stroke-width="0.8"/>
<use href="#mtribottomb" x="174.32" y="563.05"/>
<text x="183.32" y="565.35" class="lg" textLength="20.27" lengthAdjust="spacingAndGlyphs">I40S10</text>
<path d="M166.92 571.1h2.2M179.52 571.1h2.2" stroke="#ff8c1a" stroke-width="0.8"/>
<use href="#mtrilefto" x="174.32" y="571.1"/>
<text x="183.32" y="573.4" class="lg" textLength="20.27" lengthAdjust="spacingAndGlyphs">I40S15</text>
<path d="M247.35 455.03L268.89 460.46" fill="none" stroke="#222" stroke-width="0.8"/>
<path d="M228.48 456.56L234.46 489.67M236.52 498.63L241.64 516.77" fill="none" stroke="#3aa33a" stroke-width="0.8"/>
<path d="M228.44 456.57L234.49 491.54M236.45 500.52L241.72 520.49" fill="none" stroke="#ff2020" stroke-width="0.8"/>
<path d="M228.2 456.6L234.74 512.27" fill="none" stroke="#2020b0" stroke-width="0.8"/>
<path d="M228.15 456.61L234.78 518.5" fill="none" stroke="#ff8c1a" stroke-width="0.8"/>
<use href="#msqopenk" x="227.66" y="452.03"/>
<use href="#msqopenk" x="235.28" y="451.62"/>
<use href="#msqopenk" x="242.89" y="453.9"/>
<use href="#msqopenk" x="273.35" y="461.59"/>
<use href="#mcircopeng" x="227.66" y="452.03"/>
<use href="#mcircopeng" x="235.28" y="494.2"/>
<use href="#mcircopeng" x="242.89" y="521.2"/>
<use href="#mcirctopr" x="227.66" y="452.03"/>
<use href="#mcirctopr" x="235.28" y="496.07"/>
<use href="#mcirctopr" x="242.89" y="524.94"/>
<use href="#mcircbottomb" x="227.66" y="452.03"/>
<use href="#mcircbottomb" x="235.28" y="516.84"/>
<use href="#mcircbottomb" x="242.89" y="523.07"/>
<use href="#mcirclefto" x="227.66" y="452.03"/>
<use href="#mcirclefto" x="235.28" y="523.07"/>
<circle cx="242.89" cy="571.88" r="1.35" fill="#ffa040"/>
<circle cx="273.35" cy="561.91" r="1.35" fill="#4aa84a"/>
<circle cx="273.35" cy="566.48" r="1.35" fill="#ff4040"/>
<circle cx="273.35" cy="570.43" r="1.35" fill="#4848c0"/>
<circle cx="273.35" cy="575.21" r="1.35" fill="#ffa040"/>
<path d="M239.18 471.8h2.2M251.78 471.8h2.2" stroke="#222" stroke-width="0.8"/>
<use href="#msqopenk" x="246.58" y="471.8"/>
<text x="255.58" y="474.1" class="lg" textLength="24.09" lengthAdjust="spacingAndGlyphs">DI water</text>
<path d="M239.18 479.85h2.2M251.78 479.85h2.2" stroke="#3aa33a" stroke-width="0.8"/>
<use href="#mcircopeng" x="246.58" y="479.85"/>
<text x="255.58" y="482.15" class="lg" textLength="8.84" lengthAdjust="spacingAndGlyphs">I60</text>
<path d="M239.18 487.9h2.2M251.78 487.9h2.2" stroke="#ff2020" stroke-width="0.8"/>
<use href="#mcirctopr" x="246.58" y="487.9"/>
<text x="255.58" y="490.2" class="lg" textLength="22.19" lengthAdjust="spacingAndGlyphs">I60S2.5</text>
<path d="M239.18 495.95h2.2M251.78 495.95h2.2" stroke="#2020b0" stroke-width="0.8"/>
<use href="#mcircbottomb" x="246.58" y="495.95"/>
<text x="255.58" y="498.25" class="lg" textLength="16.69" lengthAdjust="spacingAndGlyphs">I60S5</text>
<path d="M239.18 504h2.2M251.78 504h2.2" stroke="#ff8c1a" stroke-width="0.8"/>
<use href="#mcirclefto" x="246.58" y="504"/>
<text x="255.58" y="506.3" class="lg" textLength="20.27" lengthAdjust="spacingAndGlyphs">I60S10</text>
<path d="M308.27 455.03L329.81 460.46" fill="none" stroke="#222" stroke-width="0.8"/>
<path d="M289.13 456.6L295.65 511.23" fill="none" stroke="#3aa33a" stroke-width="0.8"/>
<path d="M289.1 456.6L295.67 513.93" fill="none" stroke="#ff2020" stroke-width="0.8"/>
<path d="M289.04 456.61L295.73 522.86" fill="none" stroke="#2020b0" stroke-width="0.8"/>
<path d="M289.01 456.61L295.76 528.25" fill="none" stroke="#ff8c1a" stroke-width="0.8"/>
<use href="#msqopenk" x="288.58" y="452.03"/>
<use href="#msqopenk" x="296.19" y="451.62"/>
<use href="#msqopenk" x="303.81" y="453.9"/>
<use href="#msqopenk" x="334.27" y="461.59"/>
<use href="#mcircopeng" x="288.58" y="452.03"/>
<use href="#mcircopeng" x="296.19" y="515.8"/>
<use href="#mcirctopr" x="288.58" y="452.03"/>
<use href="#mcirctopr" x="296.19" y="518.5"/>
<use href="#mcircbottomb" x="288.58" y="452.03"/>
<use href="#mcircbottomb" x="296.19" y="527.43"/>
<use href="#mcirclefto" x="288.58" y="452.03"/>
<use href="#mcirclefto" x="296.19" y="532.83"/>
<circle cx="303.81" cy="561.91" r="1.35" fill="#4aa84a"/>
<circle cx="303.81" cy="566.48" r="1.35" fill="#ff4040"/>
<circle cx="303.81" cy="570.43" r="1.35" fill="#4848c0"/>
<circle cx="303.81" cy="575.21" r="1.35" fill="#ffa040"/>
<circle cx="334.27" cy="561.91" r="1.35" fill="#4aa84a"/>
<circle cx="334.27" cy="566.48" r="1.35" fill="#ff4040"/>
<circle cx="334.27" cy="570.43" r="1.35" fill="#4848c0"/>
<circle cx="334.27" cy="575.21" r="1.35" fill="#ffa040"/>
<path d="M297.94 477.6h2.2M310.54 477.6h2.2" stroke="#222" stroke-width="0.8"/>
<use href="#msqopenk" x="305.34" y="477.6"/>
<text x="314.34" y="479.9" class="lg" textLength="24.09" lengthAdjust="spacingAndGlyphs">DI water</text>
<path d="M297.94 485.65h2.2M310.54 485.65h2.2" stroke="#3aa33a" stroke-width="0.8"/>
<use href="#mcircopeng" x="305.34" y="485.65"/>
<text x="314.34" y="487.95" class="lg" textLength="8.84" lengthAdjust="spacingAndGlyphs">I70</text>
<path d="M297.94 493.7h2.2M310.54 493.7h2.2" stroke="#ff2020" stroke-width="0.8"/>
<use href="#mcirctopr" x="305.34" y="493.7"/>
<text x="314.34" y="496" class="lg" textLength="16.69" lengthAdjust="spacingAndGlyphs">I70S1</text>
<path d="M297.94 501.75h2.2M310.54 501.75h2.2" stroke="#2020b0" stroke-width="0.8"/>
<use href="#mcircbottomb" x="305.34" y="501.75"/>
<text x="314.34" y="504.05" class="lg" textLength="22.19" lengthAdjust="spacingAndGlyphs">I70S2.5</text>
<path d="M297.94 509.8h2.2M310.54 509.8h2.2" stroke="#ff8c1a" stroke-width="0.8"/>
<use href="#mcirclefto" x="305.34" y="509.8"/>
<text x="314.34" y="512.1" class="lg" textLength="16.69" lengthAdjust="spacingAndGlyphs">I70S5</text>
<path d="M406.17 454.82L427.67 459.21" fill="none" stroke="#222" stroke-width="0.8"/>
<path d="M396.75 449.51L398.94 452.48M405.98 457.77L427.86 465.82" fill="none" stroke="#222" stroke-width="0.8"/>
<path d="M388.36 456.19L392.07 464.07M406.22 474.85L427.62 477.61" fill="none" stroke="#222" stroke-width="0.8"/>
<path d="M387.51 456.5L392.92 478.31M406.21 487.79L427.63 490.85" fill="none" stroke="#222" stroke-width="0.8"/>
<path d="M387.45 456.51L392.98 479.96M396.24 488.47L399.45 494.32M406.24 498.82L427.6 501" fill="none" stroke="#222" stroke-width="0.8"/>
<path d="M387.41 456.52L393.02 481.4M396.29 489.89L399.4 495.39M406.2 500.1L427.64 503.46" fill="none" stroke="#222" stroke-width="0.8"/>
<path d="M432.18 478.2V474.05M430.58 474.05h3.2" stroke="#222" stroke-width="0.8"/>
<use href="#msqopenk" x="386.4" y="452.03"/>
<use href="#msqopenk" x="394.03" y="451.2"/>
<use href="#msqopenk" x="401.66" y="453.9"/>
<use href="#msqopenk" x="432.18" y="460.13"/>
<use href="#msqplusk" x="386.4" y="452.03"/>
<use href="#msqplusk" x="394.03" y="445.8"/>
<use href="#msqplusk" x="401.66" y="456.19"/>
<use href="#msqplusk" x="432.18" y="467.4"/>
<use href="#msqxk" x="386.4" y="452.03"/>
<use href="#msqxk" x="394.03" y="468.23"/>
<use href="#msqxk" x="401.66" y="474.26"/>
<use href="#msqxk" x="432.18" y="478.2"/>
<use href="#msqtopk" x="386.4" y="452.03"/>
<use href="#msqtopk" x="394.03" y="482.77"/>
<use href="#msqtopk" x="401.66" y="487.14"/>
<use href="#msqtopk" x="432.18" y="491.5"/>
<use href="#msqrightk" x="386.4" y="452.03"/>
<use href="#msqrightk" x="394.03" y="484.44"/>
<use href="#msqrightk" x="401.66" y="498.35"/>
<use href="#msqrightk" x="432.18" y="501.47"/>
<use href="#msqleftk" x="386.4" y="452.03"/>
<use href="#msqleftk" x="394.03" y="485.89"/>
<use href="#msqleftk" x="401.66" y="499.39"/>
<use href="#msqleftk" x="432.18" y="504.17"/>
<path d="M385.6 531.4h2.2M398.2 531.4h2.2" stroke="#222" stroke-width="0.8"/>
<use href="#msqopenk" x="393" y="531.4"/>
<text x="402" y="533.7" class="lg" textLength="24.09" lengthAdjust="spacingAndGlyphs">DI water</text>
<path d="M385.6 539.45h2.2M398.2 539.45h2.2" stroke="#222" stroke-width="0.8"/>
<use href="#msqplusk" x="393" y="539.45"/>
<text x="402" y="541.75" class="lg" textLength="7.6" lengthAdjust="spacingAndGlyphs">S1</text>
<path d="M385.6 547.5h2.2M398.2 547.5h2.2" stroke="#222" stroke-width="0.8"/>
<use href="#msqxk" x="393" y="547.5"/>
<text x="402" y="549.8" class="lg" textLength="13.1" lengthAdjust="spacingAndGlyphs">S2.5</text>
<path d="M385.6 555.55h2.2M398.2 555.55h2.2" stroke="#222" stroke-width="0.8"/>
<use href="#msqtopk" x="393" y="555.55"/>
<text x="402" y="557.85" class="lg" textLength="7.6" lengthAdjust="spacingAndGlyphs">S5</text>
<path d="M385.6 563.6h2.2M398.2 563.6h2.2" stroke="#222" stroke-width="0.8"/>
<use href="#msqrightk" x="393" y="563.6"/>
<text x="402" y="565.9" class="lg" textLength="11.19" lengthAdjust="spacingAndGlyphs">S10</text>
<path d="M385.6 571.65h2.2M398.2 571.65h2.2" stroke="#222" stroke-width="0.8"/>
<use href="#msqleftk" x="393" y="571.65"/>
<text x="402" y="573.95" class="lg" textLength="11.19" lengthAdjust="spacingAndGlyphs">S15</text>
<path d="M467.16 455.44L488.76 460.88" fill="none" stroke="#222" stroke-width="0.8"/>
<path d="M450.43 455.53L452.08 457.47M456.54 465.32L461.23 479.25M466.82 485.65L489.1 496.72" fill="none" stroke="#3aa33a" stroke-width="0.8"/>
<path d="M448.73 456.45L453.78 473.79M456.73 482.5L461.04 493.65M467.11 499.23L488.81 505.58" fill="none" stroke="#ff2020" stroke-width="0.8"/>
<path d="M448.4 456.53L454.11 483.47M457.12 492.09L460.65 499.22M467.18 504.38L488.74 509.36" fill="none" stroke="#2020b0" stroke-width="0.8"/>
<path d="M448.08 456.59L454.43 501.48" fill="none" stroke="#ff8c1a" stroke-width="0.8"/>
<use href="#msqopenk" x="447.44" y="452.03"/>
<use href="#msqopenk" x="455.07" y="452.03"/>
<use href="#msqopenk" x="462.7" y="454.32"/>
<use href="#msqopenk" x="493.22" y="462"/>
<use href="#mpentopeng" x="447.44" y="452.03"/>
<use href="#mpentopeng" x="455.07" y="460.96"/>
<use href="#mpentopeng" x="462.7" y="483.61"/>
<use href="#mpentopeng" x="493.22" y="498.77"/>
<use href="#mpenttopr" x="447.44" y="452.03"/>
<use href="#mpenttopr" x="455.07" y="478.2"/>
<use href="#mpenttopr" x="462.7" y="497.94"/>
<use href="#mpenttopr" x="493.22" y="506.87"/>
<use href="#mpentbottomb" x="447.44" y="452.03"/>
<use href="#mpentbottomb" x="455.07" y="487.97"/>
<use href="#mpentbottomb" x="462.7" y="503.34"/>
<use href="#mpentbottomb" x="493.22" y="510.4"/>
<use href="#mpentlefto" x="447.44" y="452.03"/>
<use href="#mpentlefto" x="455.07" y="506.04"/>
<use href="#mpentlefto" x="462.7" y="506.87"/>
<circle cx="493.22" cy="572.51" r="1.35" fill="#ffa040"/>
<path d="M445.18 533.9h2.2M457.78 533.9h2.2" stroke="#222" stroke-width="0.8"/>
<use href="#msqopenk" x="452.58" y="533.9"/>
<text x="461.58" y="536.2" class="lg" textLength="24.09" lengthAdjust="spacingAndGlyphs">DI water</text>
<path d="M445.18 541.95h2.2M457.78 541.95h2.2" stroke="#3aa33a" stroke-width="0.8"/>
<use href="#mpentopeng" x="452.58" y="541.95"/>
<text x="461.58" y="544.25" class="lg" textLength="11.19" lengthAdjust="spacingAndGlyphs">E30</text>
<path d="M445.18 550h2.2M457.78 550h2.2" stroke="#ff2020" stroke-width="0.8"/>
<use href="#mpenttopr" x="452.58" y="550"/>
<text x="461.58" y="552.3" class="lg" textLength="19.03" lengthAdjust="spacingAndGlyphs">E30S5</text>
<path d="M445.18 558.05h2.2M457.78 558.05h2.2" stroke="#2020b0" stroke-width="0.8"/>
<use href="#mpentbottomb" x="452.58" y="558.05"/>
<text x="461.58" y="560.35" class="lg" textLength="22.61" lengthAdjust="spacingAndGlyphs">E30S10</text>
<path d="M445.18 566.1h2.2M457.78 566.1h2.2" stroke="#ff8c1a" stroke-width="0.8"/>
<use href="#mpentlefto" x="452.58" y="566.1"/>
<text x="461.58" y="568.4" class="lg" textLength="22.61" lengthAdjust="spacingAndGlyphs">E30S15</text>
<path d="M528.2 455.44L549.8 460.88" fill="none" stroke="#222" stroke-width="0.8"/>
<path d="M511 455.88L513.59 459.82M517.16 468.14L522.69 491.59M528.19 497.25L549.81 502.99" fill="none" stroke="#3aa33a" stroke-width="0.8"/>
<path d="M509.62 456.49L514.97 477.28M527.36 484.99L550.64 503.2" fill="none" stroke="#ff2020" stroke-width="0.8"/>
<path d="M509.62 456.49L514.97 477.28M517.29 486.18L522.56 505.96M527.89 512.38L550.11 522.96" fill="none" stroke="#2020b0" stroke-width="0.8"/>
<path d="M509.3 456.56L515.29 489.67M517.53 498.57L522.32 513.3" fill="none" stroke="#ff8c1a" stroke-width="0.8"/>
<path d="M516.11 463.66V459.51M514.51 459.51h3.2" stroke="#3aa33a" stroke-width="0.8"/>
<path d="M554.26 504.17V500.01M552.66 500.01h3.2" stroke="#3aa33a" stroke-width="0.8"/>
<use href="#msqopenk" x="508.48" y="452.03"/>
<use href="#msqopenk" x="516.11" y="452.03"/>
<use href="#msqopenk" x="523.74" y="454.32"/>
<use href="#msqopenk" x="554.26" y="462"/>
<use href="#mtriopeng" x="508.48" y="452.03"/>
<use href="#mtriopeng" x="516.11" y="463.66"/>
<use href="#mtriopeng" x="523.74" y="496.07"/>
<use href="#mtriopeng" x="554.26" y="504.17"/>
<use href="#mtritopr" x="508.48" y="452.03"/>
<use href="#mtritopr" x="516.11" y="481.74"/>
<use href="#mtritopr" x="523.74" y="482.15"/>
<use href="#mtritopr" x="554.26" y="506.04"/>
<use href="#mtribottomb" x="508.48" y="452.03"/>
<use href="#mtribottomb" x="516.11" y="481.74"/>
<use href="#mtribottomb" x="523.74" y="510.4"/>
<use href="#mtribottomb" x="554.26" y="524.94"/>
<use href="#mtrilefto" x="508.48" y="452.03"/>
<use href="#mtrilefto" x="516.11" y="494.2"/>
<use href="#mtrilefto" x="523.74" y="517.67"/>
<circle cx="554.26" cy="572.92" r="1.35" fill="#ffa040"/>
<path d="M505.26 536h2.2M517.86 536h2.2" stroke="#222" stroke-width="0.8"/>
<use href="#msqopenk" x="512.66" y="536"/>
<text x="521.66" y="538.3" class="lg" textLength="24.09" lengthAdjust="spacingAndGlyphs">DI water</text>
<path d="M505.26 544.05h2.2M517.86 544.05h2.2" stroke="#3aa33a" stroke-width="0.8"/>
<use href="#mtriopeng" x="512.66" y="544.05"/>
<text x="521.66" y="546.35" class="lg" textLength="11.19" lengthAdjust="spacingAndGlyphs">E40</text>
<path d="M505.26 552.1h2.2M517.86 552.1h2.2" stroke="#ff2020" stroke-width="0.8"/>
<use href="#mtritopr" x="512.66" y="552.1"/>
<text x="521.66" y="554.4" class="lg" textLength="19.03" lengthAdjust="spacingAndGlyphs">E40S5</text>
<path d="M505.26 560.15h2.2M517.86 560.15h2.2" stroke="#2020b0" stroke-width="0.8"/>
<use href="#mtribottomb" x="512.66" y="560.15"/>
<text x="521.66" y="562.45" class="lg" textLength="22.61" lengthAdjust="spacingAndGlyphs">E40S10</text>
<path d="M505.26 568.2h2.2M517.86 568.2h2.2" stroke="#ff8c1a" stroke-width="0.8"/>
<use href="#mtrilefto" x="512.66" y="568.2"/>
<text x="521.66" y="570.5" class="lg" textLength="22.61" lengthAdjust="spacingAndGlyphs">E40S15</text>
<path d="M589.24 455.44L610.84 460.88" fill="none" stroke="#222" stroke-width="0.8"/>
<path d="M570.45 456.54L576.22 484.5M578.33 493.45L583.6 513.23" fill="none" stroke="#3aa33a" stroke-width="0.8"/>
<path d="M570.12 456.59L576.55 505.84M578.81 514.69L583.12 525.84" fill="none" stroke="#ff2020" stroke-width="0.8"/>
<path d="M570.12 456.59L576.55 505.84M578.4 514.83L583.53 532.98" fill="none" stroke="#2020b0" stroke-width="0.8"/>
<path d="M570.09 456.6L576.58 508.54" fill="none" stroke="#ff8c1a" stroke-width="0.8"/>
<use href="#msqopenk" x="569.52" y="452.03"/>
<use href="#msqopenk" x="577.15" y="452.03"/>
<use href="#msqopenk" x="584.78" y="454.32"/>
<use href="#msqopenk" x="615.3" y="462"/>
<use href="#mcircopeng" x="569.52" y="452.03"/>
<use href="#mcircopeng" x="577.15" y="489.01"/>
<use href="#mcircopeng" x="584.78" y="517.67"/>
<use href="#mcirctopr" x="569.52" y="452.03"/>
<use href="#mcirctopr" x="577.15" y="510.4"/>
<use href="#mcirctopr" x="584.78" y="530.13"/>
<use href="#mcircbottomb" x="569.52" y="452.03"/>
<use href="#mcircbottomb" x="577.15" y="510.4"/>
<use href="#mcircbottomb" x="584.78" y="537.4"/>
<use href="#mcirclefto" x="569.52" y="452.03"/>
<use href="#mcirclefto" x="577.15" y="513.1"/>
<circle cx="584.78" cy="573.34" r="1.35" fill="#ffa040"/>
<circle cx="615.3" cy="561.91" r="1.35" fill="#4aa84a"/>
<circle cx="615.3" cy="566.48" r="1.35" fill="#ff4040"/>
<circle cx="615.3" cy="570.43" r="1.35" fill="#4848c0"/>
<circle cx="615.3" cy="575.21" r="1.35" fill="#ffa040"/>
<path d="M580.34 471.7h2.2M592.94 471.7h2.2" stroke="#222" stroke-width="0.8"/>
<use href="#msqopenk" x="587.74" y="471.7"/>
<text x="596.74" y="474" class="lg" textLength="24.09" lengthAdjust="spacingAndGlyphs">DI water</text>
<path d="M580.34 479.75h2.2M592.94 479.75h2.2" stroke="#3aa33a" stroke-width="0.8"/>
<use href="#mcircopeng" x="587.74" y="479.75"/>
<text x="596.74" y="482.05" class="lg" textLength="11.19" lengthAdjust="spacingAndGlyphs">E60</text>
<path d="M580.34 487.8h2.2M592.94 487.8h2.2" stroke="#ff2020" stroke-width="0.8"/>
<use href="#mcirctopr" x="587.74" y="487.8"/>
<text x="596.74" y="490.1" class="lg" textLength="24.53" lengthAdjust="spacingAndGlyphs">E60S2.5</text>
<path d="M580.34 495.85h2.2M592.94 495.85h2.2" stroke="#2020b0" stroke-width="0.8"/>
<use href="#mcircbottomb" x="587.74" y="495.85"/>
<text x="596.74" y="498.15" class="lg" textLength="19.03" lengthAdjust="spacingAndGlyphs">E60S5</text>
<path d="M580.34 503.9h2.2M592.94 503.9h2.2" stroke="#ff8c1a" stroke-width="0.8"/>
<use href="#mcirclefto" x="587.74" y="503.9"/>
<text x="596.74" y="506.2" class="lg" textLength="22.61" lengthAdjust="spacingAndGlyphs">E60S10</text>
<path d="M650.28 455.44L671.88 460.88" fill="none" stroke="#222" stroke-width="0.8"/>
<path d="M631.05 456.61L637.7 519.33" fill="none" stroke="#3aa33a" stroke-width="0.8"/>
<path d="M631.23 456.58L637.52 499.62" fill="none" stroke="#ff2020" stroke-width="0.8"/>
<path d="M631 456.61L637.75 526.59" fill="none" stroke="#2020b0" stroke-width="0.8"/>
<use href="#msqopenk" x="630.56" y="452.03"/>
<use href="#msqopenk" x="638.19" y="452.03"/>
<use href="#msqopenk" x="645.82" y="454.32"/>
<use href="#msqopenk" x="676.34" y="462"/>
<use href="#mcircopeng" x="630.56" y="452.03"/>
<use href="#mcircopeng" x="638.19" y="523.9"/>
<use href="#mcirctopr" x="630.56" y="452.03"/>
<use href="#mcirctopr" x="638.19" y="504.17"/>
<use href="#mcircbottomb" x="630.56" y="452.03"/>
<use href="#mcircbottomb" x="638.19" y="531.17"/>
<use href="#mcirclefto" x="630.56" y="452.03"/>
<circle cx="635.14" cy="574.17" r="1.35" fill="#ffa040"/>
<circle cx="645.82" cy="561.91" r="1.35" fill="#4aa84a"/>
<circle cx="645.82" cy="566.48" r="1.35" fill="#ff4040"/>
<circle cx="645.82" cy="570.43" r="1.35" fill="#4848c0"/>
<circle cx="645.82" cy="575.21" r="1.35" fill="#ffa040"/>
<circle cx="676.34" cy="561.91" r="1.35" fill="#4aa84a"/>
<circle cx="676.34" cy="566.48" r="1.35" fill="#ff4040"/>
<circle cx="676.34" cy="570.43" r="1.35" fill="#4848c0"/>
<circle cx="676.34" cy="575.21" r="1.35" fill="#ffa040"/>
<path d="M640.82 477.6h2.2M653.42 477.6h2.2" stroke="#222" stroke-width="0.8"/>
<use href="#msqopenk" x="648.22" y="477.6"/>
<text x="657.22" y="479.9" class="lg" textLength="24.09" lengthAdjust="spacingAndGlyphs">DI water</text>
<path d="M640.82 485.65h2.2M653.42 485.65h2.2" stroke="#3aa33a" stroke-width="0.8"/>
<use href="#mcircopeng" x="648.22" y="485.65"/>
<text x="657.22" y="487.95" class="lg" textLength="11.19" lengthAdjust="spacingAndGlyphs">E70</text>
<path d="M640.82 493.7h2.2M653.42 493.7h2.2" stroke="#ff2020" stroke-width="0.8"/>
<use href="#mcirctopr" x="648.22" y="493.7"/>
<text x="657.22" y="496" class="lg" textLength="19.03" lengthAdjust="spacingAndGlyphs">E70S1</text>
<path d="M640.82 501.75h2.2M653.42 501.75h2.2" stroke="#2020b0" stroke-width="0.8"/>
<use href="#mcircbottomb" x="648.22" y="501.75"/>
<text x="657.22" y="504.05" class="lg" textLength="24.53" lengthAdjust="spacingAndGlyphs">E70S2.5</text>
<path d="M640.82 509.8h2.2M653.42 509.8h2.2" stroke="#ff8c1a" stroke-width="0.8"/>
<use href="#mcirclefto" x="648.22" y="509.8"/>
<text x="657.22" y="512.1" class="lg" textLength="19.03" lengthAdjust="spacingAndGlyphs">E70S5</text>
<path d="M37.7 635.8H342.3V782.3" fill="none" stroke="#777" stroke-width="1"/>
<path d="M37.7 782.3H342.3" stroke="#222" stroke-width="1.1"/>
<path d="M37.7 635.8V782.3" stroke="#000" stroke-width="1.1"/>
<path d="M37.7 782.3h3.2M37.7 776.79h2.6M37.7 773.56h2.6M37.7 771.27h2.6M37.7 769.5h2.6M37.7 768.05h2.6M37.7 766.82h2.6M37.7 765.76h2.6M37.7 764.83h2.6M37.7 763.99h3.2M37.7 758.47h2.6M37.7 755.25h2.6M37.7 752.96h2.6M37.7 751.19h2.6M37.7 749.74h2.6M37.7 748.51h2.6M37.7 747.45h2.6M37.7 746.51h2.6M37.7 745.67h3.2M37.7 740.16h2.6M37.7 736.94h2.6M37.7 734.65h2.6M37.7 732.88h2.6M37.7 731.43h2.6M37.7 730.2h2.6M37.7 729.14h2.6M37.7 728.2h2.6M37.7 727.36h3.2M37.7 721.85h2.6M37.7 718.63h2.6M37.7 716.34h2.6M37.7 714.56h2.6M37.7 713.11h2.6M37.7 711.89h2.6M37.7 710.82h2.6M37.7 709.89h2.6M37.7 709.05h3.2M37.7 703.54h2.6M37.7 700.31h2.6M37.7 698.02h2.6M37.7 696.25h2.6M37.7 694.8h2.6M37.7 693.57h2.6M37.7 692.51h2.6M37.7 691.58h2.6M37.7 690.74h3.2M37.7 685.22h2.6M37.7 682h2.6M37.7 679.71h2.6M37.7 677.94h2.6M37.7 676.49h2.6M37.7 675.26h2.6M37.7 674.2h2.6M37.7 673.26h2.6M37.7 672.42h3.2M37.7 666.91h2.6M37.7 663.69h2.6M37.7 661.4h2.6M37.7 659.63h2.6M37.7 658.18h2.6M37.7 656.95h2.6M37.7 655.89h2.6M37.7 654.95h2.6M37.7 654.11h3.2M37.7 648.6h2.6M37.7 645.38h2.6M37.7 643.09h2.6M37.7 641.31h2.6M37.7 639.86h2.6M37.7 638.64h2.6M37.7 637.57h2.6M37.7 636.64h2.6" stroke="#000" stroke-width="0.75"/>
<path d="M45.4 782.3v-2.4M60.63 782.3v-2.4M75.86 782.3v-2.4M91.09 782.3v-2.4" stroke="#000" stroke-width="0.7"/>
<text transform="translate(45.4 792.8) scale(0.92 1)" class="xt">0</text>
<text transform="translate(60.63 792.8) scale(0.92 1)" class="xt">10</text>
<text transform="translate(75.86 792.8) scale(0.92 1)" class="xt">20</text>
<text transform="translate(91.09 792.8) scale(0.92 1)" class="xt">30</text>
<path d="M98.62 635.8V782.3" stroke="#000" stroke-width="1.1"/>
<path d="M98.62 782.3h3.2M98.62 776.79h2.6M98.62 773.56h2.6M98.62 771.27h2.6M98.62 769.5h2.6M98.62 768.05h2.6M98.62 766.82h2.6M98.62 765.76h2.6M98.62 764.83h2.6M98.62 763.99h3.2M98.62 758.47h2.6M98.62 755.25h2.6M98.62 752.96h2.6M98.62 751.19h2.6M98.62 749.74h2.6M98.62 748.51h2.6M98.62 747.45h2.6M98.62 746.51h2.6M98.62 745.67h3.2M98.62 740.16h2.6M98.62 736.94h2.6M98.62 734.65h2.6M98.62 732.88h2.6M98.62 731.43h2.6M98.62 730.2h2.6M98.62 729.14h2.6M98.62 728.2h2.6M98.62 727.36h3.2M98.62 721.85h2.6M98.62 718.63h2.6M98.62 716.34h2.6M98.62 714.56h2.6M98.62 713.11h2.6M98.62 711.89h2.6M98.62 710.82h2.6M98.62 709.89h2.6M98.62 709.05h3.2M98.62 703.54h2.6M98.62 700.31h2.6M98.62 698.02h2.6M98.62 696.25h2.6M98.62 694.8h2.6M98.62 693.57h2.6M98.62 692.51h2.6M98.62 691.58h2.6M98.62 690.74h3.2M98.62 685.22h2.6M98.62 682h2.6M98.62 679.71h2.6M98.62 677.94h2.6M98.62 676.49h2.6M98.62 675.26h2.6M98.62 674.2h2.6M98.62 673.26h2.6M98.62 672.42h3.2M98.62 666.91h2.6M98.62 663.69h2.6M98.62 661.4h2.6M98.62 659.63h2.6M98.62 658.18h2.6M98.62 656.95h2.6M98.62 655.89h2.6M98.62 654.95h2.6M98.62 654.11h3.2M98.62 648.6h2.6M98.62 645.38h2.6M98.62 643.09h2.6M98.62 641.31h2.6M98.62 639.86h2.6M98.62 638.64h2.6M98.62 637.57h2.6M98.62 636.64h2.6" stroke="#000" stroke-width="0.75"/>
<path d="M106.32 782.3v-2.4M121.55 782.3v-2.4M136.78 782.3v-2.4M152.01 782.3v-2.4" stroke="#000" stroke-width="0.7"/>
<text transform="translate(106.32 792.8) scale(0.92 1)" class="xt">0</text>
<text transform="translate(121.55 792.8) scale(0.92 1)" class="xt">10</text>
<text transform="translate(136.78 792.8) scale(0.92 1)" class="xt">20</text>
<text transform="translate(152.01 792.8) scale(0.92 1)" class="xt">30</text>
<path d="M159.54 635.8V782.3" stroke="#000" stroke-width="1.1"/>
<path d="M159.54 782.3h3.2M159.54 776.79h2.6M159.54 773.56h2.6M159.54 771.27h2.6M159.54 769.5h2.6M159.54 768.05h2.6M159.54 766.82h2.6M159.54 765.76h2.6M159.54 764.83h2.6M159.54 763.99h3.2M159.54 758.47h2.6M159.54 755.25h2.6M159.54 752.96h2.6M159.54 751.19h2.6M159.54 749.74h2.6M159.54 748.51h2.6M159.54 747.45h2.6M159.54 746.51h2.6M159.54 745.67h3.2M159.54 740.16h2.6M159.54 736.94h2.6M159.54 734.65h2.6M159.54 732.88h2.6M159.54 731.43h2.6M159.54 730.2h2.6M159.54 729.14h2.6M159.54 728.2h2.6M159.54 727.36h3.2M159.54 721.85h2.6M159.54 718.63h2.6M159.54 716.34h2.6M159.54 714.56h2.6M159.54 713.11h2.6M159.54 711.89h2.6M159.54 710.82h2.6M159.54 709.89h2.6M159.54 709.05h3.2M159.54 703.54h2.6M159.54 700.31h2.6M159.54 698.02h2.6M159.54 696.25h2.6M159.54 694.8h2.6M159.54 693.57h2.6M159.54 692.51h2.6M159.54 691.58h2.6M159.54 690.74h3.2M159.54 685.22h2.6M159.54 682h2.6M159.54 679.71h2.6M159.54 677.94h2.6M159.54 676.49h2.6M159.54 675.26h2.6M159.54 674.2h2.6M159.54 673.26h2.6M159.54 672.42h3.2M159.54 666.91h2.6M159.54 663.69h2.6M159.54 661.4h2.6M159.54 659.63h2.6M159.54 658.18h2.6M159.54 656.95h2.6M159.54 655.89h2.6M159.54 654.95h2.6M159.54 654.11h3.2M159.54 648.6h2.6M159.54 645.38h2.6M159.54 643.09h2.6M159.54 641.31h2.6M159.54 639.86h2.6M159.54 638.64h2.6M159.54 637.57h2.6M159.54 636.64h2.6" stroke="#000" stroke-width="0.75"/>
<path d="M167.24 782.3v-2.4M182.47 782.3v-2.4M197.7 782.3v-2.4M212.93 782.3v-2.4" stroke="#000" stroke-width="0.7"/>
<text transform="translate(167.24 792.8) scale(0.92 1)" class="xt">0</text>
<text transform="translate(182.47 792.8) scale(0.92 1)" class="xt">10</text>
<text transform="translate(197.7 792.8) scale(0.92 1)" class="xt">20</text>
<text transform="translate(212.93 792.8) scale(0.92 1)" class="xt">30</text>
<path d="M220.46 635.8V782.3" stroke="#000" stroke-width="1.1"/>
<path d="M220.46 782.3h3.2M220.46 776.79h2.6M220.46 773.56h2.6M220.46 771.27h2.6M220.46 769.5h2.6M220.46 768.05h2.6M220.46 766.82h2.6M220.46 765.76h2.6M220.46 764.83h2.6M220.46 763.99h3.2M220.46 758.47h2.6M220.46 755.25h2.6M220.46 752.96h2.6M220.46 751.19h2.6M220.46 749.74h2.6M220.46 748.51h2.6M220.46 747.45h2.6M220.46 746.51h2.6M220.46 745.67h3.2M220.46 740.16h2.6M220.46 736.94h2.6M220.46 734.65h2.6M220.46 732.88h2.6M220.46 731.43h2.6M220.46 730.2h2.6M220.46 729.14h2.6M220.46 728.2h2.6M220.46 727.36h3.2M220.46 721.85h2.6M220.46 718.63h2.6M220.46 716.34h2.6M220.46 714.56h2.6M220.46 713.11h2.6M220.46 711.89h2.6M220.46 710.82h2.6M220.46 709.89h2.6M220.46 709.05h3.2M220.46 703.54h2.6M220.46 700.31h2.6M220.46 698.02h2.6M220.46 696.25h2.6M220.46 694.8h2.6M220.46 693.57h2.6M220.46 692.51h2.6M220.46 691.58h2.6M220.46 690.74h3.2M220.46 685.22h2.6M220.46 682h2.6M220.46 679.71h2.6M220.46 677.94h2.6M220.46 676.49h2.6M220.46 675.26h2.6M220.46 674.2h2.6M220.46 673.26h2.6M220.46 672.42h3.2M220.46 666.91h2.6M220.46 663.69h2.6M220.46 661.4h2.6M220.46 659.63h2.6M220.46 658.18h2.6M220.46 656.95h2.6M220.46 655.89h2.6M220.46 654.95h2.6M220.46 654.11h3.2M220.46 648.6h2.6M220.46 645.38h2.6M220.46 643.09h2.6M220.46 641.31h2.6M220.46 639.86h2.6M220.46 638.64h2.6M220.46 637.57h2.6M220.46 636.64h2.6" stroke="#000" stroke-width="0.75"/>
<path d="M228.16 782.3v-2.4M243.39 782.3v-2.4M258.62 782.3v-2.4M273.85 782.3v-2.4" stroke="#000" stroke-width="0.7"/>
<text transform="translate(228.16 792.8) scale(0.92 1)" class="xt">0</text>
<text transform="translate(243.39 792.8) scale(0.92 1)" class="xt">10</text>
<text transform="translate(258.62 792.8) scale(0.92 1)" class="xt">20</text>
<text transform="translate(273.85 792.8) scale(0.92 1)" class="xt">30</text>
<path d="M281.38 635.8V782.3" stroke="#000" stroke-width="1.1"/>
<path d="M281.38 782.3h3.2M281.38 776.79h2.6M281.38 773.56h2.6M281.38 771.27h2.6M281.38 769.5h2.6M281.38 768.05h2.6M281.38 766.82h2.6M281.38 765.76h2.6M281.38 764.83h2.6M281.38 763.99h3.2M281.38 758.47h2.6M281.38 755.25h2.6M281.38 752.96h2.6M281.38 751.19h2.6M281.38 749.74h2.6M281.38 748.51h2.6M281.38 747.45h2.6M281.38 746.51h2.6M281.38 745.67h3.2M281.38 740.16h2.6M281.38 736.94h2.6M281.38 734.65h2.6M281.38 732.88h2.6M281.38 731.43h2.6M281.38 730.2h2.6M281.38 729.14h2.6M281.38 728.2h2.6M281.38 727.36h3.2M281.38 721.85h2.6M281.38 718.63h2.6M281.38 716.34h2.6M281.38 714.56h2.6M281.38 713.11h2.6M281.38 711.89h2.6M281.38 710.82h2.6M281.38 709.89h2.6M281.38 709.05h3.2M281.38 703.54h2.6M281.38 700.31h2.6M281.38 698.02h2.6M281.38 696.25h2.6M281.38 694.8h2.6M281.38 693.57h2.6M281.38 692.51h2.6M281.38 691.58h2.6M281.38 690.74h3.2M281.38 685.22h2.6M281.38 682h2.6M281.38 679.71h2.6M281.38 677.94h2.6M281.38 676.49h2.6M281.38 675.26h2.6M281.38 674.2h2.6M281.38 673.26h2.6M281.38 672.42h3.2M281.38 666.91h2.6M281.38 663.69h2.6M281.38 661.4h2.6M281.38 659.63h2.6M281.38 658.18h2.6M281.38 656.95h2.6M281.38 655.89h2.6M281.38 654.95h2.6M281.38 654.11h3.2M281.38 648.6h2.6M281.38 645.38h2.6M281.38 643.09h2.6M281.38 641.31h2.6M281.38 639.86h2.6M281.38 638.64h2.6M281.38 637.57h2.6M281.38 636.64h2.6" stroke="#000" stroke-width="0.75"/>
<path d="M289.08 782.3v-2.4M304.31 782.3v-2.4M319.54 782.3v-2.4M334.77 782.3v-2.4" stroke="#000" stroke-width="0.7"/>
<text transform="translate(289.08 792.8) scale(0.92 1)" class="xt">0</text>
<text transform="translate(304.31 792.8) scale(0.92 1)" class="xt">10</text>
<text transform="translate(319.54 792.8) scale(0.92 1)" class="xt">20</text>
<text transform="translate(334.77 792.8) scale(0.92 1)" class="xt">30</text>
<text transform="translate(34.4 785.6) scale(0.88 1)" class="yt" font-size="9.8">10<tspan dx="0.5" dy="-4.4" font-size="6.8">0</tspan></text>
<text transform="translate(34.4 767.29) scale(0.88 1)" class="yt" font-size="9.8">10<tspan dx="0.5" dy="-4.4" font-size="6.8">1</tspan></text>
<text transform="translate(34.4 748.97) scale(0.88 1)" class="yt" font-size="9.8">10<tspan dx="0.5" dy="-4.4" font-size="6.8">2</tspan></text>
<text transform="translate(34.4 730.66) scale(0.88 1)" class="yt" font-size="9.8">10<tspan dx="0.5" dy="-4.4" font-size="6.8">3</tspan></text>
<text transform="translate(34.4 712.35) scale(0.88 1)" class="yt" font-size="9.8">10<tspan dx="0.5" dy="-4.4" font-size="6.8">4</tspan></text>
<text transform="translate(34.4 694.04) scale(0.88 1)" class="yt" font-size="9.8">10<tspan dx="0.5" dy="-4.4" font-size="6.8">5</tspan></text>
<text transform="translate(34.4 675.72) scale(0.88 1)" class="yt" font-size="9.8">10<tspan dx="0.5" dy="-4.4" font-size="6.8">6</tspan></text>
<text transform="translate(34.4 657.41) scale(0.88 1)" class="yt" font-size="9.8">10<tspan dx="0.5" dy="-4.4" font-size="6.8">7</tspan></text>
<text transform="translate(34.4 639.1) scale(0.88 1)" class="yt" font-size="9.8">10<tspan dx="0.5" dy="-4.4" font-size="6.8">8</tspan></text>
<path d="M379.6 634.4H684.2V780.8" fill="none" stroke="#777" stroke-width="1"/>
<path d="M379.6 780.8H684.2" stroke="#222" stroke-width="1.1"/>
<path d="M379.6 634.4V780.8" stroke="#000" stroke-width="1.1"/>
<path d="M379.6 780.8h3.2M379.6 775.29h2.6M379.6 772.07h2.6M379.6 769.78h2.6M379.6 768.01h2.6M379.6 766.56h2.6M379.6 765.33h2.6M379.6 764.27h2.6M379.6 763.34h2.6M379.6 762.5h3.2M379.6 756.99h2.6M379.6 753.77h2.6M379.6 751.48h2.6M379.6 749.71h2.6M379.6 748.26h2.6M379.6 747.03h2.6M379.6 745.97h2.6M379.6 745.04h2.6M379.6 744.2h3.2M379.6 738.69h2.6M379.6 735.47h2.6M379.6 733.18h2.6M379.6 731.41h2.6M379.6 729.96h2.6M379.6 728.73h2.6M379.6 727.67h2.6M379.6 726.74h2.6M379.6 725.9h3.2M379.6 720.39h2.6M379.6 717.17h2.6M379.6 714.88h2.6M379.6 713.11h2.6M379.6 711.66h2.6M379.6 710.43h2.6M379.6 709.37h2.6M379.6 708.44h2.6M379.6 707.6h3.2M379.6 702.09h2.6M379.6 698.87h2.6M379.6 696.58h2.6M379.6 694.81h2.6M379.6 693.36h2.6M379.6 692.13h2.6M379.6 691.07h2.6M379.6 690.14h2.6M379.6 689.3h3.2M379.6 683.79h2.6M379.6 680.57h2.6M379.6 678.28h2.6M379.6 676.51h2.6M379.6 675.06h2.6M379.6 673.83h2.6M379.6 672.77h2.6M379.6 671.84h2.6M379.6 671h3.2M379.6 665.49h2.6M379.6 662.27h2.6M379.6 659.98h2.6M379.6 658.21h2.6M379.6 656.76h2.6M379.6 655.53h2.6M379.6 654.47h2.6M379.6 653.54h2.6M379.6 652.7h3.2M379.6 647.19h2.6M379.6 643.97h2.6M379.6 641.68h2.6M379.6 639.91h2.6M379.6 638.46h2.6M379.6 637.23h2.6M379.6 636.17h2.6M379.6 635.24h2.6" stroke="#000" stroke-width="0.75"/>
<path d="M386.8 780.8v-2.4M402.03 780.8v-2.4M417.26 780.8v-2.4M432.49 780.8v-2.4" stroke="#000" stroke-width="0.7"/>
<text transform="translate(386.8 791.3) scale(0.92 1)" class="xt">0</text>
<text transform="translate(402.03 791.3) scale(0.92 1)" class="xt">10</text>
<text transform="translate(417.26 791.3) scale(0.92 1)" class="xt">20</text>
<text transform="translate(432.49 791.3) scale(0.92 1)" class="xt">30</text>
<path d="M440.52 634.4V780.8" stroke="#000" stroke-width="1.1"/>
<path d="M440.52 780.8h3.2M440.52 775.29h2.6M440.52 772.07h2.6M440.52 769.78h2.6M440.52 768.01h2.6M440.52 766.56h2.6M440.52 765.33h2.6M440.52 764.27h2.6M440.52 763.34h2.6M440.52 762.5h3.2M440.52 756.99h2.6M440.52 753.77h2.6M440.52 751.48h2.6M440.52 749.71h2.6M440.52 748.26h2.6M440.52 747.03h2.6M440.52 745.97h2.6M440.52 745.04h2.6M440.52 744.2h3.2M440.52 738.69h2.6M440.52 735.47h2.6M440.52 733.18h2.6M440.52 731.41h2.6M440.52 729.96h2.6M440.52 728.73h2.6M440.52 727.67h2.6M440.52 726.74h2.6M440.52 725.9h3.2M440.52 720.39h2.6M440.52 717.17h2.6M440.52 714.88h2.6M440.52 713.11h2.6M440.52 711.66h2.6M440.52 710.43h2.6M440.52 709.37h2.6M440.52 708.44h2.6M440.52 707.6h3.2M440.52 702.09h2.6M440.52 698.87h2.6M440.52 696.58h2.6M440.52 694.81h2.6M440.52 693.36h2.6M440.52 692.13h2.6M440.52 691.07h2.6M440.52 690.14h2.6M440.52 689.3h3.2M440.52 683.79h2.6M440.52 680.57h2.6M440.52 678.28h2.6M440.52 676.51h2.6M440.52 675.06h2.6M440.52 673.83h2.6M440.52 672.77h2.6M440.52 671.84h2.6M440.52 671h3.2M440.52 665.49h2.6M440.52 662.27h2.6M440.52 659.98h2.6M440.52 658.21h2.6M440.52 656.76h2.6M440.52 655.53h2.6M440.52 654.47h2.6M440.52 653.54h2.6M440.52 652.7h3.2M440.52 647.19h2.6M440.52 643.97h2.6M440.52 641.68h2.6M440.52 639.91h2.6M440.52 638.46h2.6M440.52 637.23h2.6M440.52 636.17h2.6M440.52 635.24h2.6" stroke="#000" stroke-width="0.75"/>
<path d="M447.72 780.8v-2.4M462.95 780.8v-2.4M478.18 780.8v-2.4M493.41 780.8v-2.4" stroke="#000" stroke-width="0.7"/>
<text transform="translate(447.72 791.3) scale(0.92 1)" class="xt">0</text>
<text transform="translate(462.95 791.3) scale(0.92 1)" class="xt">10</text>
<text transform="translate(478.18 791.3) scale(0.92 1)" class="xt">20</text>
<text transform="translate(493.41 791.3) scale(0.92 1)" class="xt">30</text>
<path d="M501.44 634.4V780.8" stroke="#000" stroke-width="1.1"/>
<path d="M501.44 780.8h3.2M501.44 775.29h2.6M501.44 772.07h2.6M501.44 769.78h2.6M501.44 768.01h2.6M501.44 766.56h2.6M501.44 765.33h2.6M501.44 764.27h2.6M501.44 763.34h2.6M501.44 762.5h3.2M501.44 756.99h2.6M501.44 753.77h2.6M501.44 751.48h2.6M501.44 749.71h2.6M501.44 748.26h2.6M501.44 747.03h2.6M501.44 745.97h2.6M501.44 745.04h2.6M501.44 744.2h3.2M501.44 738.69h2.6M501.44 735.47h2.6M501.44 733.18h2.6M501.44 731.41h2.6M501.44 729.96h2.6M501.44 728.73h2.6M501.44 727.67h2.6M501.44 726.74h2.6M501.44 725.9h3.2M501.44 720.39h2.6M501.44 717.17h2.6M501.44 714.88h2.6M501.44 713.11h2.6M501.44 711.66h2.6M501.44 710.43h2.6M501.44 709.37h2.6M501.44 708.44h2.6M501.44 707.6h3.2M501.44 702.09h2.6M501.44 698.87h2.6M501.44 696.58h2.6M501.44 694.81h2.6M501.44 693.36h2.6M501.44 692.13h2.6M501.44 691.07h2.6M501.44 690.14h2.6M501.44 689.3h3.2M501.44 683.79h2.6M501.44 680.57h2.6M501.44 678.28h2.6M501.44 676.51h2.6M501.44 675.06h2.6M501.44 673.83h2.6M501.44 672.77h2.6M501.44 671.84h2.6M501.44 671h3.2M501.44 665.49h2.6M501.44 662.27h2.6M501.44 659.98h2.6M501.44 658.21h2.6M501.44 656.76h2.6M501.44 655.53h2.6M501.44 654.47h2.6M501.44 653.54h2.6M501.44 652.7h3.2M501.44 647.19h2.6M501.44 643.97h2.6M501.44 641.68h2.6M501.44 639.91h2.6M501.44 638.46h2.6M501.44 637.23h2.6M501.44 636.17h2.6M501.44 635.24h2.6" stroke="#000" stroke-width="0.75"/>
<path d="M508.64 780.8v-2.4M523.87 780.8v-2.4M539.1 780.8v-2.4M554.33 780.8v-2.4" stroke="#000" stroke-width="0.7"/>
<text transform="translate(508.64 791.3) scale(0.92 1)" class="xt">0</text>
<text transform="translate(523.87 791.3) scale(0.92 1)" class="xt">10</text>
<text transform="translate(539.1 791.3) scale(0.92 1)" class="xt">20</text>
<text transform="translate(554.33 791.3) scale(0.92 1)" class="xt">30</text>
<path d="M562.36 634.4V780.8" stroke="#000" stroke-width="1.1"/>
<path d="M562.36 780.8h3.2M562.36 775.29h2.6M562.36 772.07h2.6M562.36 769.78h2.6M562.36 768.01h2.6M562.36 766.56h2.6M562.36 765.33h2.6M562.36 764.27h2.6M562.36 763.34h2.6M562.36 762.5h3.2M562.36 756.99h2.6M562.36 753.77h2.6M562.36 751.48h2.6M562.36 749.71h2.6M562.36 748.26h2.6M562.36 747.03h2.6M562.36 745.97h2.6M562.36 745.04h2.6M562.36 744.2h3.2M562.36 738.69h2.6M562.36 735.47h2.6M562.36 733.18h2.6M562.36 731.41h2.6M562.36 729.96h2.6M562.36 728.73h2.6M562.36 727.67h2.6M562.36 726.74h2.6M562.36 725.9h3.2M562.36 720.39h2.6M562.36 717.17h2.6M562.36 714.88h2.6M562.36 713.11h2.6M562.36 711.66h2.6M562.36 710.43h2.6M562.36 709.37h2.6M562.36 708.44h2.6M562.36 707.6h3.2M562.36 702.09h2.6M562.36 698.87h2.6M562.36 696.58h2.6M562.36 694.81h2.6M562.36 693.36h2.6M562.36 692.13h2.6M562.36 691.07h2.6M562.36 690.14h2.6M562.36 689.3h3.2M562.36 683.79h2.6M562.36 680.57h2.6M562.36 678.28h2.6M562.36 676.51h2.6M562.36 675.06h2.6M562.36 673.83h2.6M562.36 672.77h2.6M562.36 671.84h2.6M562.36 671h3.2M562.36 665.49h2.6M562.36 662.27h2.6M562.36 659.98h2.6M562.36 658.21h2.6M562.36 656.76h2.6M562.36 655.53h2.6M562.36 654.47h2.6M562.36 653.54h2.6M562.36 652.7h3.2M562.36 647.19h2.6M562.36 643.97h2.6M562.36 641.68h2.6M562.36 639.91h2.6M562.36 638.46h2.6M562.36 637.23h2.6M562.36 636.17h2.6M562.36 635.24h2.6" stroke="#000" stroke-width="0.75"/>
<path d="M569.56 780.8v-2.4M584.79 780.8v-2.4M600.02 780.8v-2.4M615.25 780.8v-2.4" stroke="#000" stroke-width="0.7"/>
<text transform="translate(569.56 791.3) scale(0.92 1)" class="xt">0</text>
<text transform="translate(584.79 791.3) scale(0.92 1)" class="xt">10</text>
<text transform="translate(600.02 791.3) scale(0.92 1)" class="xt">20</text>
<text transform="translate(615.25 791.3) scale(0.92 1)" class="xt">30</text>
<path d="M623.28 634.4V780.8" stroke="#000" stroke-width="1.1"/>
<path d="M623.28 780.8h3.2M623.28 775.29h2.6M623.28 772.07h2.6M623.28 769.78h2.6M623.28 768.01h2.6M623.28 766.56h2.6M623.28 765.33h2.6M623.28 764.27h2.6M623.28 763.34h2.6M623.28 762.5h3.2M623.28 756.99h2.6M623.28 753.77h2.6M623.28 751.48h2.6M623.28 749.71h2.6M623.28 748.26h2.6M623.28 747.03h2.6M623.28 745.97h2.6M623.28 745.04h2.6M623.28 744.2h3.2M623.28 738.69h2.6M623.28 735.47h2.6M623.28 733.18h2.6M623.28 731.41h2.6M623.28 729.96h2.6M623.28 728.73h2.6M623.28 727.67h2.6M623.28 726.74h2.6M623.28 725.9h3.2M623.28 720.39h2.6M623.28 717.17h2.6M623.28 714.88h2.6M623.28 713.11h2.6M623.28 711.66h2.6M623.28 710.43h2.6M623.28 709.37h2.6M623.28 708.44h2.6M623.28 707.6h3.2M623.28 702.09h2.6M623.28 698.87h2.6M623.28 696.58h2.6M623.28 694.81h2.6M623.28 693.36h2.6M623.28 692.13h2.6M623.28 691.07h2.6M623.28 690.14h2.6M623.28 689.3h3.2M623.28 683.79h2.6M623.28 680.57h2.6M623.28 678.28h2.6M623.28 676.51h2.6M623.28 675.06h2.6M623.28 673.83h2.6M623.28 672.77h2.6M623.28 671.84h2.6M623.28 671h3.2M623.28 665.49h2.6M623.28 662.27h2.6M623.28 659.98h2.6M623.28 658.21h2.6M623.28 656.76h2.6M623.28 655.53h2.6M623.28 654.47h2.6M623.28 653.54h2.6M623.28 652.7h3.2M623.28 647.19h2.6M623.28 643.97h2.6M623.28 641.68h2.6M623.28 639.91h2.6M623.28 638.46h2.6M623.28 637.23h2.6M623.28 636.17h2.6M623.28 635.24h2.6" stroke="#000" stroke-width="0.75"/>
<path d="M630.48 780.8v-2.4M645.71 780.8v-2.4M660.94 780.8v-2.4M676.17 780.8v-2.4" stroke="#000" stroke-width="0.7"/>
<text transform="translate(630.48 791.3) scale(0.92 1)" class="xt">0</text>
<text transform="translate(645.71 791.3) scale(0.92 1)" class="xt">10</text>
<text transform="translate(660.94 791.3) scale(0.92 1)" class="xt">20</text>
<text transform="translate(676.17 791.3) scale(0.92 1)" class="xt">30</text>
<text transform="translate(376.3 784.1) scale(0.88 1)" class="yt" font-size="9.8">10<tspan dx="0.5" dy="-4.4" font-size="6.8">0</tspan></text>
<text transform="translate(376.3 765.8) scale(0.88 1)" class="yt" font-size="9.8">10<tspan dx="0.5" dy="-4.4" font-size="6.8">1</tspan></text>
<text transform="translate(376.3 747.5) scale(0.88 1)" class="yt" font-size="9.8">10<tspan dx="0.5" dy="-4.4" font-size="6.8">2</tspan></text>
<text transform="translate(376.3 729.2) scale(0.88 1)" class="yt" font-size="9.8">10<tspan dx="0.5" dy="-4.4" font-size="6.8">3</tspan></text>
<text transform="translate(376.3 710.9) scale(0.88 1)" class="yt" font-size="9.8">10<tspan dx="0.5" dy="-4.4" font-size="6.8">4</tspan></text>
<text transform="translate(376.3 692.6) scale(0.88 1)" class="yt" font-size="9.8">10<tspan dx="0.5" dy="-4.4" font-size="6.8">5</tspan></text>
<text transform="translate(376.3 674.3) scale(0.88 1)" class="yt" font-size="9.8">10<tspan dx="0.5" dy="-4.4" font-size="6.8">6</tspan></text>
<text transform="translate(376.3 656) scale(0.88 1)" class="yt" font-size="9.8">10<tspan dx="0.5" dy="-4.4" font-size="6.8">7</tspan></text>
<text transform="translate(376.3 637.7) scale(0.88 1)" class="yt" font-size="9.8">10<tspan dx="0.5" dy="-4.4" font-size="6.8">8</tspan></text>
<text transform="translate(16 708.25) rotate(-90)" class="ytitle">CFU/µg protein</text>
<text x="-0.6" y="614.5" class="lt">d</text>
<text x="36.0" y="622.6" class="rn">i</text>
<text x="359.8" y="625.5" class="rn">ii</text>
<path d="M56.13 659.09L57.52 660.61M65.12 665.01L86.6 669.82" fill="none" stroke="#222" stroke-width="0.8"/>
<path d="M55.28 658.97L58.36 664.42M65.1 669.51L86.62 674.72" fill="none" stroke="#222" stroke-width="0.8"/>
<path d="M55.01 661.69L58.64 669.26M65.12 674.41L86.6 679.22" fill="none" stroke="#222" stroke-width="0.8"/>
<path d="M48.87 657.62L49.55 658.21M54.88 665.44L58.76 674.18M64.78 680.37L86.94 690.96" fill="none" stroke="#222" stroke-width="0.8"/>
<path d="M47.51 658.68L50.9 665.26M54.66 673.64L58.99 684.96M65.08 690.44L86.64 696.19" fill="none" stroke="#222" stroke-width="0.8"/>
<path d="M47.51 658.68L50.9 665.26M54.62 673.66L59.03 685.5M64.83 691.69L86.89 701.58" fill="none" stroke="#222" stroke-width="0.8"/>
<path d="M45.4 654.6V647.41M43.8 647.41h3.2" stroke="#222" stroke-width="0.8"/>
<use href="#msqopenk" x="45.4" y="654.6"/>
<use href="#msqopenk" x="53.02" y="655.7"/>
<use href="#msqopenk" x="60.63" y="664"/>
<use href="#msqopenk" x="91.09" y="670.82"/>
<use href="#msqplusk" x="45.4" y="654.6"/>
<use href="#msqplusk" x="53.02" y="654.97"/>
<use href="#msqplusk" x="60.63" y="668.42"/>
<use href="#msqplusk" x="91.09" y="675.8"/>
<use href="#msqxk" x="45.4" y="654.6"/>
<use href="#msqxk" x="53.02" y="657.55"/>
<use href="#msqxk" x="60.63" y="673.4"/>
<use href="#msqxk" x="91.09" y="680.23"/>
<use href="#msqtopk" x="45.4" y="654.6"/>
<use href="#msqtopk" x="53.02" y="661.23"/>
<use href="#msqtopk" x="60.63" y="678.38"/>
<use href="#msqtopk" x="91.09" y="692.95"/>
<use href="#msqrightk" x="45.4" y="654.6"/>
<use href="#msqrightk" x="53.02" y="669.35"/>
<use href="#msqrightk" x="60.63" y="689.26"/>
<use href="#msqrightk" x="91.09" y="697.37"/>
<use href="#msqleftk" x="45.4" y="654.6"/>
<use href="#msqleftk" x="53.02" y="669.35"/>
<use href="#msqleftk" x="60.63" y="689.81"/>
<use href="#msqleftk" x="91.09" y="703.46"/>
<path d="M43.3 734.6h2.2M55.9 734.6h2.2" stroke="#222" stroke-width="0.8"/>
<use href="#msqopenk" x="50.7" y="734.6"/>
<text x="59.7" y="736.9" class="lg" textLength="24.09" lengthAdjust="spacingAndGlyphs">DI water</text>
<path d="M43.3 742.65h2.2M55.9 742.65h2.2" stroke="#222" stroke-width="0.8"/>
<use href="#msqplusk" x="50.7" y="742.65"/>
<text x="59.7" y="744.95" class="lg" textLength="7.6" lengthAdjust="spacingAndGlyphs">S1</text>
<path d="M43.3 750.7h2.2M55.9 750.7h2.2" stroke="#222" stroke-width="0.8"/>
<use href="#msqxk" x="50.7" y="750.7"/>
<text x="59.7" y="753" class="lg" textLength="13.1" lengthAdjust="spacingAndGlyphs">S2.5</text>
<path d="M43.3 758.75h2.2M55.9 758.75h2.2" stroke="#222" stroke-width="0.8"/>
<use href="#msqtopk" x="50.7" y="758.75"/>
<text x="59.7" y="761.05" class="lg" textLength="7.6" lengthAdjust="spacingAndGlyphs">S5</text>
<path d="M43.3 766.8h2.2M55.9 766.8h2.2" stroke="#222" stroke-width="0.8"/>
<use href="#msqrightk" x="50.7" y="766.8"/>
<text x="59.7" y="769.1" class="lg" textLength="11.19" lengthAdjust="spacingAndGlyphs">S10</text>
<path d="M43.3 774.85h2.2M55.9 774.85h2.2" stroke="#222" stroke-width="0.8"/>
<use href="#msqleftk" x="50.7" y="774.85"/>
<text x="59.7" y="777.15" class="lg" textLength="11.19" lengthAdjust="spacingAndGlyphs">S15</text>
<path d="M116.51 660.43L118.97 664.06M126.11 668.51L147.45 671.48" fill="none" stroke="#222" stroke-width="0.8"/>
<path d="M115.72 663.63L119.76 673.22M125.6 679.64L147.96 691.69" fill="none" stroke="#3aa33a" stroke-width="0.8"/>
<path d="M108.61 658.59L111.65 663.88M116.97 671.33L118.51 673.08M124.92 679.66L148.64 701.62" fill="none" stroke="#ff2020" stroke-width="0.8"/>
<path d="M107.91 658.91L112.34 670.93M117.16 678.53L118.32 679.71M125.04 685.99L148.52 706.17" fill="none" stroke="#2020b0" stroke-width="0.8"/>
<path d="M107.59 659.02L112.67 676.73M115.96 685.27L119.52 692.51M125.36 699.22L148.2 714.7" fill="none" stroke="#ff8c1a" stroke-width="0.8"/>
<path d="M106.32 654.6V647.41M104.72 647.41h3.2" stroke="#ff8c1a" stroke-width="0.8"/>
<path d="M152.01 693.87V689.81M150.41 689.81h3.2" stroke="#3aa33a" stroke-width="0.8"/>
<use href="#msqopenk" x="106.32" y="654.6"/>
<use href="#msqopenk" x="113.94" y="656.62"/>
<use href="#msqopenk" x="121.55" y="667.87"/>
<use href="#msqopenk" x="152.01" y="672.11"/>
<use href="#mpentopeng" x="106.32" y="654.6"/>
<use href="#mpentopeng" x="113.94" y="659.39"/>
<use href="#mpentopeng" x="121.55" y="677.46"/>
<use href="#mpentopeng" x="152.01" y="693.87"/>
<use href="#mpenttopr" x="106.32" y="654.6"/>
<use href="#mpenttopr" x="113.94" y="667.87"/>
<use href="#mpenttopr" x="121.55" y="676.54"/>
<use href="#mpenttopr" x="152.01" y="704.75"/>
<use href="#mpentbottomb" x="106.32" y="654.6"/>
<use href="#mpentbottomb" x="113.94" y="675.25"/>
<use href="#mpentbottomb" x="121.55" y="682.99"/>
<use href="#mpentbottomb" x="152.01" y="709.17"/>
<use href="#mpentlefto" x="106.32" y="654.6"/>
<use href="#mpentlefto" x="113.94" y="681.15"/>
<use href="#mpentlefto" x="121.55" y="696.63"/>
<use href="#mpentlefto" x="152.01" y="717.28"/>
<path d="M103.34 741.8h2.2M115.94 741.8h2.2" stroke="#222" stroke-width="0.8"/>
<use href="#msqopenk" x="110.74" y="741.8"/>
<text x="119.74" y="744.1" class="lg" textLength="24.09" lengthAdjust="spacingAndGlyphs">DI water</text>
<path d="M103.34 749.85h2.2M115.94 749.85h2.2" stroke="#3aa33a" stroke-width="0.8"/>
<use href="#mpentopeng" x="110.74" y="749.85"/>
<text x="119.74" y="752.15" class="lg" textLength="8.84" lengthAdjust="spacingAndGlyphs">I30</text>
<path d="M103.34 757.9h2.2M115.94 757.9h2.2" stroke="#ff2020" stroke-width="0.8"/>
<use href="#mpenttopr" x="110.74" y="757.9"/>
<text x="119.74" y="760.2" class="lg" textLength="16.69" lengthAdjust="spacingAndGlyphs">I30S5</text>
<path d="M103.34 765.95h2.2M115.94 765.95h2.2" stroke="#2020b0" stroke-width="0.8"/>
<use href="#mpentbottomb" x="110.74" y="765.95"/>
<text x="119.74" y="768.25" class="lg" textLength="20.27" lengthAdjust="spacingAndGlyphs">I30S10</text>
<path d="M103.34 774h2.2M115.94 774h2.2" stroke="#ff8c1a" stroke-width="0.8"/>
<use href="#mpentlefto" x="110.74" y="774"/>
<text x="119.74" y="776.3" class="lg" textLength="20.27" lengthAdjust="spacingAndGlyphs">I30S15</text>
<path d="M177.43 660.43L179.89 664.06M187.03 668.51L208.37 671.48" fill="none" stroke="#222" stroke-width="0.8"/>
<path d="M168.08 659.12L174.02 691.19M178 699.07L179.32 700.47M186.95 704.88L208.45 709.96" fill="none" stroke="#3aa33a" stroke-width="0.8"/>
<path d="M168.06 659.12L174.04 692.11M177.38 700.48L179.95 704.4M186.97 709.2L208.43 713.75" fill="none" stroke="#ff2020" stroke-width="0.8"/>
<path d="M168.01 659.13L174.08 694.68M176.79 703.39L180.53 711.45M187 716.42L208.4 720.18" fill="none" stroke="#2020b0" stroke-width="0.8"/>
<path d="M167.96 659.14L174.14 698.36M177.1 706.92L180.23 712.53M186.88 717.85L208.52 724.27" fill="none" stroke="#ff8c1a" stroke-width="0.8"/>
<path d="M167.24 654.6V647.41M165.64 647.41h3.2" stroke="#ff8c1a" stroke-width="0.8"/>
<use href="#msqopenk" x="167.24" y="654.6"/>
<use href="#msqopenk" x="174.86" y="656.62"/>
<use href="#msqopenk" x="182.47" y="667.87"/>
<use href="#msqopenk" x="212.93" y="672.11"/>
<use href="#mtriopeng" x="167.24" y="654.6"/>
<use href="#mtriopeng" x="174.86" y="695.71"/>
<use href="#mtriopeng" x="182.47" y="703.83"/>
<use href="#mtriopeng" x="212.93" y="711.02"/>
<use href="#mtritopr" x="167.24" y="654.6"/>
<use href="#mtritopr" x="174.86" y="696.63"/>
<use href="#mtritopr" x="182.47" y="708.25"/>
<use href="#mtritopr" x="212.93" y="714.7"/>
<use href="#mtribottomb" x="167.24" y="654.6"/>
<use href="#mtribottomb" x="174.86" y="699.22"/>
<use href="#mtribottomb" x="182.47" y="715.62"/>
<use href="#mtribottomb" x="212.93" y="720.97"/>
<use href="#mtrilefto" x="167.24" y="654.6"/>
<use href="#mtrilefto" x="174.86" y="702.9"/>
<use href="#mtrilefto" x="182.47" y="716.55"/>
<use href="#mtrilefto" x="212.93" y="725.58"/>
<path d="M163.38 741.8h2.2M175.98 741.8h2.2" stroke="#222" stroke-width="0.8"/>
<use href="#msqopenk" x="170.78" y="741.8"/>
<text x="179.78" y="744.1" class="lg" textLength="24.09" lengthAdjust="spacingAndGlyphs">DI water</text>
<path d="M163.38 749.85h2.2M175.98 749.85h2.2" stroke="#3aa33a" stroke-width="0.8"/>
<use href="#mtriopeng" x="170.78" y="749.85"/>
<text x="179.78" y="752.15" class="lg" textLength="8.84" lengthAdjust="spacingAndGlyphs">I40</text>
<path d="M163.38 757.9h2.2M175.98 757.9h2.2" stroke="#ff2020" stroke-width="0.8"/>
<use href="#mtritopr" x="170.78" y="757.9"/>
<text x="179.78" y="760.2" class="lg" textLength="16.69" lengthAdjust="spacingAndGlyphs">I40S5</text>
<path d="M163.38 765.95h2.2M175.98 765.95h2.2" stroke="#2020b0" stroke-width="0.8"/>
<use href="#mtribottomb" x="170.78" y="765.95"/>
<text x="179.78" y="768.25" class="lg" textLength="20.27" lengthAdjust="spacingAndGlyphs">I40S10</text>
<path d="M163.38 774h2.2M175.98 774h2.2" stroke="#ff8c1a" stroke-width="0.8"/>
<use href="#mtrilefto" x="170.78" y="774"/>
<text x="179.78" y="776.3" class="lg" textLength="20.27" lengthAdjust="spacingAndGlyphs">I40S15</text>
<path d="M238.35 660.43L240.81 664.06M247.95 668.51L269.29 671.48" fill="none" stroke="#222" stroke-width="0.8"/>
<path d="M228.77 659.16L235.17 707.38M238.92 715.29L240.24 716.7M247.94 720.74L269.3 723.97" fill="none" stroke="#3aa33a" stroke-width="0.8"/>
<path d="M228.74 659.16L235.2 710.14M247.76 720.56L269.48 727.66" fill="none" stroke="#ff2020" stroke-width="0.8"/>
<path d="M228.66 659.17L235.27 719.17M247.8 729.47L269.44 735.89" fill="none" stroke="#2020b0" stroke-width="0.8"/>
<path d="M228.58 659.18L235.36 733.17M247.8 741.27L269.44 747.69" fill="none" stroke="#ff8c1a" stroke-width="0.8"/>
<path d="M228.16 654.6V647.41M226.56 647.41h3.2" stroke="#ff8c1a" stroke-width="0.8"/>
<use href="#msqopenk" x="228.16" y="654.6"/>
<use href="#msqopenk" x="235.77" y="656.62"/>
<use href="#msqopenk" x="243.39" y="667.87"/>
<use href="#msqopenk" x="273.85" y="672.11"/>
<use href="#mcircopeng" x="228.16" y="654.6"/>
<use href="#mcircopeng" x="235.77" y="711.94"/>
<use href="#mcircopeng" x="243.39" y="720.05"/>
<use href="#mcircopeng" x="273.85" y="724.66"/>
<use href="#mcirctopr" x="228.16" y="654.6"/>
<use href="#mcirctopr" x="235.77" y="714.7"/>
<use href="#mcirctopr" x="243.39" y="719.13"/>
<use href="#mcirctopr" x="273.85" y="729.08"/>
<use href="#mcircbottomb" x="228.16" y="654.6"/>
<use href="#mcircbottomb" x="235.77" y="723.74"/>
<use href="#mcircbottomb" x="243.39" y="728.16"/>
<use href="#mcircbottomb" x="273.85" y="737.2"/>
<use href="#mcirclefto" x="228.16" y="654.6"/>
<use href="#mcirclefto" x="235.77" y="737.75"/>
<use href="#mcirclefto" x="243.39" y="739.96"/>
<use href="#mcirclefto" x="273.85" y="749"/>
<path d="M238.02 679.3h2.2M250.62 679.3h2.2" stroke="#222" stroke-width="0.8"/>
<use href="#msqopenk" x="245.42" y="679.3"/>
<text x="254.42" y="681.6" class="lg" textLength="24.09" lengthAdjust="spacingAndGlyphs">DI water</text>
<path d="M238.02 687.35h2.2M250.62 687.35h2.2" stroke="#3aa33a" stroke-width="0.8"/>
<use href="#mcircopeng" x="245.42" y="687.35"/>
<text x="254.42" y="689.65" class="lg" textLength="8.84" lengthAdjust="spacingAndGlyphs">I60</text>
<path d="M238.02 695.4h2.2M250.62 695.4h2.2" stroke="#ff2020" stroke-width="0.8"/>
<use href="#mcirctopr" x="245.42" y="695.4"/>
<text x="254.42" y="697.7" class="lg" textLength="22.19" lengthAdjust="spacingAndGlyphs">I60S2.5</text>
<path d="M238.02 703.45h2.2M250.62 703.45h2.2" stroke="#2020b0" stroke-width="0.8"/>
<use href="#mcircbottomb" x="245.42" y="703.45"/>
<text x="254.42" y="705.75" class="lg" textLength="16.69" lengthAdjust="spacingAndGlyphs">I60S5</text>
<path d="M238.02 711.5h2.2M250.62 711.5h2.2" stroke="#ff8c1a" stroke-width="0.8"/>
<use href="#mcirclefto" x="245.42" y="711.5"/>
<text x="254.42" y="713.8" class="lg" textLength="20.27" lengthAdjust="spacingAndGlyphs">I60S10</text>
<path d="M299.27 660.43L301.73 664.06M308.87 668.51L330.21 671.48" fill="none" stroke="#222" stroke-width="0.8"/>
<path d="M289.62 659.17L296.16 714.56M298.83 723.2L302.18 729.62" fill="none" stroke="#3aa33a" stroke-width="0.8"/>
<path d="M289.6 659.17L296.17 716.4M298.65 725.14L302.36 733.03" fill="none" stroke="#ff2020" stroke-width="0.8"/>
<path d="M289.59 659.17L296.18 718.24M298.56 727.02L302.44 735.76" fill="none" stroke="#2020b0" stroke-width="0.8"/>
<path d="M289.54 659.17L296.23 725.43" fill="none" stroke="#ff8c1a" stroke-width="0.8"/>
<path d="M289.08 654.6V647.41M287.48 647.41h3.2" stroke="#ff8c1a" stroke-width="0.8"/>
<use href="#msqopenk" x="289.08" y="654.6"/>
<use href="#msqopenk" x="296.69" y="656.62"/>
<use href="#msqopenk" x="304.31" y="667.87"/>
<use href="#msqopenk" x="334.77" y="672.11"/>
<use href="#mcircopeng" x="289.08" y="654.6"/>
<use href="#mcircopeng" x="296.69" y="719.13"/>
<use href="#mcircopeng" x="304.31" y="733.69"/>
<use href="#mcirctopr" x="289.08" y="654.6"/>
<use href="#mcirctopr" x="296.69" y="720.97"/>
<use href="#mcirctopr" x="304.31" y="737.2"/>
<use href="#mcircbottomb" x="289.08" y="654.6"/>
<use href="#mcircbottomb" x="296.69" y="722.82"/>
<use href="#mcircbottomb" x="304.31" y="739.96"/>
<use href="#mcirclefto" x="289.08" y="654.6"/>
<use href="#mcirclefto" x="296.69" y="730.01"/>
<circle cx="304.31" cy="774.44" r="1.35" fill="#ffa040"/>
<circle cx="334.77" cy="769.28" r="1.35" fill="#4aa84a"/>
<circle cx="334.77" cy="772.6" r="1.35" fill="#ff4040"/>
<circle cx="334.77" cy="775.92" r="1.35" fill="#4848c0"/>
<circle cx="334.77" cy="779.42" r="1.35" fill="#ffa040"/>
<path d="M300.76 684.2h2.2M313.36 684.2h2.2" stroke="#222" stroke-width="0.8"/>
<use href="#msqopenk" x="308.16" y="684.2"/>
<text x="317.16" y="686.5" class="lg" textLength="24.09" lengthAdjust="spacingAndGlyphs">DI water</text>
<path d="M300.76 692.25h2.2M313.36 692.25h2.2" stroke="#3aa33a" stroke-width="0.8"/>
<use href="#mcircopeng" x="308.16" y="692.25"/>
<text x="317.16" y="694.55" class="lg" textLength="8.84" lengthAdjust="spacingAndGlyphs">I70</text>
<path d="M300.76 700.3h2.2M313.36 700.3h2.2" stroke="#ff2020" stroke-width="0.8"/>
<use href="#mcirctopr" x="308.16" y="700.3"/>
<text x="317.16" y="702.6" class="lg" textLength="16.69" lengthAdjust="spacingAndGlyphs">I70S1</text>
<path d="M300.76 708.35h2.2M313.36 708.35h2.2" stroke="#2020b0" stroke-width="0.8"/>
<use href="#mcircbottomb" x="308.16" y="708.35"/>
<text x="317.16" y="710.65" class="lg" textLength="22.19" lengthAdjust="spacingAndGlyphs">I70S2.5</text>
<path d="M300.76 716.4h2.2M313.36 716.4h2.2" stroke="#ff8c1a" stroke-width="0.8"/>
<use href="#mcirclefto" x="308.16" y="716.4"/>
<text x="317.16" y="718.7" class="lg" textLength="16.69" lengthAdjust="spacingAndGlyphs">I70S5</text>
<path d="M397.34 657.41L399.1 659.53M406.52 664.06L428 668.74" fill="none" stroke="#222" stroke-width="0.8"/>
<path d="M396.55 657.2L399.9 663.61M406.44 669L428.08 675.41" fill="none" stroke="#222" stroke-width="0.8"/>
<path d="M396.43 660.76L400.02 668.16M406.54 673.2L427.98 677.48" fill="none" stroke="#222" stroke-width="0.8"/>
<path d="M389.73 656.48L391.49 658.61M396.46 666.27L399.98 673.34M406.13 679.54L428.39 690.86" fill="none" stroke="#222" stroke-width="0.8"/>
<path d="M389.14 656.9L392.08 661.88M395.95 670.18L400.5 683.08M406.4 688.84L428.12 695.94" fill="none" stroke="#222" stroke-width="0.8"/>
<path d="M389.14 656.9L392.08 661.88M395.91 670.19L400.53 683.62M406.21 689.89L428.31 700.06" fill="none" stroke="#222" stroke-width="0.8"/>
<path d="M386.8 652.94V646.3M385.2 646.3h3.2" stroke="#222" stroke-width="0.8"/>
<use href="#msqopenk" x="386.8" y="652.94"/>
<use href="#msqopenk" x="394.42" y="653.86"/>
<use href="#msqopenk" x="402.03" y="663.08"/>
<use href="#msqopenk" x="432.49" y="669.72"/>
<use href="#msqplusk" x="386.8" y="652.94"/>
<use href="#msqplusk" x="394.42" y="653.12"/>
<use href="#msqplusk" x="402.03" y="667.69"/>
<use href="#msqplusk" x="432.49" y="676.72"/>
<use href="#msqxk" x="386.8" y="652.94"/>
<use href="#msqxk" x="394.42" y="656.62"/>
<use href="#msqxk" x="402.03" y="672.3"/>
<use href="#msqxk" x="432.49" y="678.38"/>
<use href="#msqtopk" x="386.8" y="652.94"/>
<use href="#msqtopk" x="394.42" y="662.16"/>
<use href="#msqtopk" x="402.03" y="677.46"/>
<use href="#msqtopk" x="432.49" y="692.95"/>
<use href="#msqrightk" x="386.8" y="652.94"/>
<use href="#msqrightk" x="394.42" y="665.84"/>
<use href="#msqrightk" x="402.03" y="687.42"/>
<use href="#msqrightk" x="432.49" y="697.37"/>
<use href="#msqleftk" x="386.8" y="652.94"/>
<use href="#msqleftk" x="394.42" y="665.84"/>
<use href="#msqleftk" x="402.03" y="687.97"/>
<use href="#msqleftk" x="432.49" y="701.98"/>
<path d="M384.4 733.2h2.2M397 733.2h2.2" stroke="#222" stroke-width="0.8"/>
<use href="#msqopenk" x="391.8" y="733.2"/>
<text x="400.8" y="735.5" class="lg" textLength="24.09" lengthAdjust="spacingAndGlyphs">DI water</text>
<path d="M384.4 741.25h2.2M397 741.25h2.2" stroke="#222" stroke-width="0.8"/>
<use href="#msqplusk" x="391.8" y="741.25"/>
<text x="400.8" y="743.55" class="lg" textLength="7.6" lengthAdjust="spacingAndGlyphs">S1</text>
<path d="M384.4 749.3h2.2M397 749.3h2.2" stroke="#222" stroke-width="0.8"/>
<use href="#msqxk" x="391.8" y="749.3"/>
<text x="400.8" y="751.6" class="lg" textLength="13.1" lengthAdjust="spacingAndGlyphs">S2.5</text>
<path d="M384.4 757.35h2.2M397 757.35h2.2" stroke="#222" stroke-width="0.8"/>
<use href="#msqtopk" x="391.8" y="757.35"/>
<text x="400.8" y="759.65" class="lg" textLength="7.6" lengthAdjust="spacingAndGlyphs">S5</text>
<path d="M384.4 765.4h2.2M397 765.4h2.2" stroke="#222" stroke-width="0.8"/>
<use href="#msqrightk" x="391.8" y="765.4"/>
<text x="400.8" y="767.7" class="lg" textLength="11.19" lengthAdjust="spacingAndGlyphs">S10</text>
<path d="M384.4 773.45h2.2M397 773.45h2.2" stroke="#222" stroke-width="0.8"/>
<use href="#msqleftk" x="391.8" y="773.45"/>
<text x="400.8" y="775.75" class="lg" textLength="11.19" lengthAdjust="spacingAndGlyphs">S15</text>
<path d="M457.97 660.39L460.31 663.73M467.53 667.92L488.83 669.85" fill="none" stroke="#222" stroke-width="0.8"/>
<path d="M456.65 654.76L461.63 671.39M467.16 677.66L489.2 687.4" fill="none" stroke="#3aa33a" stroke-width="0.8"/>
<path d="M456.62 654.77L461.67 672.12M467.19 678.31L489.17 687.49" fill="none" stroke="#ff2020" stroke-width="0.8"/>
<path d="M450.68 656.64L452.37 658.64M457.29 666.32L461 674.22M466.91 680.73L489.45 694.1" fill="none" stroke="#2020b0" stroke-width="0.8"/>
<path d="M449 657.54L454.05 674.89M457.83 683.17L460.46 687.24M466.93 693.41L489.43 706.49" fill="none" stroke="#ff8c1a" stroke-width="0.8"/>
<path d="M447.72 653.12V646.3M446.12 646.3h3.2" stroke="#ff8c1a" stroke-width="0.8"/>
<path d="M493.41 689.26V684.28M491.81 684.28h3.2" stroke="#ff2020" stroke-width="0.8"/>
<use href="#msqopenk" x="447.72" y="653.12"/>
<use href="#msqopenk" x="455.34" y="656.62"/>
<use href="#msqopenk" x="462.95" y="667.5"/>
<use href="#msqopenk" x="493.41" y="670.27"/>
<use href="#mpentopeng" x="447.72" y="653.12"/>
<use href="#mpentopeng" x="455.34" y="650.36"/>
<use href="#mpentopeng" x="462.95" y="675.8"/>
<use href="#mpentopeng" x="493.41" y="689.26"/>
<use href="#mpenttopr" x="447.72" y="653.12"/>
<use href="#mpenttopr" x="455.34" y="650.36"/>
<use href="#mpenttopr" x="462.95" y="676.54"/>
<use href="#mpenttopr" x="493.41" y="689.26"/>
<use href="#mpentbottomb" x="447.72" y="653.12"/>
<use href="#mpentbottomb" x="455.34" y="662.16"/>
<use href="#mpentbottomb" x="462.95" y="678.38"/>
<use href="#mpentbottomb" x="493.41" y="696.45"/>
<use href="#mpentlefto" x="447.72" y="653.12"/>
<use href="#mpentlefto" x="455.34" y="679.3"/>
<use href="#mpentlefto" x="462.95" y="691.1"/>
<use href="#mpentlefto" x="493.41" y="708.8"/>
<path d="M446.26 734.6h2.2M458.86 734.6h2.2" stroke="#222" stroke-width="0.8"/>
<use href="#msqopenk" x="453.66" y="734.6"/>
<text x="462.66" y="736.9" class="lg" textLength="24.09" lengthAdjust="spacingAndGlyphs">DI water</text>
<path d="M446.26 742.65h2.2M458.86 742.65h2.2" stroke="#3aa33a" stroke-width="0.8"/>
<use href="#mpentopeng" x="453.66" y="742.65"/>
<text x="462.66" y="744.95" class="lg" textLength="11.19" lengthAdjust="spacingAndGlyphs">E30</text>
<path d="M446.26 750.7h2.2M458.86 750.7h2.2" stroke="#ff2020" stroke-width="0.8"/>
<use href="#mpenttopr" x="453.66" y="750.7"/>
<text x="462.66" y="753" class="lg" textLength="19.03" lengthAdjust="spacingAndGlyphs">E30S5</text>
<path d="M446.26 758.75h2.2M458.86 758.75h2.2" stroke="#2020b0" stroke-width="0.8"/>
<use href="#mpentbottomb" x="453.66" y="758.75"/>
<text x="462.66" y="761.05" class="lg" textLength="22.61" lengthAdjust="spacingAndGlyphs">E30S10</text>
<path d="M446.26 766.8h2.2M458.86 766.8h2.2" stroke="#ff8c1a" stroke-width="0.8"/>
<use href="#mpentlefto" x="453.66" y="766.8"/>
<text x="462.66" y="769.1" class="lg" textLength="22.61" lengthAdjust="spacingAndGlyphs">E30S15</text>
<path d="M518.89 660.39L521.23 663.73M528.45 667.92L549.75 669.85" fill="none" stroke="#222" stroke-width="0.8"/>
<path d="M517.43 653.51L522.7 673.56M527.54 680.79L550.66 698.28" fill="none" stroke="#3aa33a" stroke-width="0.8"/>
<path d="M510.01 657.51L514.88 673.07M519.18 681.01L520.94 683.13M527.38 689.65L550.82 709.52" fill="none" stroke="#ff2020" stroke-width="0.8"/>
<path d="M509.36 657.66L515.53 696.52M519.4 704.41L520.72 705.82M528.02 711.16L550.18 721.75" fill="none" stroke="#2020b0" stroke-width="0.8"/>
<path d="M509.39 657.66L515.51 694.68M517.72 703.58L522.41 717.53M528.44 722.45L549.76 725.03" fill="none" stroke="#ff8c1a" stroke-width="0.8"/>
<path d="M508.64 653.12V646.3M507.04 646.3h3.2" stroke="#ff8c1a" stroke-width="0.8"/>
<use href="#msqopenk" x="508.64" y="653.12"/>
<use href="#msqopenk" x="516.25" y="656.62"/>
<use href="#msqopenk" x="523.87" y="667.5"/>
<use href="#msqopenk" x="554.33" y="670.27"/>
<use href="#mtriopeng" x="508.64" y="653.12"/>
<use href="#mtriopeng" x="516.25" y="649.07"/>
<use href="#mtriopeng" x="523.87" y="678.01"/>
<use href="#mtriopeng" x="554.33" y="701.06"/>
<use href="#mtritopr" x="508.64" y="653.12"/>
<use href="#mtritopr" x="516.25" y="677.46"/>
<use href="#mtritopr" x="523.87" y="686.68"/>
<use href="#mtritopr" x="554.33" y="712.49"/>
<use href="#mtribottomb" x="508.64" y="653.12"/>
<use href="#mtribottomb" x="516.25" y="701.06"/>
<use href="#mtribottomb" x="523.87" y="709.17"/>
<use href="#mtribottomb" x="554.33" y="723.74"/>
<use href="#mtrilefto" x="508.64" y="653.12"/>
<use href="#mtrilefto" x="516.25" y="699.22"/>
<use href="#mtrilefto" x="523.87" y="721.89"/>
<use href="#mtrilefto" x="554.33" y="725.58"/>
<path d="M507.32 735.5h2.2M519.92 735.5h2.2" stroke="#222" stroke-width="0.8"/>
<use href="#msqopenk" x="514.72" y="735.5"/>
<text x="523.72" y="737.8" class="lg" textLength="24.09" lengthAdjust="spacingAndGlyphs">DI water</text>
<path d="M507.32 743.55h2.2M519.92 743.55h2.2" stroke="#3aa33a" stroke-width="0.8"/>
<use href="#mtriopeng" x="514.72" y="743.55"/>
<text x="523.72" y="745.85" class="lg" textLength="11.19" lengthAdjust="spacingAndGlyphs">E40</text>
<path d="M507.32 751.6h2.2M519.92 751.6h2.2" stroke="#ff2020" stroke-width="0.8"/>
<use href="#mtritopr" x="514.72" y="751.6"/>
<text x="523.72" y="753.9" class="lg" textLength="19.03" lengthAdjust="spacingAndGlyphs">E40S5</text>
<path d="M507.32 759.65h2.2M519.92 759.65h2.2" stroke="#2020b0" stroke-width="0.8"/>
<use href="#mtribottomb" x="514.72" y="759.65"/>
<text x="523.72" y="761.95" class="lg" textLength="22.61" lengthAdjust="spacingAndGlyphs">E40S10</text>
<path d="M507.32 767.7h2.2M519.92 767.7h2.2" stroke="#ff8c1a" stroke-width="0.8"/>
<use href="#mtrilefto" x="514.72" y="767.7"/>
<text x="523.72" y="770" class="lg" textLength="22.61" lengthAdjust="spacingAndGlyphs">E40S15</text>
<path d="M579.81 660.39L582.15 663.73M589.37 667.92L610.67 669.85" fill="none" stroke="#222" stroke-width="0.8"/>
<path d="M571.87 657.1L574.86 662.24M578.82 670.51L583.15 681.83M588.59 688.72L611.45 704.36" fill="none" stroke="#3aa33a" stroke-width="0.8"/>
<path d="M570.7 657.58L576.04 678.53M578.6 687.37L583.37 702.03M589.08 708.07L610.96 716.54" fill="none" stroke="#ff2020" stroke-width="0.8"/>
<path d="M570.46 657.63L576.27 686.59M578.93 695.35L583.03 705.29M588.25 712.58L611.79 733.24" fill="none" stroke="#2020b0" stroke-width="0.8"/>
<path d="M570.23 657.67L576.5 700.2" fill="none" stroke="#ff8c1a" stroke-width="0.8"/>
<path d="M569.56 653.12V646.3M567.96 646.3h3.2" stroke="#ff8c1a" stroke-width="0.8"/>
<use href="#msqopenk" x="569.56" y="653.12"/>
<use href="#msqopenk" x="577.18" y="656.62"/>
<use href="#msqopenk" x="584.79" y="667.5"/>
<use href="#msqopenk" x="615.25" y="670.27"/>
<use href="#mcircopeng" x="569.56" y="653.12"/>
<use href="#mcircopeng" x="577.18" y="666.21"/>
<use href="#mcircopeng" x="584.79" y="686.12"/>
<use href="#mcircopeng" x="615.25" y="706.96"/>
<use href="#mcirctopr" x="569.56" y="653.12"/>
<use href="#mcirctopr" x="577.18" y="682.99"/>
<use href="#mcirctopr" x="584.79" y="706.41"/>
<use href="#mcirctopr" x="615.25" y="718.21"/>
<use href="#mcircbottomb" x="569.56" y="653.12"/>
<use href="#mcircbottomb" x="577.18" y="691.1"/>
<use href="#mcircbottomb" x="584.79" y="709.54"/>
<use href="#mcircbottomb" x="615.25" y="736.27"/>
<use href="#mcirclefto" x="569.56" y="653.12"/>
<use href="#mcirclefto" x="577.18" y="704.75"/>
<circle cx="584.79" cy="774.07" r="1.35" fill="#ffa040"/>
<circle cx="615.25" cy="773.52" r="1.35" fill="#ffa040"/>
<path d="M567.88 734.2h2.2M580.48 734.2h2.2" stroke="#222" stroke-width="0.8"/>
<use href="#msqopenk" x="575.28" y="734.2"/>
<text x="584.28" y="736.5" class="lg" textLength="24.09" lengthAdjust="spacingAndGlyphs">DI water</text>
<path d="M567.88 742.25h2.2M580.48 742.25h2.2" stroke="#3aa33a" stroke-width="0.8"/>
<use href="#mcircopeng" x="575.28" y="742.25"/>
<text x="584.28" y="744.55" class="lg" textLength="11.19" lengthAdjust="spacingAndGlyphs">E60</text>
<path d="M567.88 750.3h2.2M580.48 750.3h2.2" stroke="#ff2020" stroke-width="0.8"/>
<use href="#mcirctopr" x="575.28" y="750.3"/>
<text x="584.28" y="752.6" class="lg" textLength="24.53" lengthAdjust="spacingAndGlyphs">E60S2.5</text>
<path d="M567.88 758.35h2.2M580.48 758.35h2.2" stroke="#2020b0" stroke-width="0.8"/>
<use href="#mcircbottomb" x="575.28" y="758.35"/>
<text x="584.28" y="760.65" class="lg" textLength="19.03" lengthAdjust="spacingAndGlyphs">E60S5</text>
<path d="M567.88 766.4h2.2M580.48 766.4h2.2" stroke="#ff8c1a" stroke-width="0.8"/>
<use href="#mcirclefto" x="575.28" y="766.4"/>
<text x="584.28" y="768.7" class="lg" textLength="22.61" lengthAdjust="spacingAndGlyphs">E60S10</text>
<path d="M640.73 660.39L643.07 663.73M650.29 667.92L671.59 669.85" fill="none" stroke="#222" stroke-width="0.8"/>
<path d="M631.16 657.67L637.41 699.28M640.25 707.89L643.56 714.14" fill="none" stroke="#3aa33a" stroke-width="0.8"/>
<path d="M630.99 657.69L637.59 717.32" fill="none" stroke="#ff2020" stroke-width="0.8"/>
<path d="M630.98 657.69L637.6 718.24M640.73 726.58L643.07 729.93" fill="none" stroke="#2020b0" stroke-width="0.8"/>
<path d="M630.95 657.7L637.62 722.66" fill="none" stroke="#ff8c1a" stroke-width="0.8"/>
<path d="M630.48 653.12V646.3M628.88 646.3h3.2" stroke="#ff8c1a" stroke-width="0.8"/>
<use href="#msqopenk" x="630.48" y="653.12"/>
<use href="#msqopenk" x="638.1" y="656.62"/>
<use href="#msqopenk" x="645.71" y="667.5"/>
<use href="#msqopenk" x="676.17" y="670.27"/>
<use href="#mcircopeng" x="630.48" y="653.12"/>
<use href="#mcircopeng" x="638.1" y="703.83"/>
<use href="#mcircopeng" x="645.71" y="718.21"/>
<use href="#mcirctopr" x="630.48" y="653.12"/>
<use href="#mcirctopr" x="638.1" y="721.89"/>
<use href="#mcirctopr" x="645.71" y="728.16"/>
<use href="#mcircbottomb" x="630.48" y="653.12"/>
<use href="#mcircbottomb" x="638.1" y="722.82"/>
<use href="#mcircbottomb" x="645.71" y="733.69"/>
<use href="#mcirclefto" x="630.48" y="653.12"/>
<use href="#mcirclefto" x="638.1" y="727.24"/>
<circle cx="645.71" cy="774.07" r="1.35" fill="#ffa040"/>
<circle cx="676.17" cy="759.51" r="1.35" fill="#4aa84a"/>
<circle cx="676.17" cy="763.93" r="1.35" fill="#ff4040"/>
<circle cx="676.17" cy="769.28" r="1.35" fill="#4848c0"/>
<circle cx="676.17" cy="774.07" r="1.35" fill="#ffa040"/>
<path d="M641.04 678.4h2.2M653.64 678.4h2.2" stroke="#222" stroke-width="0.8"/>
<use href="#msqopenk" x="648.44" y="678.4"/>
<text x="657.44" y="680.7" class="lg" textLength="24.09" lengthAdjust="spacingAndGlyphs">DI water</text>
<path d="M641.04 686.45h2.2M653.64 686.45h2.2" stroke="#3aa33a" stroke-width="0.8"/>
<use href="#mcircopeng" x="648.44" y="686.45"/>
<text x="657.44" y="688.75" class="lg" textLength="11.19" lengthAdjust="spacingAndGlyphs">E70</text>
<path d="M641.04 694.5h2.2M653.64 694.5h2.2" stroke="#ff2020" stroke-width="0.8"/>
<use href="#mcirctopr" x="648.44" y="694.5"/>
<text x="657.44" y="696.8" class="lg" textLength="19.03" lengthAdjust="spacingAndGlyphs">E70S1</text>
<path d="M641.04 702.55h2.2M653.64 702.55h2.2" stroke="#2020b0" stroke-width="0.8"/>
<use href="#mcircbottomb" x="648.44" y="702.55"/>
<text x="657.44" y="704.85" class="lg" textLength="24.53" lengthAdjust="spacingAndGlyphs">E70S2.5</text>
<path d="M641.04 710.6h2.2M653.64 710.6h2.2" stroke="#ff8c1a" stroke-width="0.8"/>
<use href="#mcirclefto" x="648.44" y="710.6"/>
<text x="657.44" y="712.9" class="lg" textLength="19.03" lengthAdjust="spacingAndGlyphs">E70S5</text>
<path d="M63.41 53.34v-1.3M62.21 52.04h2.4M93.94 51.89v-1.3M92.74 50.59h2.4M124.46 54.26v-1.3M123.26 52.96h2.4M154.99 53.53v-1.3M153.79 52.23h2.4M185.51 54.26v-1.3M184.31 52.96h2.4M216.04 53.53v-1.3M214.84 52.23h2.4M246.56 54.26v-1.3M245.36 52.96h2.4M277.09 53.53v-1.3M275.89 52.23h2.4M307.61 54.26v-1.3M306.41 52.96h2.4M338.14 53.53v-1.3M336.94 52.23h2.4M397.34 53.34v-1.3M396.14 52.04h2.4M427.81 51.89v-1.3M426.61 50.59h2.4M458.28 54.62v-1.3M457.08 53.32h2.4M488.75 53.71v-1.3M487.55 52.41h2.4M519.22 54.62v-1.3M518.01 53.32h2.4M549.69 53.71v-1.3M548.49 52.41h2.4M580.16 54.62v-1.3M578.96 53.32h2.4M610.63 53.71v-1.3M609.43 52.41h2.4M641.1 54.62v-1.3M639.89 53.32h2.4M671.57 53.71v-1.3M670.37 52.41h2.4M58.36 248.09v1.5M57.16 249.59h2.4M96.42 256.85v1.5M95.22 258.35h2.4M119.25 247.91v1.5M118.05 249.41h2.4M157.31 257.4v1.5M156.11 258.9h2.4M180.14 247.91v1.5M178.94 249.41h2.4M218.2 257.4v1.5M217 258.9h2.4M241.03 247.91v1.5M239.83 249.41h2.4M279.09 257.4v1.5M277.89 258.9h2.4M301.92 247.91v1.5M300.72 249.41h2.4M339.98 257.4v1.5M338.78 258.9h2.4M392.11 248.09v1.5M390.91 249.59h2.4M430.16 256.85v1.5M428.96 258.35h2.4M452.99 247.91v1.5M451.79 249.41h2.4M491.04 257.4v1.5M489.84 258.9h2.4M513.87 247.91v1.5M512.67 249.41h2.4M551.92 257.4v1.5M550.72 258.9h2.4M574.75 247.91v1.5M573.55 249.41h2.4M612.8 257.4v1.5M611.6 258.9h2.4M635.63 247.91v1.5M634.43 249.41h2.4M673.68 257.4v1.5M672.48 258.9h2.4M90.59 457.23v-1.3M89.39 455.93h2.4M151.51 458.69v-1.3M150.31 457.39h2.4M212.43 458.69v-1.3M211.23 457.39h2.4M273.35 458.69v-1.3M272.15 457.39h2.4M334.27 458.69v-1.3M333.07 457.39h2.4M432.18 457.23v-1.3M430.98 455.93h2.4M493.22 459.1v-1.3M492.02 457.8h2.4M554.26 459.1v-1.3M553.06 457.8h2.4M615.3 459.1v-1.3M614.1 457.8h2.4M676.34 459.1v-1.3M675.14 457.8h2.4M60.63 661.1v1.5M59.43 662.6h2.4M91.09 667.92v-1.3M89.89 666.62h2.4M121.55 664.97v1.5M120.35 666.47h2.4M152.01 669.21v-1.3M150.81 667.91h2.4M182.47 664.97v1.5M181.27 666.47h2.4M212.93 669.21v-1.3M211.73 667.91h2.4M243.39 664.97v1.5M242.19 666.47h2.4M273.85 669.21v-1.3M272.65 667.91h2.4M304.31 664.97v1.5M303.11 666.47h2.4M334.77 669.21v-1.3M333.57 667.91h2.4M402.03 660.18v1.5M400.83 661.68h2.4M432.49 666.82v-1.3M431.29 665.52h2.4M462.95 664.6v1.5M461.75 666.1h2.4M493.41 667.37v-1.3M492.21 666.07h2.4M523.87 664.6v1.5M522.67 666.1h2.4M554.33 667.37v-1.3M553.13 666.07h2.4M584.79 664.6v1.5M583.59 666.1h2.4M615.25 667.37v-1.3M614.05 666.07h2.4M645.71 664.6v1.5M644.51 666.1h2.4M676.17 667.37v-1.3M674.97 666.07h2.4" stroke="#222" stroke-width="0.8"/>
<text x="190.7" y="808.8" class="tt">Time (min)</text>
<text x="531.8" y="808.3" class="tt">Time (min)</text>
</svg></body></html>
